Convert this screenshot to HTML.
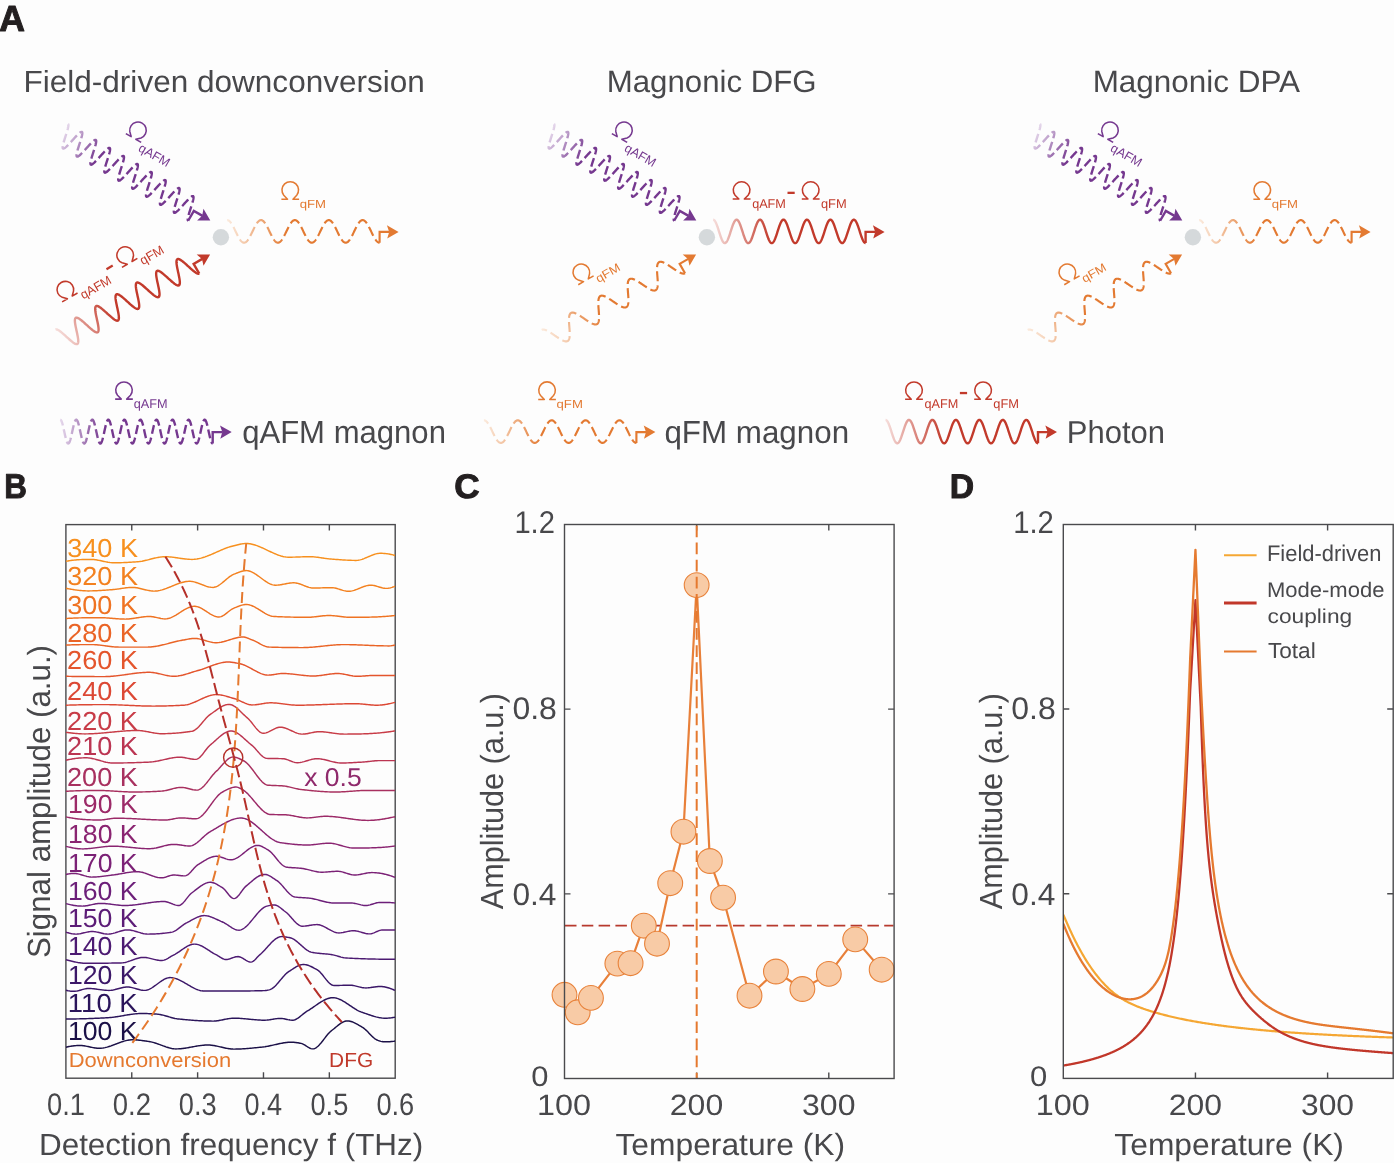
<!DOCTYPE html><html><head><meta charset="utf-8"><style>html,body{margin:0;padding:0;background:#fff;}svg{display:block;will-change:transform;}text{font-family:"Liberation Sans",sans-serif;text-rendering:geometricPrecision;}</style></head><body>
<svg width="1394" height="1163" viewBox="0 0 1394 1163">
<rect width="1394" height="1163" fill="#fdfdfd"/>
<text x="-0.77" y="31.30" font-size="36.34" font-weight="bold" fill="#231f20" textLength="25.70" lengthAdjust="spacingAndGlyphs" stroke="#231f20" stroke-width="1.0" stroke-linejoin="round" id="t1">A</text>
<text x="4.27" y="498.00" font-size="34.45" font-weight="bold" fill="#231f20" textLength="22.66" lengthAdjust="spacingAndGlyphs" stroke="#231f20" stroke-width="1.0" stroke-linejoin="round" id="t2">B</text>
<text x="454.17" y="497.90" font-size="34.16" font-weight="bold" fill="#231f20" textLength="25.43" lengthAdjust="spacingAndGlyphs" stroke="#231f20" stroke-width="1.0" stroke-linejoin="round" id="t3">C</text>
<text x="949.77" y="498.40" font-size="34.30" font-weight="bold" fill="#231f20" textLength="24.36" lengthAdjust="spacingAndGlyphs" stroke="#231f20" stroke-width="1.0" stroke-linejoin="round" id="t4">D</text>
<text x="23.49" y="92.10" font-size="30.52" font-weight="normal" fill="#48484b" textLength="401.37" lengthAdjust="spacingAndGlyphs" id="t5">Field-driven downconversion</text>
<text x="606.70" y="92.00" font-size="30.81" font-weight="normal" fill="#48484b" textLength="209.91" lengthAdjust="spacingAndGlyphs" id="t6">Magnonic DFG</text>
<text x="1092.67" y="92.00" font-size="30.81" font-weight="normal" fill="#48484b" textLength="207.44" lengthAdjust="spacingAndGlyphs" id="t7">Magnonic DPA</text>
<text x="242.14" y="443.20" font-size="32.12" font-weight="normal" fill="#48484b" textLength="203.80" lengthAdjust="spacingAndGlyphs" id="t8">qAFM magnon</text>
<text x="664.45" y="443.20" font-size="31.83" font-weight="normal" fill="#48484b" textLength="184.66" lengthAdjust="spacingAndGlyphs" id="t9">qFM magnon</text>
<text x="1066.78" y="443.00" font-size="31.69" font-weight="normal" fill="#48484b" textLength="98.18" lengthAdjust="spacingAndGlyphs" id="t10">Photon</text>
<defs>
<g id="gP">
<linearGradient id="gPg" gradientUnits="userSpaceOnUse" x1="58.2" y1="0" x2="102.2" y2="0"><stop offset="0" stop-color="#ebe0f0"/><stop offset="1" stop-color="#75388f"/></linearGradient>
<path d="M60.20,419.70 L60.45,419.76 L60.70,419.93 L60.95,420.21 L61.20,420.60 L61.45,421.10 L61.70,421.69 L61.95,422.38 L62.20,423.16 L62.45,424.02 L62.70,424.96 L62.95,425.95 L63.20,427.00 L63.45,428.10 L63.70,429.23 L63.95,430.38 L64.20,431.54 L64.45,432.70 L64.70,433.85 L64.95,434.98 L65.20,436.08 L65.45,437.14 L65.70,438.14 L65.95,439.08 L66.20,439.95 L66.45,440.74 L66.70,441.44 L66.95,442.05 L67.20,442.55 L67.45,442.95 L67.70,443.25 L67.95,443.43 L68.20,443.50 L68.45,443.45 L68.70,443.30 L68.95,443.03 L69.20,442.65 L69.45,442.16 L69.70,441.57 L69.95,440.89 L70.20,440.12 L70.45,439.27 L70.70,438.34 L70.95,437.35 L71.20,436.31 L71.45,435.22 L71.70,434.09 L71.95,432.95 L72.20,431.78 L72.45,430.62 L72.70,429.47 L72.95,428.33 L73.20,427.23 L73.45,426.17 L73.70,425.16 L73.95,424.21 L74.20,423.34 L74.45,422.54 L74.70,421.83 L74.95,421.21 L75.20,420.70 L75.45,420.28 L75.70,419.98 L75.95,419.78 L76.20,419.70 L76.45,419.74 L76.70,419.88 L76.95,420.14 L77.20,420.51 L77.45,420.98 L77.70,421.56 L77.95,422.23 L78.20,422.99 L78.45,423.84 L78.70,424.75 L78.95,425.74 L79.20,426.78 L79.45,427.86 L79.70,428.99 L79.95,430.13 L80.20,431.29 L80.45,432.46 L80.70,433.61 L80.95,434.75 L81.20,435.86 L81.45,436.92 L81.70,437.93 L81.95,438.89 L82.20,439.77 L82.45,440.58 L82.70,441.30 L82.95,441.93 L83.20,442.45 L83.45,442.88 L83.70,443.20 L83.95,443.40 L84.20,443.49 L84.45,443.47 L84.70,443.34 L84.95,443.09 L85.20,442.74 L85.45,442.27 L85.70,441.71 L85.95,441.04 L86.20,440.29 L86.45,439.46 L86.70,438.54 L86.95,437.57 L87.20,436.53 L87.45,435.45 L87.70,434.33 L87.95,433.19 L88.20,432.03 L88.45,430.87 L88.70,429.71 L88.95,428.57 L89.20,427.46 L89.45,426.39 L89.70,425.37 L89.95,424.41 L90.20,423.52 L90.45,422.70 L90.70,421.97 L90.95,421.34 L91.20,420.80 L91.45,420.36 L91.70,420.03 L91.95,419.81 L92.20,419.71 L92.45,419.72 L92.70,419.84 L92.95,420.08 L93.20,420.42 L93.45,420.87 L93.70,421.43 L93.95,422.08 L94.20,422.83 L94.45,423.65 L94.70,424.56 L94.95,425.53 L95.20,426.56 L95.45,427.63 L95.70,428.75 L95.95,429.89 L96.20,431.05 L96.45,432.21 L96.70,433.37 L96.95,434.51 L97.20,435.63 L97.45,436.70 L97.70,437.73 L97.95,438.69 L98.20,439.59 L98.45,440.42 L98.70,441.15 L98.95,441.80 L99.20,442.35 L99.45,442.80 L99.70,443.14 L99.95,443.37 L100.20,443.48 L100.45,443.49 L100.70,443.38 L100.95,443.15 L101.20,442.82 L101.45,442.38 L101.70,441.83 L101.95,441.19 L102.20,440.46 L102.45,439.64 L102.70,438.74 L102.95,437.78 L103.20,436.76 L103.45,435.68 L103.70,434.57 L103.95,433.43 L104.20,432.27 L104.45,431.11 L104.70,429.95 L104.95,428.81 L105.20,427.69 L105.45,426.61 L105.70,425.58 L105.95,424.61 L106.20,423.70 L106.45,422.87 L106.70,422.12 L106.95,421.46 L107.20,420.90 L107.45,420.44 L107.70,420.09 L107.95,419.85 L108.20,419.72 L108.45,419.71 L108.70,419.81 L108.95,420.02 L109.20,420.34 L109.45,420.77 L109.70,421.30 L109.95,421.94 L110.20,422.66 L110.45,423.47 L110.70,424.36 L110.95,425.32 L111.20,426.33 L111.45,427.40 L111.70,428.51 L111.95,429.65 L112.20,430.80 L112.45,431.97 L112.70,433.13 L112.95,434.27 L113.20,435.39 L113.45,436.48 L113.70,437.51 L113.95,438.50 L114.20,439.41 L114.45,440.25 L114.70,441.01 L114.95,441.67 L115.20,442.24 L115.45,442.71 L115.70,443.08 L115.95,443.33 L116.20,443.47 L116.45,443.50 L116.70,443.41 L116.95,443.21 L117.20,442.90 L117.45,442.48 L117.70,441.96 L117.95,441.33 L118.20,440.62 L118.45,439.82 L118.70,438.94 L118.95,437.99 L119.20,436.98 L119.45,435.91 L119.70,434.81 L119.95,433.67 L120.20,432.52 L120.45,431.35 L120.70,430.19 L120.95,429.05 L121.20,427.92 L121.45,426.83 L121.70,425.79 L121.95,424.81 L122.20,423.88 L122.45,423.04 L122.70,422.27 L122.95,421.59 L123.20,421.01 L123.45,420.53 L123.70,420.16 L123.95,419.89 L124.20,419.74 L124.45,419.70 L124.70,419.78 L124.95,419.96 L125.20,420.26 L125.45,420.67 L125.70,421.18 L125.95,421.80 L126.20,422.50 L126.45,423.29 L126.70,424.17 L126.95,425.11 L127.20,426.12 L127.45,427.17 L127.70,428.27 L127.95,429.41 L128.20,430.56 L128.45,431.72 L128.70,432.88 L128.95,434.03 L129.20,435.16 L129.45,436.25 L129.70,437.30 L129.95,438.29 L130.20,439.22 L130.45,440.08 L130.70,440.85 L130.95,441.54 L131.20,442.13 L131.45,442.62 L131.70,443.01 L131.95,443.28 L132.20,443.45 L132.45,443.50 L132.70,443.44 L132.95,443.26 L133.20,442.97 L133.45,442.58 L133.70,442.07 L133.95,441.47 L134.20,440.78 L134.45,439.99 L134.70,439.13 L134.95,438.19 L135.20,437.19 L135.45,436.14 L135.70,435.04 L135.95,433.91 L136.20,432.76 L136.45,431.60 L136.70,430.44 L136.95,429.29 L137.20,428.16 L137.45,427.06 L137.70,426.01 L137.95,425.01 L138.20,424.07 L138.45,423.21 L138.70,422.42 L138.95,421.73 L139.20,421.13 L139.45,420.62 L139.70,420.23 L139.95,419.94 L140.20,419.76 L140.45,419.70 L140.70,419.75 L140.95,419.92 L141.20,420.19 L141.45,420.58 L141.70,421.07 L141.95,421.66 L142.20,422.35 L142.45,423.12 L142.70,423.98 L142.95,424.91 L143.20,425.90 L143.45,426.95 L143.70,428.04 L143.95,429.17 L144.20,430.32 L144.45,431.48 L144.70,432.64 L144.95,433.79 L145.20,434.93 L145.45,436.03 L145.70,437.08 L145.95,438.09 L146.20,439.03 L146.45,439.91 L146.70,440.70 L146.95,441.40 L147.20,442.02 L147.45,442.53 L147.70,442.94 L147.95,443.24 L148.20,443.42 L148.45,443.50 L148.70,443.46 L148.95,443.31 L149.20,443.04 L149.45,442.67 L149.70,442.19 L149.95,441.61 L150.20,440.93 L150.45,440.16 L150.70,439.32 L150.95,438.39 L151.20,437.41 L151.45,436.37 L151.70,435.28 L151.95,434.15 L152.20,433.01 L152.45,431.85 L152.70,430.68 L152.95,429.53 L153.20,428.39 L153.45,427.29 L153.70,426.22 L153.95,425.21 L154.20,424.26 L154.45,423.38 L154.70,422.58 L154.95,421.87 L155.20,421.24 L155.45,420.72 L155.70,420.30 L155.95,419.99 L156.20,419.79 L156.45,419.70 L156.70,419.73 L156.95,419.87 L157.20,420.12 L157.45,420.49 L157.70,420.96 L157.95,421.53 L158.20,422.19 L158.45,422.95 L158.70,423.79 L158.95,424.70 L159.20,425.69 L159.45,426.72 L159.70,427.81 L159.95,428.93 L160.20,430.07 L160.45,431.23 L160.70,432.40 L160.95,433.55 L161.20,434.69 L161.45,435.80 L161.70,436.87 L161.95,437.88 L162.20,438.84 L162.45,439.73 L162.70,440.54 L162.95,441.26 L163.20,441.90 L163.45,442.43 L163.70,442.86 L163.95,443.18 L164.20,443.39 L164.45,443.49 L164.70,443.48 L164.95,443.35 L165.20,443.11 L165.45,442.76 L165.70,442.30 L165.95,441.74 L166.20,441.08 L166.45,440.33 L166.70,439.50 L166.95,438.59 L167.20,437.62 L167.45,436.59 L167.70,435.51 L167.95,434.39 L168.20,433.25 L168.45,432.09 L168.70,430.93 L168.95,429.77 L169.20,428.63 L169.45,427.52 L169.70,426.44 L169.95,425.42 L170.20,424.46 L170.45,423.56 L170.70,422.74 L170.95,422.01 L171.20,421.37 L171.45,420.82 L171.70,420.38 L171.95,420.05 L172.20,419.82 L172.45,419.71 L172.70,419.72 L172.95,419.83 L173.20,420.06 L173.45,420.40 L173.70,420.85 L173.95,421.40 L174.20,422.05 L174.45,422.78 L174.70,423.61 L174.95,424.51 L175.20,425.47 L175.45,426.50 L175.70,427.57 L175.95,428.69 L176.20,429.83 L176.45,430.99 L176.70,432.15 L176.95,433.31 L177.20,434.45 L177.45,435.57 L177.70,436.64 L177.95,437.67 L178.20,438.64 L178.45,439.55 L178.70,440.37 L178.95,441.12 L179.20,441.77 L179.45,442.33 L179.70,442.78 L179.95,443.12 L180.20,443.36 L180.45,443.48 L180.70,443.49 L180.95,443.39 L181.20,443.17 L181.45,442.84 L181.70,442.40 L181.95,441.86 L182.20,441.23 L182.45,440.50 L182.70,439.68 L182.95,438.79 L183.20,437.83 L183.45,436.81 L183.70,435.74 L183.95,434.63 L184.20,433.49 L184.45,432.33 L184.70,431.17 L184.95,430.01 L185.20,428.87 L185.45,427.75 L185.70,426.67 L185.95,425.63 L186.20,424.66 L186.45,423.74 L186.70,422.91 L186.95,422.16 L187.20,421.49 L187.45,420.93 L187.70,420.46 L187.95,420.11 L188.20,419.86 L188.45,419.73 L188.70,419.71 L188.95,419.80 L189.20,420.00 L189.45,420.32 L189.70,420.75 L189.95,421.27 L190.20,421.90 L190.45,422.62 L190.70,423.43 L190.95,424.31 L191.20,425.27 L191.45,426.28 L191.70,427.34 L191.95,428.45 L192.20,429.59 L192.45,430.74 L192.70,431.91 L192.95,433.07 L193.20,434.21 L193.45,435.34 L193.70,436.42 L193.95,437.46 L194.20,438.45 L194.45,439.36 L194.70,440.21 L194.95,440.97 L195.20,441.64 L195.45,442.22 L195.70,442.69 L195.95,443.06 L196.20,443.32 L196.45,443.46 L196.70,443.50 L196.95,443.42 L197.20,443.22 L197.45,442.92 L197.70,442.50 L197.95,441.99 L198.20,441.37 L198.45,440.66 L198.70,439.86 L198.95,438.99 L199.20,438.04 L199.45,437.03 L199.70,435.97 L199.95,434.87 L200.20,433.73 L200.45,432.58 L200.70,431.42 L200.95,430.25 L201.20,429.11 L201.45,427.98 L201.70,426.89 L201.95,425.85 L202.20,424.86 L202.45,423.93 L202.70,423.08 L202.95,422.31 L203.20,421.63 L203.45,421.04 L203.70,420.55 L203.95,420.17 L204.20,419.90 L204.45,419.75 L204.70,419.70 L204.95,419.77 L205.20,419.95 L205.45,420.25 L205.70,420.65 L205.95,421.15 L206.20,421.76 L206.45,422.46 L206.70,423.25 L206.95,424.12 L207.20,425.06 L207.45,426.06 L207.70,427.12 L207.95,428.22 L208.20,429.35 L208.45,430.50 L208.70,431.66 L208.95,432.82 L209.20,433.97 L209.45,435.10 L209.70,436.20 L209.95,437.25 L210.20,438.24 L210.45,439.18 L210.70,440.04 L210.95,440.82 L211.20,441.51 L211.45,442.10 L211.70,442.60 L211.95,442.99 L212.20,443.27 L212.45,443.44 L212.70,443.50" fill="none" stroke="url(#gPg)" stroke-width="2.4" stroke-dasharray="9 3.84" stroke-dashoffset="2.5"/>
<path d="M212.70,443.50 L212.70,432.10 L222.70,432.10" fill="none" stroke="#75388f" stroke-width="2.4" stroke-linejoin="miter"/>
<path d="M231.70,432.10 L220.00,425.50 L222.30,432.10 L220.30,438.70 Z" fill="#75388f"/>
<path d="M115.15,399.12 H121.28 L117.51,395.30 A8.26,8.23 0 1 1 130.47,395.30 L126.70,399.12 H132.83" fill="none" stroke="#75388f" stroke-width="1.55" stroke-linejoin="round"/>
<text x="133.72" y="407.90" font-size="12.65" font-weight="normal" fill="#75388f" textLength="33.85" lengthAdjust="spacingAndGlyphs" id="t11">qAFM</text>
</g>
<g id="gO">
<linearGradient id="gOg" gradientUnits="userSpaceOnUse" x1="481.9" y1="0" x2="541.9" y2="0"><stop offset="0" stop-color="#fcefe4"/><stop offset="1" stop-color="#e37a32"/></linearGradient>
<path d="M483.90,420.30 L484.15,420.31 L484.40,420.35 L484.65,420.41 L484.90,420.49 L485.15,420.60 L485.40,420.73 L485.65,420.89 L485.90,421.07 L486.15,421.27 L486.40,421.49 L486.65,421.74 L486.90,422.00 L487.15,422.29 L487.40,422.60 L487.65,422.92 L487.90,423.27 L488.15,423.63 L488.40,424.01 L488.65,424.41 L488.90,424.82 L489.15,425.24 L489.40,425.68 L489.65,426.14 L489.90,426.60 L490.15,427.07 L490.40,427.56 L490.65,428.05 L490.90,428.55 L491.15,429.06 L491.40,429.57 L491.65,430.09 L491.90,430.61 L492.15,431.13 L492.40,431.66 L492.65,432.18 L492.90,432.70 L493.15,433.22 L493.40,433.74 L493.65,434.25 L493.90,434.76 L494.15,435.26 L494.40,435.75 L494.65,436.23 L494.90,436.70 L495.15,437.17 L495.40,437.62 L495.65,438.05 L495.90,438.48 L496.15,438.88 L496.40,439.28 L496.65,439.65 L496.90,440.01 L497.15,440.35 L497.40,440.67 L497.65,440.98 L497.90,441.26 L498.15,441.52 L498.40,441.76 L498.65,441.98 L498.90,442.17 L499.15,442.35 L499.40,442.50 L499.65,442.62 L499.90,442.73 L500.15,442.81 L500.40,442.86 L500.65,442.89 L500.90,442.90 L501.15,442.88 L501.40,442.84 L501.65,442.77 L501.90,442.68 L502.15,442.57 L502.40,442.43 L502.65,442.27 L502.90,442.09 L503.15,441.88 L503.40,441.66 L503.65,441.41 L503.90,441.13 L504.15,440.84 L504.40,440.53 L504.65,440.20 L504.90,439.85 L505.15,439.49 L505.40,439.10 L505.65,438.70 L505.90,438.29 L506.15,437.86 L506.40,437.42 L506.65,436.96 L506.90,436.50 L507.15,436.02 L507.40,435.53 L507.65,435.04 L507.90,434.53 L508.15,434.03 L508.40,433.51 L508.65,432.99 L508.90,432.47 L509.15,431.95 L509.40,431.43 L509.65,430.90 L509.90,430.38 L510.15,429.86 L510.40,429.35 L510.65,428.83 L510.90,428.33 L511.15,427.83 L511.40,427.34 L511.65,426.86 L511.90,426.39 L512.15,425.93 L512.40,425.49 L512.65,425.05 L512.90,424.63 L513.15,424.23 L513.40,423.84 L513.65,423.47 L513.90,423.11 L514.15,422.78 L514.40,422.46 L514.65,422.16 L514.90,421.88 L515.15,421.63 L515.40,421.39 L515.65,421.18 L515.90,420.99 L516.15,420.82 L516.40,420.67 L516.65,420.55 L516.90,420.45 L517.15,420.38 L517.40,420.33 L517.65,420.30 L517.90,420.30 L518.15,420.33 L518.40,420.37 L518.65,420.44 L518.90,420.54 L519.15,420.66 L519.40,420.80 L519.65,420.97 L519.90,421.15 L520.15,421.37 L520.40,421.60 L520.65,421.85 L520.90,422.13 L521.15,422.42 L521.40,422.74 L521.65,423.07 L521.90,423.43 L522.15,423.80 L522.40,424.18 L522.65,424.59 L522.90,425.01 L523.15,425.44 L523.40,425.88 L523.65,426.34 L523.90,426.81 L524.15,427.29 L524.40,427.78 L524.65,428.27 L524.90,428.78 L525.15,429.29 L525.40,429.80 L525.65,430.32 L525.90,430.84 L526.15,431.37 L526.40,431.89 L526.65,432.41 L526.90,432.94 L527.15,433.45 L527.40,433.97 L527.65,434.48 L527.90,434.98 L528.15,435.48 L528.40,435.96 L528.65,436.44 L528.90,436.91 L529.15,437.37 L529.40,437.81 L529.65,438.24 L529.90,438.66 L530.15,439.06 L530.40,439.44 L530.65,439.81 L530.90,440.16 L531.15,440.50 L531.40,440.81 L531.65,441.10 L531.90,441.38 L532.15,441.63 L532.40,441.86 L532.65,442.07 L532.90,442.25 L533.15,442.42 L533.40,442.56 L533.65,442.67 L533.90,442.77 L534.15,442.83 L534.40,442.88 L534.65,442.90 L534.90,442.89 L535.15,442.87 L535.40,442.81 L535.65,442.74 L535.90,442.64 L536.15,442.51 L536.40,442.36 L536.65,442.19 L536.90,442.00 L537.15,441.78 L537.40,441.55 L537.65,441.29 L537.90,441.01 L538.15,440.71 L538.40,440.39 L538.65,440.05 L538.90,439.69 L539.15,439.32 L539.40,438.93 L539.65,438.52 L539.90,438.10 L540.15,437.66 L540.40,437.22 L540.65,436.76 L540.90,436.28 L541.15,435.80 L541.40,435.31 L541.65,434.81 L541.90,434.31 L542.15,433.80 L542.40,433.28 L542.65,432.76 L542.90,432.24 L543.15,431.72 L543.40,431.19 L543.65,430.67 L543.90,430.15 L544.15,429.63 L544.40,429.12 L544.65,428.61 L544.90,428.11 L545.15,427.61 L545.40,427.13 L545.65,426.65 L545.90,426.19 L546.15,425.73 L546.40,425.29 L546.65,424.86 L546.90,424.45 L547.15,424.05 L547.40,423.67 L547.65,423.31 L547.90,422.96 L548.15,422.63 L548.40,422.32 L548.65,422.03 L548.90,421.77 L549.15,421.52 L549.40,421.29 L549.65,421.09 L549.90,420.91 L550.15,420.75 L550.40,420.62 L550.65,420.50 L550.90,420.42 L551.15,420.35 L551.40,420.31 L551.65,420.30 L551.90,420.31 L552.15,420.34 L552.40,420.40 L552.65,420.48 L552.90,420.59 L553.15,420.72 L553.40,420.87 L553.65,421.05 L553.90,421.25 L554.15,421.47 L554.40,421.71 L554.65,421.97 L554.90,422.26 L555.15,422.56 L555.40,422.89 L555.65,423.23 L555.90,423.59 L556.15,423.97 L556.40,424.36 L556.65,424.77 L556.90,425.20 L557.15,425.63 L557.40,426.08 L557.65,426.55 L557.90,427.02 L558.15,427.51 L558.40,428.00 L558.65,428.50 L558.90,429.00 L559.15,429.52 L559.40,430.03 L559.65,430.55 L559.90,431.08 L560.15,431.60 L560.40,432.12 L560.65,432.65 L560.90,433.17 L561.15,433.68 L561.40,434.20 L561.65,434.70 L561.90,435.20 L562.15,435.69 L562.40,436.18 L562.65,436.65 L562.90,437.12 L563.15,437.57 L563.40,438.00 L563.65,438.43 L563.90,438.84 L564.15,439.23 L564.40,439.61 L564.65,439.97 L564.90,440.31 L565.15,440.64 L565.40,440.94 L565.65,441.23 L565.90,441.49 L566.15,441.73 L566.40,441.95 L566.65,442.15 L566.90,442.33 L567.15,442.48 L567.40,442.61 L567.65,442.72 L567.90,442.80 L568.15,442.86 L568.40,442.89 L568.65,442.90 L568.90,442.89 L569.15,442.85 L569.40,442.78 L569.65,442.70 L569.90,442.58 L570.15,442.45 L570.40,442.29 L570.65,442.11 L570.90,441.91 L571.15,441.68 L571.40,441.43 L571.65,441.17 L571.90,440.88 L572.15,440.57 L572.40,440.24 L572.65,439.89 L572.90,439.53 L573.15,439.15 L573.40,438.75 L573.65,438.34 L573.90,437.91 L574.15,437.47 L574.40,437.01 L574.65,436.55 L574.90,436.07 L575.15,435.59 L575.40,435.09 L575.65,434.59 L575.90,434.08 L576.15,433.57 L576.40,433.05 L576.65,432.53 L576.90,432.01 L577.15,431.48 L577.40,430.96 L577.65,430.44 L577.90,429.92 L578.15,429.40 L578.40,428.89 L578.65,428.39 L578.90,427.89 L579.15,427.40 L579.40,426.92 L579.65,426.44 L579.90,425.98 L580.15,425.54 L580.40,425.10 L580.65,424.68 L580.90,424.27 L581.15,423.88 L581.40,423.51 L581.65,423.15 L581.90,422.81 L582.15,422.49 L582.40,422.19 L582.65,421.91 L582.90,421.65 L583.15,421.42 L583.40,421.20 L583.65,421.01 L583.90,420.84 L584.15,420.69 L584.40,420.56 L584.65,420.46 L584.90,420.39 L585.15,420.33 L585.40,420.31 L585.65,420.30 L585.90,420.32 L586.15,420.37 L586.40,420.43 L586.65,420.53 L586.90,420.64 L587.15,420.78 L587.40,420.95 L587.65,421.13 L587.90,421.34 L588.15,421.57 L588.40,421.82 L588.65,422.10 L588.90,422.39 L589.15,422.70 L589.40,423.04 L589.65,423.39 L589.90,423.76 L590.15,424.14 L590.40,424.54 L590.65,424.96 L590.90,425.39 L591.15,425.83 L591.40,426.29 L591.65,426.76 L591.90,427.24 L592.15,427.72 L592.40,428.22 L592.65,428.72 L592.90,429.23 L593.15,429.75 L593.40,430.26 L593.65,430.79 L593.90,431.31 L594.15,431.83 L594.40,432.36 L594.65,432.88 L594.90,433.40 L595.15,433.91 L595.40,434.42 L595.65,434.93 L595.90,435.42 L596.15,435.91 L596.40,436.39 L596.65,436.86 L596.90,437.32 L597.15,437.76 L597.40,438.19 L597.65,438.61 L597.90,439.02 L598.15,439.40 L598.40,439.77 L598.65,440.13 L598.90,440.46 L599.15,440.78 L599.40,441.07 L599.65,441.35 L599.90,441.60 L600.15,441.83 L600.40,442.05 L600.65,442.23 L600.90,442.40 L601.15,442.54 L601.40,442.66 L601.65,442.76 L601.90,442.83 L602.15,442.87 L602.40,442.90 L602.65,442.90 L602.90,442.87 L603.15,442.82 L603.40,442.75 L603.65,442.65 L603.90,442.53 L604.15,442.38 L604.40,442.21 L604.65,442.02 L604.90,441.81 L605.15,441.57 L605.40,441.32 L605.65,441.04 L605.90,440.74 L606.15,440.42 L606.40,440.09 L606.65,439.73 L606.90,439.36 L607.15,438.97 L607.40,438.57 L607.65,438.15 L607.90,437.71 L608.15,437.27 L608.40,436.81 L608.65,436.34 L608.90,435.86 L609.15,435.37 L609.40,434.87 L609.65,434.37 L609.90,433.85 L610.15,433.34 L610.40,432.82 L610.65,432.30 L610.90,431.77 L611.15,431.25 L611.40,430.73 L611.65,430.21 L611.90,429.69 L612.15,429.17 L612.40,428.67 L612.65,428.16 L612.90,427.67 L613.15,427.18 L613.40,426.70 L613.65,426.24 L613.90,425.78 L614.15,425.34 L614.40,424.91 L614.65,424.50 L614.90,424.10 L615.15,423.71 L615.40,423.35 L615.65,423.00 L615.90,422.67 L616.15,422.36 L616.40,422.07 L616.65,421.79 L616.90,421.54 L617.15,421.32 L617.40,421.11 L617.65,420.93 L617.90,420.77 L618.15,420.63 L618.40,420.52 L618.65,420.43 L618.90,420.36 L619.15,420.32 L619.40,420.30 L619.65,420.31 L619.90,420.34 L620.15,420.39 L620.40,420.47 L620.65,420.58 L620.90,420.70 L621.15,420.85 L621.40,421.03 L621.65,421.22 L621.90,421.44 L622.15,421.68 L622.40,421.94 L622.65,422.22 L622.90,422.53 L623.15,422.85 L623.40,423.19 L623.65,423.55 L623.90,423.92 L624.15,424.32 L624.40,424.72 L624.65,425.15 L624.90,425.58 L625.15,426.03 L625.40,426.50 L625.65,426.97 L625.90,427.45 L626.15,427.94 L626.40,428.44 L626.65,428.95 L626.90,429.46 L627.15,429.98 L627.40,430.50 L627.65,431.02 L627.90,431.54 L628.15,432.07 L628.40,432.59 L628.65,433.11 L628.90,433.63 L629.15,434.14 L629.40,434.65 L629.65,435.15 L629.90,435.64 L630.15,436.13 L630.40,436.60 L630.65,437.06 L630.90,437.52 L631.15,437.96 L631.40,438.38 L631.65,438.79 L631.90,439.19 L632.15,439.57 L632.40,439.93 L632.65,440.28 L632.90,440.60 L633.15,440.91 L633.40,441.20 L633.65,441.46 L633.90,441.71 L634.15,441.93 L634.40,442.13 L634.65,442.31 L634.90,442.47 L635.15,442.60 L635.40,442.71 L635.65,442.79 L635.90,442.85 L636.15,442.89 L636.40,442.90" fill="none" stroke="url(#gOg)" stroke-width="2.15" stroke-dasharray="11 4.13 10 4.13" stroke-dashoffset="5.5"/>
<path d="M636.40,442.90 L636.40,432.10 L646.40,432.10" fill="none" stroke="#e37a32" stroke-width="2.15" stroke-linejoin="miter"/>
<path d="M655.40,432.10 L643.70,425.50 L646.00,432.10 L644.00,438.70 Z" fill="#e37a32"/>
<path d="M538.20,399.43 H544.34 L540.56,395.49 A8.28,8.40 0 1 1 553.54,395.49 L549.76,399.43 H555.90" fill="none" stroke="#e37a32" stroke-width="1.55" stroke-linejoin="round"/>
<text x="556.57" y="408.10" font-size="11.77" font-weight="normal" fill="#e37a32" textLength="26.31" lengthAdjust="spacingAndGlyphs" id="t12">qFM</text>
</g>
<g id="gR">
<linearGradient id="gRg" gradientUnits="userSpaceOnUse" x1="883.5" y1="0" x2="943.5" y2="0"><stop offset="0" stop-color="#f8e4e2"/><stop offset="1" stop-color="#c23a2b"/></linearGradient>
<path d="M885.50,419.90 L885.75,419.93 L886.00,420.00 L886.25,420.14 L886.50,420.32 L886.75,420.55 L887.00,420.83 L887.25,421.16 L887.50,421.54 L887.75,421.96 L888.00,422.43 L888.25,422.93 L888.50,423.48 L888.75,424.06 L889.00,424.67 L889.25,425.32 L889.50,426.00 L889.75,426.69 L890.00,427.42 L890.25,428.16 L890.50,428.91 L890.75,429.68 L891.00,430.46 L891.25,431.24 L891.50,432.02 L891.75,432.80 L892.00,433.58 L892.25,434.35 L892.50,435.10 L892.75,435.84 L893.00,436.56 L893.25,437.26 L893.50,437.93 L893.75,438.57 L894.00,439.19 L894.25,439.77 L894.50,440.31 L894.75,440.81 L895.00,441.27 L895.25,441.69 L895.50,442.07 L895.75,442.39 L896.00,442.67 L896.25,442.90 L896.50,443.08 L896.75,443.20 L897.00,443.28 L897.25,443.30 L897.50,443.27 L897.75,443.19 L898.00,443.05 L898.25,442.87 L898.50,442.63 L898.75,442.34 L899.00,442.01 L899.25,441.63 L899.50,441.21 L899.75,440.74 L900.00,440.23 L900.25,439.68 L900.50,439.09 L900.75,438.48 L901.00,437.83 L901.25,437.15 L901.50,436.45 L901.75,435.73 L902.00,434.99 L902.25,434.23 L902.50,433.46 L902.75,432.68 L903.00,431.90 L903.25,431.12 L903.50,430.34 L903.75,429.56 L904.00,428.80 L904.25,428.04 L904.50,427.30 L904.75,426.59 L905.00,425.89 L905.25,425.22 L905.50,424.58 L905.75,423.97 L906.00,423.39 L906.25,422.85 L906.50,422.35 L906.75,421.89 L907.00,421.48 L907.25,421.11 L907.50,420.78 L907.75,420.51 L908.00,420.29 L908.25,420.11 L908.50,419.99 L908.75,419.92 L909.00,419.90 L909.25,419.93 L909.50,420.02 L909.75,420.16 L910.00,420.35 L910.25,420.59 L910.50,420.88 L910.75,421.22 L911.00,421.60 L911.25,422.03 L911.50,422.50 L911.75,423.01 L912.00,423.56 L912.25,424.15 L912.50,424.77 L912.75,425.42 L913.00,426.10 L913.25,426.80 L913.50,427.53 L913.75,428.27 L914.00,429.03 L914.25,429.80 L914.50,430.58 L914.75,431.36 L915.00,432.14 L915.25,432.92 L915.50,433.70 L915.75,434.46 L916.00,435.22 L916.25,435.95 L916.50,436.67 L916.75,437.36 L917.00,438.03 L917.25,438.67 L917.50,439.28 L917.75,439.85 L918.00,440.39 L918.25,440.89 L918.50,441.34 L918.75,441.75 L919.00,442.12 L919.25,442.44 L919.50,442.71 L919.75,442.93 L920.00,443.10 L920.25,443.22 L920.50,443.28 L920.75,443.30 L921.00,443.26 L921.25,443.17 L921.50,443.03 L921.75,442.83 L922.00,442.59 L922.25,442.30 L922.50,441.96 L922.75,441.57 L923.00,441.14 L923.25,440.66 L923.50,440.15 L923.75,439.59 L924.00,439.00 L924.25,438.38 L924.50,437.73 L924.75,437.05 L925.00,436.34 L925.25,435.61 L925.50,434.87 L925.75,434.11 L926.00,433.34 L926.25,432.56 L926.50,431.78 L926.75,431.00 L927.00,430.22 L927.25,429.44 L927.50,428.68 L927.75,427.93 L928.00,427.19 L928.25,426.48 L928.50,425.78 L928.75,425.12 L929.00,424.48 L929.25,423.88 L929.50,423.31 L929.75,422.77 L930.00,422.28 L930.25,421.83 L930.50,421.42 L930.75,421.05 L931.00,420.74 L931.25,420.47 L931.50,420.26 L931.75,420.09 L932.00,419.98 L932.25,419.91 L932.50,419.90 L932.75,419.94 L933.00,420.04 L933.25,420.19 L933.50,420.38 L933.75,420.63 L934.00,420.93 L934.25,421.27 L934.50,421.66 L934.75,422.10 L935.00,422.58 L935.25,423.10 L935.50,423.65 L935.75,424.24 L936.00,424.87 L936.25,425.53 L936.50,426.21 L936.75,426.91 L937.00,427.64 L937.25,428.39 L937.50,429.15 L937.75,429.92 L938.00,430.70 L938.25,431.48 L938.50,432.26 L938.75,433.04 L939.00,433.82 L939.25,434.58 L939.50,435.33 L939.75,436.06 L940.00,436.78 L940.25,437.47 L940.50,438.13 L940.75,438.77 L941.00,439.37 L941.25,439.94 L941.50,440.47 L941.75,440.96 L942.00,441.41 L942.25,441.81 L942.50,442.17 L942.75,442.48 L943.00,442.75 L943.25,442.96 L943.50,443.12 L943.75,443.23 L944.00,443.29 L944.25,443.30 L944.50,443.25 L944.75,443.15 L945.00,443.00 L945.25,442.80 L945.50,442.55 L945.75,442.25 L946.00,441.90 L946.25,441.50 L946.50,441.07 L946.75,440.58 L947.00,440.06 L947.25,439.50 L947.50,438.91 L947.75,438.28 L948.00,437.62 L948.25,436.94 L948.50,436.23 L948.75,435.50 L949.00,434.75 L949.25,433.99 L949.50,433.22 L949.75,432.44 L950.00,431.66 L950.25,430.88 L950.50,430.10 L950.75,429.32 L951.00,428.56 L951.25,427.81 L951.50,427.08 L951.75,426.37 L952.00,425.68 L952.25,425.02 L952.50,424.39 L952.75,423.79 L953.00,423.22 L953.25,422.69 L953.50,422.21 L953.75,421.76 L954.00,421.36 L954.25,421.00 L954.50,420.70 L954.75,420.44 L955.00,420.23 L955.25,420.07 L955.50,419.96 L955.75,419.91 L956.00,419.91 L956.25,419.96 L956.50,420.06 L956.75,420.21 L957.00,420.42 L957.25,420.67 L957.50,420.98 L957.75,421.33 L958.00,421.73 L958.25,422.17 L958.50,422.65 L958.75,423.18 L959.00,423.74 L959.25,424.34 L959.50,424.97 L959.75,425.63 L960.00,426.32 L960.25,427.03 L960.50,427.76 L960.75,428.50 L961.00,429.27 L961.25,430.04 L961.50,430.82 L961.75,431.60 L962.00,432.38 L962.25,433.16 L962.50,433.93 L962.75,434.70 L963.00,435.44 L963.25,436.17 L963.50,436.88 L963.75,437.57 L964.00,438.23 L964.25,438.86 L964.50,439.46 L964.75,440.02 L965.00,440.55 L965.25,441.03 L965.50,441.47 L965.75,441.87 L966.00,442.22 L966.25,442.53 L966.50,442.78 L966.75,442.99 L967.00,443.14 L967.25,443.24 L967.50,443.29 L967.75,443.29 L968.00,443.24 L968.25,443.13 L968.50,442.97 L968.75,442.76 L969.00,442.50 L969.25,442.20 L969.50,441.84 L969.75,441.44 L970.00,440.99 L970.25,440.51 L970.50,439.98 L970.75,439.41 L971.00,438.81 L971.25,438.18 L971.50,437.52 L971.75,436.83 L972.00,436.12 L972.25,435.39 L972.50,434.64 L972.75,433.88 L973.00,433.10 L973.25,432.32 L973.50,431.54 L973.75,430.76 L974.00,429.98 L974.25,429.21 L974.50,428.45 L974.75,427.70 L975.00,426.97 L975.25,426.26 L975.50,425.58 L975.75,424.92 L976.00,424.29 L976.25,423.70 L976.50,423.14 L976.75,422.62 L977.00,422.13 L977.25,421.70 L977.50,421.30 L977.75,420.95 L978.00,420.65 L978.25,420.40 L978.50,420.20 L978.75,420.05 L979.00,419.95 L979.25,419.90 L979.50,419.91 L979.75,419.97 L980.00,420.08 L980.25,420.24 L980.50,420.45 L980.75,420.72 L981.00,421.03 L981.25,421.39 L981.50,421.79 L981.75,422.24 L982.00,422.73 L982.25,423.26 L982.50,423.83 L982.75,424.43 L983.00,425.07 L983.25,425.73 L983.50,426.42 L983.75,427.14 L984.00,427.87 L984.25,428.62 L984.50,429.38 L984.75,430.16 L985.00,430.94 L985.25,431.72 L985.50,432.50 L985.75,433.28 L986.00,434.05 L986.25,434.81 L986.50,435.56 L986.75,436.29 L987.00,436.99 L987.25,437.67 L987.50,438.33 L987.75,438.96 L988.00,439.55 L988.25,440.10 L988.50,440.62 L988.75,441.10 L989.00,441.54 L989.25,441.93 L989.50,442.27 L989.75,442.57 L990.00,442.82 L990.25,443.01 L990.50,443.16 L990.75,443.26 L991.00,443.30 L991.25,443.29 L991.50,443.22 L991.75,443.11 L992.00,442.94 L992.25,442.73 L992.50,442.46 L992.75,442.15 L993.00,441.78 L993.25,441.37 L993.50,440.92 L993.75,440.43 L994.00,439.89 L994.25,439.32 L994.50,438.72 L994.75,438.08 L995.00,437.42 L995.25,436.72 L995.50,436.01 L995.75,435.27 L996.00,434.52 L996.25,433.76 L996.50,432.98 L996.75,432.20 L997.00,431.42 L997.25,430.64 L997.50,429.86 L997.75,429.09 L998.00,428.33 L998.25,427.59 L998.50,426.86 L998.75,426.15 L999.00,425.47 L999.25,424.82 L999.50,424.20 L999.75,423.61 L1000.00,423.05 L1000.25,422.54 L1000.50,422.06 L1000.75,421.63 L1001.00,421.24 L1001.25,420.90 L1001.50,420.61 L1001.75,420.37 L1002.00,420.17 L1002.25,420.03 L1002.50,419.94 L1002.75,419.90 L1003.00,419.92 L1003.25,419.98 L1003.50,420.10 L1003.75,420.27 L1004.00,420.49 L1004.25,420.76 L1004.50,421.08 L1004.75,421.45 L1005.00,421.86 L1005.25,422.31 L1005.50,422.81 L1005.75,423.35 L1006.00,423.92 L1006.25,424.53 L1006.50,425.17 L1006.75,425.84 L1007.00,426.53 L1007.25,427.25 L1007.50,427.98 L1007.75,428.74 L1008.00,429.50 L1008.25,430.28 L1008.50,431.06 L1008.75,431.84 L1009.00,432.62 L1009.25,433.40 L1009.50,434.17 L1009.75,434.93 L1010.00,435.67 L1010.25,436.40 L1010.50,437.10 L1010.75,437.78 L1011.00,438.43 L1011.25,439.05 L1011.50,439.64 L1011.75,440.19 L1012.00,440.70 L1012.25,441.17 L1012.50,441.60 L1012.75,441.98 L1013.00,442.32 L1013.25,442.61 L1013.50,442.85 L1013.75,443.04 L1014.00,443.18 L1014.25,443.27 L1014.50,443.30 L1014.75,443.28 L1015.00,443.21 L1015.25,443.09 L1015.50,442.91 L1015.75,442.69 L1016.00,442.42 L1016.25,442.09 L1016.50,441.72 L1016.75,441.31 L1017.00,440.85 L1017.25,440.35 L1017.50,439.81 L1017.75,439.23 L1018.00,438.62 L1018.25,437.98 L1018.50,437.31 L1018.75,436.61 L1019.00,435.90 L1019.25,435.16 L1019.50,434.40 L1019.75,433.64 L1020.00,432.86 L1020.25,432.08 L1020.50,431.30 L1020.75,430.52 L1021.00,429.74 L1021.25,428.97 L1021.50,428.21 L1021.75,427.47 L1022.00,426.75 L1022.25,426.05 L1022.50,425.37 L1022.75,424.72 L1023.00,424.11 L1023.25,423.52 L1023.50,422.97 L1023.75,422.46 L1024.00,421.99 L1024.25,421.57 L1024.50,421.19 L1024.75,420.86 L1025.00,420.57 L1025.25,420.33 L1025.50,420.15 L1025.75,420.01 L1026.00,419.93 L1026.25,419.90 L1026.50,419.92 L1026.75,420.00 L1027.00,420.12 L1027.25,420.30 L1027.50,420.53 L1027.75,420.81 L1028.00,421.13 L1028.25,421.51 L1028.50,421.93 L1028.75,422.39 L1029.00,422.89 L1029.25,423.43 L1029.50,424.01 L1029.75,424.63 L1030.00,425.27 L1030.25,425.94 L1030.50,426.64 L1030.75,427.36 L1031.00,428.10 L1031.25,428.85 L1031.50,429.62 L1031.75,430.40 L1032.00,431.18 L1032.25,431.96 L1032.50,432.74 L1032.75,433.52 L1033.00,434.29 L1033.25,435.04 L1033.50,435.78 L1033.75,436.51 L1034.00,437.20 L1034.25,437.88 L1034.50,438.53 L1034.75,439.14 L1035.00,439.72 L1035.25,440.27 L1035.50,440.77 L1035.75,441.24 L1036.00,441.66 L1036.25,442.04 L1036.50,442.37 L1036.75,442.65 L1037.00,442.88 L1037.25,443.06 L1037.50,443.20 L1037.75,443.27 L1038.00,443.30" fill="none" stroke="url(#gRg)" stroke-width="2.4"/>
<path d="M1038.00,443.30 L1038.00,432.10 L1048.00,432.10" fill="none" stroke="#c23a2b" stroke-width="2.4" stroke-linejoin="miter"/>
<path d="M1057.00,432.10 L1045.30,425.50 L1047.60,432.10 L1045.60,438.70 Z" fill="#c23a2b"/>
<path d="M905.10,399.23 H911.27 L907.47,395.38 A8.33,8.27 0 1 1 920.53,395.38 L916.73,399.23 H922.90" fill="none" stroke="#c23a2b" stroke-width="1.55" stroke-linejoin="round"/>
<text x="924.54" y="407.80" font-size="12.65" font-weight="normal" fill="#c23a2b" textLength="33.77" lengthAdjust="spacingAndGlyphs" id="t13">qAFM</text>
<rect x="959.9" y="391.9" width="7.2" height="2.3" fill="#c23a2b"/>
<path d="M974.20,399.23 H980.37 L976.57,395.38 A8.33,8.27 0 1 1 989.63,395.38 L985.83,399.23 H992.00" fill="none" stroke="#c23a2b" stroke-width="1.55" stroke-linejoin="round"/>
<text x="993.36" y="407.80" font-size="12.65" font-weight="normal" fill="#c23a2b" textLength="25.72" lengthAdjust="spacingAndGlyphs" id="t14">qFM</text>
</g>
</defs>
<use href="#gP"/><use href="#gO"/><use href="#gR"/>
<circle cx="220.90" cy="237.2" r="8.2" fill="#d5d9db"/>
<use href="#gP" transform="translate(210.30,220.4) rotate(30) translate(-231.70,-432.10)"/>
<use href="#gR" transform="translate(210.10,254.4) rotate(-30) translate(-1057.00,-432.10)"/>
<use href="#gO" transform="translate(-256.80,-200.2)"/>
<circle cx="706.90" cy="237.2" r="8.2" fill="#d5d9db"/>
<use href="#gP" transform="translate(696.30,220.4) rotate(30) translate(-231.70,-432.10)"/>
<use href="#gO" transform="translate(696.10,254.4) rotate(-30) translate(-655.40,-432.10)"/>
<use href="#gR" transform="translate(-172.40,-200.2)"/>
<circle cx="1192.90" cy="237.2" r="8.2" fill="#d5d9db"/>
<use href="#gP" transform="translate(1182.30,220.4) rotate(30) translate(-231.70,-432.10)"/>
<use href="#gO" transform="translate(1182.10,254.4) rotate(-30) translate(-655.40,-432.10)"/>
<use href="#gO" transform="translate(715.20,-200.2)"/>
<rect x="65.9" y="524.6" width="329.30" height="553.60" fill="none" stroke="#4a4a4d" stroke-width="1.4"/>
<path d="M131.76,524.6 v6 M131.76,1078.2 v-6" stroke="#4a4a4d" stroke-width="1.4"/>
<path d="M197.62,524.6 v6 M197.62,1078.2 v-6" stroke="#4a4a4d" stroke-width="1.4"/>
<path d="M263.48,524.6 v6 M263.48,1078.2 v-6" stroke="#4a4a4d" stroke-width="1.4"/>
<path d="M329.34,524.6 v6 M329.34,1078.2 v-6" stroke="#4a4a4d" stroke-width="1.4"/>
<text x="47.01" y="1115.30" font-size="31.09" font-weight="normal" fill="#48484b" textLength="37.94" lengthAdjust="spacingAndGlyphs" id="t15">0.1</text>
<text x="112.76" y="1115.30" font-size="31.09" font-weight="normal" fill="#48484b" textLength="38.23" lengthAdjust="spacingAndGlyphs" id="t16">0.2</text>
<text x="178.77" y="1115.30" font-size="31.09" font-weight="normal" fill="#48484b" textLength="37.80" lengthAdjust="spacingAndGlyphs" id="t17">0.3</text>
<text x="244.52" y="1115.30" font-size="31.09" font-weight="normal" fill="#48484b" textLength="37.67" lengthAdjust="spacingAndGlyphs" id="t18">0.4</text>
<text x="310.49" y="1115.30" font-size="31.09" font-weight="normal" fill="#48484b" textLength="37.83" lengthAdjust="spacingAndGlyphs" id="t19">0.5</text>
<text x="376.39" y="1115.30" font-size="31.09" font-weight="normal" fill="#48484b" textLength="37.89" lengthAdjust="spacingAndGlyphs" id="t20">0.6</text>
<text x="38.98" y="1154.50" font-size="30.67" font-weight="normal" fill="#48484b" textLength="384.24" lengthAdjust="spacingAndGlyphs" id="t21">Detection frequency f (THz)</text>
<text id="t22" x="0" y="0" transform="translate(50.20,958.03) rotate(-90)" font-size="31.98" font-weight="normal" fill="#48484b" textLength="313.02" lengthAdjust="spacingAndGlyphs">Signal amplitude (a.u.)</text>
<path d="M66.0,561.28 L67.0,561.09 L68.0,560.92 L69.0,560.76 L70.0,560.61 L71.0,560.47 L72.0,560.34 L73.0,560.22 L74.0,560.11 L75.0,560.01 L76.0,559.92 L77.0,559.84 L78.0,559.77 L79.0,559.71 L80.0,559.65 L81.0,559.60 L82.0,559.55 L83.0,559.52 L84.0,559.49 L85.0,559.46 L86.0,559.44 L87.0,559.42 L88.0,559.41 L89.0,559.40 L90.0,559.40 L91.0,559.40 L92.0,559.43 L93.0,559.49 L94.0,559.58 L95.0,559.69 L96.0,559.84 L97.0,560.00 L98.0,560.18 L99.0,560.37 L100.0,560.58 L101.0,560.79 L102.0,561.01 L103.0,561.23 L104.0,561.45 L105.0,561.66 L106.0,561.87 L107.0,562.06 L108.0,562.24 L109.0,562.39 L110.0,562.53 L111.0,562.64 L112.0,562.73 L113.0,562.78 L114.0,562.80 L115.0,562.80 L116.0,562.79 L117.0,562.78 L118.0,562.76 L119.0,562.74 L120.0,562.71 L121.0,562.68 L122.0,562.65 L123.0,562.61 L124.0,562.57 L125.0,562.53 L126.0,562.48 L127.0,562.43 L128.0,562.38 L129.0,562.32 L130.0,562.26 L131.0,562.20 L132.0,562.14 L133.0,562.08 L134.0,562.01 L135.0,561.95 L136.0,561.88 L137.0,561.81 L138.0,561.74 L139.0,561.63 L140.0,561.50 L141.0,561.35 L142.0,561.18 L143.0,560.98 L144.0,560.78 L145.0,560.56 L146.0,560.32 L147.0,560.08 L148.0,559.83 L149.0,559.58 L150.0,559.32 L151.0,559.06 L152.0,558.81 L153.0,558.56 L154.0,558.31 L155.0,558.08 L156.0,557.85 L157.0,557.64 L158.0,557.44 L159.0,557.27 L160.0,557.11 L161.0,556.97 L162.0,556.86 L163.0,556.78 L164.0,556.72 L165.0,556.70 L166.0,556.71 L167.0,556.73 L168.0,556.78 L169.0,556.85 L170.0,556.93 L171.0,557.02 L172.0,557.13 L173.0,557.25 L174.0,557.38 L175.0,557.52 L176.0,557.66 L177.0,557.81 L178.0,557.96 L179.0,558.11 L180.0,558.26 L181.0,558.41 L182.0,558.55 L183.0,558.69 L184.0,558.82 L185.0,558.94 L186.0,559.05 L187.0,559.15 L188.0,559.24 L189.0,559.31 L190.0,559.36 L191.0,559.39 L192.0,559.40 L193.0,559.38 L194.0,559.33 L195.0,559.24 L196.0,559.13 L197.0,558.98 L198.0,558.80 L199.0,558.60 L200.0,558.37 L201.0,558.12 L202.0,557.84 L203.0,557.54 L204.0,557.22 L205.0,556.89 L206.0,556.53 L207.0,556.17 L208.0,555.78 L209.0,555.39 L210.0,554.98 L211.0,554.56 L212.0,554.14 L213.0,553.71 L214.0,553.27 L215.0,552.83 L216.0,552.39 L217.0,551.95 L218.0,551.50 L219.0,551.06 L220.0,550.62 L221.0,550.19 L222.0,549.77 L223.0,549.35 L224.0,548.94 L225.0,548.54 L226.0,548.16 L227.0,547.79 L228.0,547.43 L229.0,547.09 L230.0,546.77 L231.0,546.47 L232.0,546.19 L233.0,545.93 L234.0,545.70 L235.0,545.47 L236.0,545.23 L237.0,544.99 L238.0,544.75 L239.0,544.51 L240.0,544.29 L241.0,544.08 L242.0,543.89 L243.0,543.74 L244.0,543.62 L245.0,543.54 L246.0,543.50 L247.0,543.51 L248.0,543.57 L249.0,543.67 L250.0,543.81 L251.0,543.98 L252.0,544.19 L253.0,544.43 L254.0,544.70 L255.0,545.01 L256.0,545.33 L257.0,545.69 L258.0,546.06 L259.0,546.46 L260.0,546.87 L261.0,547.30 L262.0,547.74 L263.0,548.19 L264.0,548.66 L265.0,549.13 L266.0,549.61 L267.0,550.09 L268.0,550.57 L269.0,551.05 L270.0,551.52 L271.0,552.00 L272.0,552.46 L273.0,552.92 L274.0,553.36 L275.0,553.79 L276.0,554.20 L277.0,554.60 L278.0,554.98 L279.0,555.33 L280.0,555.66 L281.0,555.97 L282.0,556.24 L283.0,556.49 L284.0,556.70 L285.0,556.88 L286.0,557.02 L287.0,557.12 L288.0,557.18 L289.0,557.20 L290.0,557.20 L291.0,557.19 L292.0,557.17 L293.0,557.15 L294.0,557.12 L295.0,557.10 L296.0,557.06 L297.0,557.03 L298.0,557.00 L299.0,556.96 L300.0,556.92 L301.0,556.89 L302.0,556.85 L303.0,556.82 L304.0,556.79 L305.0,556.76 L306.0,556.74 L307.0,556.72 L308.0,556.71 L309.0,556.70 L310.0,556.70 L311.0,556.72 L312.0,556.76 L313.0,556.82 L314.0,556.90 L315.0,556.99 L316.0,557.10 L317.0,557.21 L318.0,557.34 L319.0,557.47 L320.0,557.62 L321.0,557.76 L322.0,557.91 L323.0,558.06 L324.0,558.20 L325.0,558.35 L326.0,558.49 L327.0,558.62 L328.0,558.75 L329.0,558.86 L330.0,558.96 L331.0,559.05 L332.0,559.13 L333.0,559.20 L334.0,559.28 L335.0,559.35 L336.0,559.42 L337.0,559.50 L338.0,559.57 L339.0,559.64 L340.0,559.72 L341.0,559.79 L342.0,559.85 L343.0,559.92 L344.0,559.98 L345.0,560.04 L346.0,560.10 L347.0,560.15 L348.0,560.20 L349.0,560.24 L350.0,560.28 L351.0,560.32 L352.0,560.35 L353.0,560.37 L354.0,560.39 L355.0,560.40 L356.0,560.40 L357.0,560.36 L358.0,560.26 L359.0,560.10 L360.0,559.89 L361.0,559.62 L362.0,559.32 L363.0,558.97 L364.0,558.60 L365.0,558.20 L366.0,557.78 L367.0,557.35 L368.0,556.92 L369.0,556.48 L370.0,556.05 L371.0,555.62 L372.0,555.22 L373.0,554.84 L374.0,554.48 L375.0,554.17 L376.0,553.89 L377.0,553.66 L378.0,553.48 L379.0,553.36 L380.0,553.30 L381.0,553.30 L382.0,553.33 L383.0,553.37 L384.0,553.43 L385.0,553.51 L386.0,553.61 L387.0,553.73 L388.0,553.87 L389.0,554.04 L390.0,554.22 L391.0,554.43 L392.0,554.66 L393.0,554.92 L394.0,555.20 L395.0,555.50" fill="none" stroke="#f7901e" stroke-width="1.45"/>
<path d="M66.0,588.32 L67.0,588.51 L68.0,588.70 L69.0,588.89 L70.0,589.06 L71.0,589.24 L72.0,589.40 L73.0,589.56 L74.0,589.72 L75.0,589.86 L76.0,590.00 L77.0,590.13 L78.0,590.25 L79.0,590.36 L80.0,590.47 L81.0,590.56 L82.0,590.64 L83.0,590.71 L84.0,590.78 L85.0,590.82 L86.0,590.86 L87.0,590.89 L88.0,590.90 L89.0,590.90 L90.0,590.89 L91.0,590.88 L92.0,590.86 L93.0,590.83 L94.0,590.80 L95.0,590.76 L96.0,590.72 L97.0,590.67 L98.0,590.62 L99.0,590.57 L100.0,590.51 L101.0,590.45 L102.0,590.38 L103.0,590.32 L104.0,590.25 L105.0,590.18 L106.0,590.11 L107.0,590.03 L108.0,589.96 L109.0,589.88 L110.0,589.81 L111.0,589.73 L112.0,589.66 L113.0,589.58 L114.0,589.50 L115.0,589.40 L116.0,589.28 L117.0,589.15 L118.0,589.01 L119.0,588.86 L120.0,588.71 L121.0,588.56 L122.0,588.40 L123.0,588.25 L124.0,588.11 L125.0,587.97 L126.0,587.84 L127.0,587.72 L128.0,587.62 L129.0,587.53 L130.0,587.47 L131.0,587.42 L132.0,587.40 L133.0,587.41 L134.0,587.46 L135.0,587.55 L136.0,587.68 L137.0,587.84 L138.0,588.02 L139.0,588.23 L140.0,588.45 L141.0,588.69 L142.0,588.93 L143.0,589.19 L144.0,589.44 L145.0,589.69 L146.0,589.93 L147.0,590.16 L148.0,590.38 L149.0,590.57 L150.0,590.74 L151.0,590.89 L152.0,591.00 L153.0,591.07 L154.0,591.10 L155.0,591.09 L156.0,591.03 L157.0,590.93 L158.0,590.79 L159.0,590.61 L160.0,590.40 L161.0,590.15 L162.0,589.88 L163.0,589.58 L164.0,589.26 L165.0,588.92 L166.0,588.56 L167.0,588.18 L168.0,587.79 L169.0,587.39 L170.0,586.99 L171.0,586.57 L172.0,586.16 L173.0,585.74 L174.0,585.33 L175.0,584.93 L176.0,584.53 L177.0,584.14 L178.0,583.77 L179.0,583.41 L180.0,583.07 L181.0,582.75 L182.0,582.46 L183.0,582.19 L184.0,581.96 L185.0,581.75 L186.0,581.58 L187.0,581.45 L188.0,581.36 L189.0,581.31 L190.0,581.31 L191.0,581.36 L192.0,581.48 L193.0,581.65 L194.0,581.88 L195.0,582.14 L196.0,582.44 L197.0,582.77 L198.0,583.12 L199.0,583.49 L200.0,583.88 L201.0,584.27 L202.0,584.67 L203.0,585.05 L204.0,585.43 L205.0,585.80 L206.0,586.14 L207.0,586.45 L208.0,586.72 L209.0,586.96 L210.0,587.15 L211.0,587.30 L212.0,587.38 L213.0,587.40 L214.0,587.30 L215.0,587.08 L216.0,586.75 L217.0,586.31 L218.0,585.78 L219.0,585.17 L220.0,584.49 L221.0,583.76 L222.0,582.98 L223.0,582.16 L224.0,581.32 L225.0,580.47 L226.0,579.62 L227.0,578.79 L228.0,577.97 L229.0,577.19 L230.0,576.45 L231.0,575.78 L232.0,575.17 L233.0,574.64 L234.0,574.20 L235.0,573.80 L236.0,573.40 L237.0,572.99 L238.0,572.59 L239.0,572.21 L240.0,571.84 L241.0,571.51 L242.0,571.22 L243.0,570.97 L244.0,570.78 L245.0,570.66 L246.0,570.60 L247.0,570.63 L248.0,570.76 L249.0,570.97 L250.0,571.27 L251.0,571.65 L252.0,572.09 L253.0,572.59 L254.0,573.15 L255.0,573.76 L256.0,574.41 L257.0,575.09 L258.0,575.80 L259.0,576.52 L260.0,577.27 L261.0,578.01 L262.0,578.76 L263.0,579.50 L264.0,580.22 L265.0,580.92 L266.0,581.59 L267.0,582.23 L268.0,582.82 L269.0,583.36 L270.0,583.85 L271.0,584.27 L272.0,584.62 L273.0,584.90 L274.0,585.09 L275.0,585.19 L276.0,585.19 L277.0,585.15 L278.0,585.08 L279.0,584.97 L280.0,584.84 L281.0,584.68 L282.0,584.51 L283.0,584.32 L284.0,584.13 L285.0,583.93 L286.0,583.74 L287.0,583.55 L288.0,583.37 L289.0,583.21 L290.0,583.07 L291.0,582.95 L292.0,582.87 L293.0,582.81 L294.0,582.80 L295.0,582.86 L296.0,582.98 L297.0,583.17 L298.0,583.42 L299.0,583.71 L300.0,584.04 L301.0,584.40 L302.0,584.79 L303.0,585.18 L304.0,585.58 L305.0,585.98 L306.0,586.36 L307.0,586.72 L308.0,587.06 L309.0,587.35 L310.0,587.60 L311.0,587.80 L312.0,587.93 L313.0,588.00 L314.0,588.00 L315.0,587.99 L316.0,587.98 L317.0,587.97 L318.0,587.95 L319.0,587.93 L320.0,587.91 L321.0,587.89 L322.0,587.86 L323.0,587.84 L324.0,587.81 L325.0,587.79 L326.0,587.77 L327.0,587.75 L328.0,587.73 L329.0,587.72 L330.0,587.71 L331.0,587.70 L332.0,587.71 L333.0,587.77 L334.0,587.89 L335.0,588.07 L336.0,588.30 L337.0,588.56 L338.0,588.85 L339.0,589.15 L340.0,589.47 L341.0,589.78 L342.0,590.09 L343.0,590.39 L344.0,590.65 L345.0,590.88 L346.0,591.07 L347.0,591.21 L348.0,591.29 L349.0,591.29 L350.0,591.23 L351.0,591.10 L352.0,590.91 L353.0,590.67 L354.0,590.38 L355.0,590.05 L356.0,589.69 L357.0,589.31 L358.0,588.91 L359.0,588.50 L360.0,588.08 L361.0,587.67 L362.0,587.27 L363.0,586.88 L364.0,586.52 L365.0,586.18 L366.0,585.89 L367.0,585.64 L368.0,585.44 L369.0,585.29 L370.0,585.21 L371.0,585.21 L372.0,585.27 L373.0,585.40 L374.0,585.58 L375.0,585.81 L376.0,586.07 L377.0,586.35 L378.0,586.65 L379.0,586.95 L380.0,587.25 L381.0,587.53 L382.0,587.79 L383.0,588.02 L384.0,588.20 L385.0,588.33 L386.0,588.39 L387.0,588.39 L388.0,588.30 L389.0,588.15 L390.0,587.93 L391.0,587.66 L392.0,587.35 L393.0,586.99 L394.0,586.61 L395.0,586.20" fill="none" stroke="#f3811f" stroke-width="1.45"/>
<path d="M66.0,618.53 L67.0,618.46 L68.0,618.39 L69.0,618.33 L70.0,618.27 L71.0,618.22 L72.0,618.17 L73.0,618.12 L74.0,618.08 L75.0,618.04 L76.0,618.00 L77.0,617.96 L78.0,617.93 L79.0,617.90 L80.0,617.87 L81.0,617.85 L82.0,617.83 L83.0,617.81 L84.0,617.79 L85.0,617.78 L86.0,617.76 L87.0,617.75 L88.0,617.74 L89.0,617.73 L90.0,617.72 L91.0,617.72 L92.0,617.71 L93.0,617.71 L94.0,617.71 L95.0,617.70 L96.0,617.70 L97.0,617.70 L98.0,617.70 L99.0,617.70 L100.0,617.70 L101.0,617.70 L102.0,617.71 L103.0,617.74 L104.0,617.77 L105.0,617.82 L106.0,617.88 L107.0,617.94 L108.0,618.01 L109.0,618.08 L110.0,618.16 L111.0,618.25 L112.0,618.33 L113.0,618.42 L114.0,618.50 L115.0,618.59 L116.0,618.67 L117.0,618.75 L118.0,618.82 L119.0,618.89 L120.0,618.95 L121.0,619.00 L122.0,619.04 L123.0,619.07 L124.0,619.09 L125.0,619.10 L126.0,619.09 L127.0,619.05 L128.0,618.99 L129.0,618.91 L130.0,618.82 L131.0,618.71 L132.0,618.58 L133.0,618.44 L134.0,618.30 L135.0,618.15 L136.0,617.99 L137.0,617.83 L138.0,617.67 L139.0,617.51 L140.0,617.36 L141.0,617.21 L142.0,617.07 L143.0,616.94 L144.0,616.83 L145.0,616.72 L146.0,616.64 L147.0,616.57 L148.0,616.52 L149.0,616.50 L150.0,616.51 L151.0,616.57 L152.0,616.67 L153.0,616.82 L154.0,616.99 L155.0,617.19 L156.0,617.41 L157.0,617.63 L158.0,617.86 L159.0,618.08 L160.0,618.29 L161.0,618.48 L162.0,618.64 L163.0,618.77 L164.0,618.86 L165.0,618.90 L166.0,618.87 L167.0,618.76 L168.0,618.58 L169.0,618.32 L170.0,618.00 L171.0,617.61 L172.0,617.18 L173.0,616.70 L174.0,616.17 L175.0,615.61 L176.0,615.03 L177.0,614.42 L178.0,613.79 L179.0,613.15 L180.0,612.50 L181.0,611.86 L182.0,611.22 L183.0,610.60 L184.0,609.99 L185.0,609.41 L186.0,608.87 L187.0,608.35 L188.0,607.89 L189.0,607.47 L190.0,607.10 L191.0,606.80 L192.0,606.56 L193.0,606.40 L194.0,606.31 L195.0,606.31 L196.0,606.42 L197.0,606.61 L198.0,606.90 L199.0,607.26 L200.0,607.69 L201.0,608.17 L202.0,608.71 L203.0,609.29 L204.0,609.90 L205.0,610.54 L206.0,611.19 L207.0,611.85 L208.0,612.50 L209.0,613.14 L210.0,613.77 L211.0,614.36 L212.0,614.92 L213.0,615.43 L214.0,615.88 L215.0,616.27 L216.0,616.58 L217.0,616.82 L218.0,616.96 L219.0,617.00 L220.0,616.89 L221.0,616.63 L222.0,616.23 L223.0,615.70 L224.0,615.08 L225.0,614.39 L226.0,613.63 L227.0,612.85 L228.0,612.05 L229.0,611.25 L230.0,610.48 L231.0,609.76 L232.0,609.11 L233.0,608.55 L234.0,608.10 L235.0,607.70 L236.0,607.30 L237.0,606.89 L238.0,606.49 L239.0,606.10 L240.0,605.74 L241.0,605.41 L242.0,605.12 L243.0,604.87 L244.0,604.68 L245.0,604.56 L246.0,604.50 L247.0,604.53 L248.0,604.64 L249.0,604.82 L250.0,605.08 L251.0,605.40 L252.0,605.79 L253.0,606.22 L254.0,606.70 L255.0,607.22 L256.0,607.78 L257.0,608.36 L258.0,608.96 L259.0,609.58 L260.0,610.21 L261.0,610.84 L262.0,611.47 L263.0,612.09 L264.0,612.69 L265.0,613.27 L266.0,613.82 L267.0,614.34 L268.0,614.82 L269.0,615.25 L270.0,615.63 L271.0,615.95 L272.0,616.20 L273.0,616.38 L274.0,616.49 L275.0,616.54 L276.0,616.58 L277.0,616.63 L278.0,616.67 L279.0,616.71 L280.0,616.75 L281.0,616.79 L282.0,616.83 L283.0,616.86 L284.0,616.90 L285.0,616.93 L286.0,616.96 L287.0,616.99 L288.0,617.02 L289.0,617.05 L290.0,617.08 L291.0,617.10 L292.0,617.12 L293.0,617.15 L294.0,617.17 L295.0,617.19 L296.0,617.20 L297.0,617.22 L298.0,617.24 L299.0,617.25 L300.0,617.26 L301.0,617.27 L302.0,617.28 L303.0,617.29 L304.0,617.29 L305.0,617.30 L306.0,617.30 L307.0,617.30 L308.0,617.29 L309.0,617.27 L310.0,617.22 L311.0,617.16 L312.0,617.08 L313.0,616.99 L314.0,616.89 L315.0,616.78 L316.0,616.66 L317.0,616.54 L318.0,616.42 L319.0,616.30 L320.0,616.17 L321.0,616.06 L322.0,615.94 L323.0,615.84 L324.0,615.75 L325.0,615.67 L326.0,615.60 L327.0,615.55 L328.0,615.51 L329.0,615.50 L330.0,615.51 L331.0,615.54 L332.0,615.60 L333.0,615.67 L334.0,615.75 L335.0,615.85 L336.0,615.96 L337.0,616.08 L338.0,616.21 L339.0,616.34 L340.0,616.46 L341.0,616.59 L342.0,616.72 L343.0,616.84 L344.0,616.95 L345.0,617.05 L346.0,617.13 L347.0,617.20 L348.0,617.26 L349.0,617.29 L350.0,617.30 L351.0,617.30 L352.0,617.30 L353.0,617.30 L354.0,617.30 L355.0,617.30 L356.0,617.30 L357.0,617.29 L358.0,617.29 L359.0,617.29 L360.0,617.28 L361.0,617.27 L362.0,617.27 L363.0,617.26 L364.0,617.24 L365.0,617.23 L366.0,617.22 L367.0,617.20 L368.0,617.18 L369.0,617.16 L370.0,617.14 L371.0,617.12 L372.0,617.09 L373.0,617.06 L374.0,617.03 L375.0,616.99 L376.0,616.95 L377.0,616.91 L378.0,616.86 L379.0,616.82 L380.0,616.76 L381.0,616.71 L382.0,616.65 L383.0,616.59 L384.0,616.52 L385.0,616.45 L386.0,616.38 L387.0,616.30 L388.0,616.21 L389.0,616.13 L390.0,616.03 L391.0,615.94 L392.0,615.84 L393.0,615.73 L394.0,615.62 L395.0,615.50" fill="none" stroke="#ef7322" stroke-width="1.45"/>
<path d="M66.0,645.12 L67.0,645.07 L68.0,645.01 L69.0,644.96 L70.0,644.92 L71.0,644.88 L72.0,644.84 L73.0,644.80 L74.0,644.77 L75.0,644.75 L76.0,644.72 L77.0,644.70 L78.0,644.68 L79.0,644.67 L80.0,644.65 L81.0,644.64 L82.0,644.63 L83.0,644.62 L84.0,644.62 L85.0,644.61 L86.0,644.61 L87.0,644.60 L88.0,644.60 L89.0,644.60 L90.0,644.60 L91.0,644.60 L92.0,644.60 L93.0,644.61 L94.0,644.64 L95.0,644.69 L96.0,644.75 L97.0,644.83 L98.0,644.92 L99.0,645.02 L100.0,645.13 L101.0,645.25 L102.0,645.38 L103.0,645.51 L104.0,645.65 L105.0,645.79 L106.0,645.93 L107.0,646.07 L108.0,646.20 L109.0,646.33 L110.0,646.46 L111.0,646.58 L112.0,646.69 L113.0,646.79 L114.0,646.88 L115.0,646.96 L116.0,647.02 L117.0,647.06 L118.0,647.09 L119.0,647.10 L120.0,647.10 L121.0,647.10 L122.0,647.10 L123.0,647.10 L124.0,647.10 L125.0,647.10 L126.0,647.10 L127.0,647.10 L128.0,647.10 L129.0,647.10 L130.0,647.10 L131.0,647.10 L132.0,647.10 L133.0,647.10 L134.0,647.10 L135.0,647.10 L136.0,647.10 L137.0,647.10 L138.0,647.10 L139.0,647.10 L140.0,647.10 L141.0,647.10 L142.0,647.10 L143.0,647.10 L144.0,647.10 L145.0,647.10 L146.0,647.10 L147.0,647.10 L148.0,647.09 L149.0,647.05 L150.0,646.99 L151.0,646.92 L152.0,646.82 L153.0,646.71 L154.0,646.58 L155.0,646.44 L156.0,646.28 L157.0,646.10 L158.0,645.92 L159.0,645.72 L160.0,645.51 L161.0,645.29 L162.0,645.06 L163.0,644.83 L164.0,644.59 L165.0,644.34 L166.0,644.09 L167.0,643.83 L168.0,643.58 L169.0,643.32 L170.0,643.06 L171.0,642.80 L172.0,642.54 L173.0,642.28 L174.0,642.03 L175.0,641.78 L176.0,641.54 L177.0,641.30 L178.0,641.08 L179.0,640.86 L180.0,640.65 L181.0,640.45 L182.0,640.26 L183.0,640.08 L184.0,639.92 L185.0,639.74 L186.0,639.55 L187.0,639.35 L188.0,639.16 L189.0,638.98 L190.0,638.81 L191.0,638.66 L192.0,638.54 L193.0,638.45 L194.0,638.41 L195.0,638.41 L196.0,638.46 L197.0,638.56 L198.0,638.70 L199.0,638.89 L200.0,639.10 L201.0,639.34 L202.0,639.60 L203.0,639.88 L204.0,640.18 L205.0,640.48 L206.0,640.77 L207.0,641.07 L208.0,641.36 L209.0,641.63 L210.0,641.88 L211.0,642.11 L212.0,642.31 L213.0,642.47 L214.0,642.60 L215.0,642.67 L216.0,642.70 L217.0,642.68 L218.0,642.61 L219.0,642.50 L220.0,642.36 L221.0,642.19 L222.0,641.98 L223.0,641.75 L224.0,641.50 L225.0,641.22 L226.0,640.93 L227.0,640.63 L228.0,640.32 L229.0,640.01 L230.0,639.69 L231.0,639.38 L232.0,639.07 L233.0,638.77 L234.0,638.48 L235.0,638.20 L236.0,637.95 L237.0,637.72 L238.0,637.51 L239.0,637.34 L240.0,637.20 L241.0,637.09 L242.0,637.02 L243.0,637.00 L244.0,637.06 L245.0,637.24 L246.0,637.50 L247.0,637.84 L248.0,638.22 L249.0,638.64 L250.0,639.07 L251.0,639.50 L252.0,639.89 L253.0,640.26 L254.0,640.69 L255.0,641.15 L256.0,641.65 L257.0,642.17 L258.0,642.71 L259.0,643.25 L260.0,643.79 L261.0,644.33 L262.0,644.84 L263.0,645.32 L264.0,645.76 L265.0,646.15 L266.0,646.49 L267.0,646.77 L268.0,646.96 L269.0,647.08 L270.0,647.12 L271.0,647.15 L272.0,647.18 L273.0,647.21 L274.0,647.24 L275.0,647.26 L276.0,647.29 L277.0,647.31 L278.0,647.34 L279.0,647.36 L280.0,647.38 L281.0,647.40 L282.0,647.42 L283.0,647.44 L284.0,647.45 L285.0,647.47 L286.0,647.49 L287.0,647.50 L288.0,647.51 L289.0,647.53 L290.0,647.54 L291.0,647.55 L292.0,647.56 L293.0,647.56 L294.0,647.57 L295.0,647.58 L296.0,647.58 L297.0,647.59 L298.0,647.59 L299.0,647.60 L300.0,647.60 L301.0,647.60 L302.0,647.60 L303.0,647.60 L304.0,647.59 L305.0,647.56 L306.0,647.53 L307.0,647.49 L308.0,647.45 L309.0,647.39 L310.0,647.33 L311.0,647.26 L312.0,647.18 L313.0,647.10 L314.0,647.02 L315.0,646.93 L316.0,646.84 L317.0,646.74 L318.0,646.64 L319.0,646.53 L320.0,646.43 L321.0,646.32 L322.0,646.21 L323.0,646.11 L324.0,646.00 L325.0,645.89 L326.0,645.78 L327.0,645.68 L328.0,645.57 L329.0,645.47 L330.0,645.37 L331.0,645.28 L332.0,645.19 L333.0,645.10 L334.0,645.02 L335.0,644.95 L336.0,644.88 L337.0,644.82 L338.0,644.76 L339.0,644.71 L340.0,644.67 L341.0,644.64 L342.0,644.62 L343.0,644.60 L344.0,644.60 L345.0,644.60 L346.0,644.61 L347.0,644.62 L348.0,644.63 L349.0,644.65 L350.0,644.67 L351.0,644.69 L352.0,644.71 L353.0,644.74 L354.0,644.77 L355.0,644.80 L356.0,644.83 L357.0,644.87 L358.0,644.91 L359.0,644.94 L360.0,644.98 L361.0,645.02 L362.0,645.06 L363.0,645.11 L364.0,645.15 L365.0,645.19 L366.0,645.23 L367.0,645.28 L368.0,645.32 L369.0,645.36 L370.0,645.41 L371.0,645.45 L372.0,645.49 L373.0,645.53 L374.0,645.57 L375.0,645.61 L376.0,645.64 L377.0,645.68 L378.0,645.71 L379.0,645.74 L380.0,645.77 L381.0,645.79 L382.0,645.82 L383.0,645.84 L384.0,645.86 L385.0,645.87 L386.0,645.88 L387.0,645.89 L388.0,645.90 L389.0,645.90 L390.0,645.86 L391.0,645.75 L392.0,645.61 L393.0,645.44 L394.0,645.26 L395.0,645.10" fill="none" stroke="#ea6426" stroke-width="1.45"/>
<path d="M66.0,676.29 L67.0,676.31 L68.0,676.34 L69.0,676.36 L70.0,676.38 L71.0,676.40 L72.0,676.41 L73.0,676.43 L74.0,676.45 L75.0,676.46 L76.0,676.48 L77.0,676.49 L78.0,676.50 L79.0,676.51 L80.0,676.52 L81.0,676.53 L82.0,676.54 L83.0,676.55 L84.0,676.55 L85.0,676.56 L86.0,676.57 L87.0,676.57 L88.0,676.58 L89.0,676.58 L90.0,676.58 L91.0,676.59 L92.0,676.59 L93.0,676.59 L94.0,676.59 L95.0,676.60 L96.0,676.60 L97.0,676.60 L98.0,676.60 L99.0,676.60 L100.0,676.60 L101.0,676.60 L102.0,676.60 L103.0,676.60 L104.0,676.60 L105.0,676.60 L106.0,676.58 L107.0,676.55 L108.0,676.51 L109.0,676.46 L110.0,676.41 L111.0,676.34 L112.0,676.26 L113.0,676.17 L114.0,676.08 L115.0,675.98 L116.0,675.87 L117.0,675.76 L118.0,675.64 L119.0,675.52 L120.0,675.39 L121.0,675.26 L122.0,675.12 L123.0,674.99 L124.0,674.85 L125.0,674.71 L126.0,674.56 L127.0,674.42 L128.0,674.28 L129.0,674.14 L130.0,674.00 L131.0,673.86 L132.0,673.72 L133.0,673.59 L134.0,673.46 L135.0,673.33 L136.0,673.21 L137.0,673.09 L138.0,672.98 L139.0,672.88 L140.0,672.78 L141.0,672.69 L142.0,672.61 L143.0,672.53 L144.0,672.47 L145.0,672.41 L146.0,672.37 L147.0,672.34 L148.0,672.31 L149.0,672.30 L150.0,672.31 L151.0,672.35 L152.0,672.43 L153.0,672.54 L154.0,672.67 L155.0,672.84 L156.0,673.02 L157.0,673.22 L158.0,673.44 L159.0,673.67 L160.0,673.91 L161.0,674.15 L162.0,674.40 L163.0,674.64 L164.0,674.88 L165.0,675.11 L166.0,675.34 L167.0,675.54 L168.0,675.73 L169.0,675.90 L170.0,676.04 L171.0,676.15 L172.0,676.24 L173.0,676.29 L174.0,676.30 L175.0,676.27 L176.0,676.21 L177.0,676.12 L178.0,676.00 L179.0,675.84 L180.0,675.66 L181.0,675.46 L182.0,675.24 L183.0,675.00 L184.0,674.73 L185.0,674.46 L186.0,674.17 L187.0,673.87 L188.0,673.57 L189.0,673.25 L190.0,672.94 L191.0,672.62 L192.0,672.30 L193.0,671.98 L194.0,671.67 L195.0,671.37 L196.0,671.08 L197.0,670.79 L198.0,670.53 L199.0,670.26 L200.0,669.97 L201.0,669.66 L202.0,669.34 L203.0,669.00 L204.0,668.65 L205.0,668.29 L206.0,667.93 L207.0,667.55 L208.0,667.18 L209.0,666.80 L210.0,666.42 L211.0,666.04 L212.0,665.67 L213.0,665.30 L214.0,664.94 L215.0,664.60 L216.0,664.26 L217.0,663.94 L218.0,663.64 L219.0,663.36 L220.0,663.09 L221.0,662.85 L222.0,662.64 L223.0,662.45 L224.0,662.30 L225.0,662.17 L226.0,662.08 L227.0,662.02 L228.0,662.00 L229.0,662.02 L230.0,662.07 L231.0,662.16 L232.0,662.28 L233.0,662.42 L234.0,662.58 L235.0,662.76 L236.0,662.95 L237.0,663.15 L238.0,663.36 L239.0,663.57 L240.0,663.78 L241.0,664.01 L242.0,664.29 L243.0,664.62 L244.0,664.99 L245.0,665.40 L246.0,665.85 L247.0,666.32 L248.0,666.83 L249.0,667.35 L250.0,667.89 L251.0,668.44 L252.0,668.99 L253.0,669.55 L254.0,670.11 L255.0,670.66 L256.0,671.20 L257.0,671.72 L258.0,672.23 L259.0,672.70 L260.0,673.15 L261.0,673.56 L262.0,673.94 L263.0,674.27 L264.0,674.55 L265.0,674.78 L266.0,674.95 L267.0,675.06 L268.0,675.10 L269.0,675.08 L270.0,675.03 L271.0,674.94 L272.0,674.82 L273.0,674.69 L274.0,674.53 L275.0,674.37 L276.0,674.21 L277.0,674.05 L278.0,673.90 L279.0,673.77 L280.0,673.65 L281.0,673.57 L282.0,673.51 L283.0,673.50 L284.0,673.51 L285.0,673.54 L286.0,673.58 L287.0,673.63 L288.0,673.69 L289.0,673.77 L290.0,673.85 L291.0,673.94 L292.0,674.05 L293.0,674.15 L294.0,674.26 L295.0,674.38 L296.0,674.50 L297.0,674.62 L298.0,674.74 L299.0,674.87 L300.0,674.99 L301.0,675.11 L302.0,675.22 L303.0,675.34 L304.0,675.44 L305.0,675.55 L306.0,675.64 L307.0,675.72 L308.0,675.80 L309.0,675.86 L310.0,675.92 L311.0,675.96 L312.0,675.99 L313.0,676.00 L314.0,675.99 L315.0,675.97 L316.0,675.91 L317.0,675.84 L318.0,675.76 L319.0,675.65 L320.0,675.54 L321.0,675.41 L322.0,675.27 L323.0,675.13 L324.0,674.98 L325.0,674.83 L326.0,674.67 L327.0,674.52 L328.0,674.37 L329.0,674.23 L330.0,674.09 L331.0,673.96 L332.0,673.85 L333.0,673.74 L334.0,673.66 L335.0,673.59 L336.0,673.53 L337.0,673.51 L338.0,673.50 L339.0,673.54 L340.0,673.61 L341.0,673.71 L342.0,673.85 L343.0,674.01 L344.0,674.19 L345.0,674.38 L346.0,674.59 L347.0,674.80 L348.0,675.02 L349.0,675.23 L350.0,675.44 L351.0,675.63 L352.0,675.81 L353.0,675.97 L354.0,676.10 L355.0,676.20 L356.0,676.27 L357.0,676.30 L358.0,676.29 L359.0,676.27 L360.0,676.23 L361.0,676.19 L362.0,676.13 L363.0,676.06 L364.0,675.98 L365.0,675.91 L366.0,675.83 L367.0,675.75 L368.0,675.67 L369.0,675.60 L370.0,675.54 L371.0,675.48 L372.0,675.44 L373.0,675.41 L374.0,675.40 L375.0,675.40 L376.0,675.40 L377.0,675.40 L378.0,675.40 L379.0,675.40 L380.0,675.40 L381.0,675.40 L382.0,675.40 L383.0,675.40 L384.0,675.40 L385.0,675.40 L386.0,675.40 L387.0,675.40 L388.0,675.40 L389.0,675.40 L390.0,675.40 L391.0,675.40 L392.0,675.40 L393.0,675.40 L394.0,675.40 L395.0,675.40" fill="none" stroke="#e4552c" stroke-width="1.45"/>
<path d="M66.0,705.21 L67.0,705.18 L68.0,705.14 L69.0,705.11 L70.0,705.08 L71.0,705.05 L72.0,705.02 L73.0,704.99 L74.0,704.96 L75.0,704.94 L76.0,704.91 L77.0,704.89 L78.0,704.86 L79.0,704.84 L80.0,704.82 L81.0,704.80 L82.0,704.78 L83.0,704.77 L84.0,704.75 L85.0,704.73 L86.0,704.72 L87.0,704.71 L88.0,704.69 L89.0,704.68 L90.0,704.67 L91.0,704.66 L92.0,704.65 L93.0,704.64 L94.0,704.63 L95.0,704.63 L96.0,704.62 L97.0,704.62 L98.0,704.61 L99.0,704.61 L100.0,704.61 L101.0,704.60 L102.0,704.60 L103.0,704.60 L104.0,704.60 L105.0,704.60 L106.0,704.61 L107.0,704.61 L108.0,704.63 L109.0,704.64 L110.0,704.66 L111.0,704.68 L112.0,704.70 L113.0,704.73 L114.0,704.76 L115.0,704.79 L116.0,704.82 L117.0,704.86 L118.0,704.89 L119.0,704.93 L120.0,704.97 L121.0,705.01 L122.0,705.05 L123.0,705.10 L124.0,705.14 L125.0,705.19 L126.0,705.23 L127.0,705.28 L128.0,705.32 L129.0,705.37 L130.0,705.41 L131.0,705.46 L132.0,705.51 L133.0,705.55 L134.0,705.59 L135.0,705.64 L136.0,705.68 L137.0,705.72 L138.0,705.76 L139.0,705.80 L140.0,705.84 L141.0,705.87 L142.0,705.91 L143.0,705.94 L144.0,705.97 L145.0,705.99 L146.0,706.02 L147.0,706.04 L148.0,706.06 L149.0,706.07 L150.0,706.08 L151.0,706.09 L152.0,706.10 L153.0,706.10 L154.0,706.10 L155.0,706.10 L156.0,706.09 L157.0,706.08 L158.0,706.07 L159.0,706.06 L160.0,706.05 L161.0,706.03 L162.0,706.01 L163.0,705.99 L164.0,705.97 L165.0,705.94 L166.0,705.92 L167.0,705.89 L168.0,705.86 L169.0,705.83 L170.0,705.80 L171.0,705.76 L172.0,705.73 L173.0,705.69 L174.0,705.65 L175.0,705.61 L176.0,705.56 L177.0,705.52 L178.0,705.47 L179.0,705.43 L180.0,705.38 L181.0,705.33 L182.0,705.28 L183.0,705.23 L184.0,705.17 L185.0,705.06 L186.0,704.91 L187.0,704.72 L188.0,704.48 L189.0,704.21 L190.0,703.90 L191.0,703.56 L192.0,703.19 L193.0,702.80 L194.0,702.39 L195.0,701.96 L196.0,701.52 L197.0,701.06 L198.0,700.60 L199.0,700.13 L200.0,699.66 L201.0,699.19 L202.0,698.72 L203.0,698.27 L204.0,697.83 L205.0,697.40 L206.0,696.99 L207.0,696.60 L208.0,696.23 L209.0,695.90 L210.0,695.59 L211.0,695.32 L212.0,695.09 L213.0,694.90 L214.0,694.75 L215.0,694.65 L216.0,694.60 L217.0,694.61 L218.0,694.66 L219.0,694.74 L220.0,694.86 L221.0,695.02 L222.0,695.20 L223.0,695.41 L224.0,695.65 L225.0,695.90 L226.0,696.17 L227.0,696.45 L228.0,696.74 L229.0,697.04 L230.0,697.34 L231.0,697.64 L232.0,697.93 L233.0,698.22 L234.0,698.50 L235.0,698.80 L236.0,699.14 L237.0,699.53 L238.0,699.95 L239.0,700.39 L240.0,700.85 L241.0,701.32 L242.0,701.79 L243.0,702.25 L244.0,702.70 L245.0,703.13 L246.0,703.53 L247.0,703.90 L248.0,704.22 L249.0,704.48 L250.0,704.69 L251.0,704.83 L252.0,704.90 L253.0,704.89 L254.0,704.85 L255.0,704.78 L256.0,704.68 L257.0,704.56 L258.0,704.42 L259.0,704.26 L260.0,704.10 L261.0,703.93 L262.0,703.76 L263.0,703.59 L264.0,703.42 L265.0,703.27 L266.0,703.13 L267.0,703.01 L268.0,702.92 L269.0,702.85 L270.0,702.81 L271.0,702.80 L272.0,702.82 L273.0,702.85 L274.0,702.91 L275.0,702.97 L276.0,703.05 L277.0,703.15 L278.0,703.25 L279.0,703.36 L280.0,703.48 L281.0,703.60 L282.0,703.73 L283.0,703.87 L284.0,704.00 L285.0,704.13 L286.0,704.27 L287.0,704.40 L288.0,704.52 L289.0,704.64 L290.0,704.75 L291.0,704.85 L292.0,704.95 L293.0,705.03 L294.0,705.09 L295.0,705.15 L296.0,705.18 L297.0,705.20 L298.0,705.20 L299.0,705.20 L300.0,705.19 L301.0,705.18 L302.0,705.17 L303.0,705.16 L304.0,705.15 L305.0,705.13 L306.0,705.11 L307.0,705.09 L308.0,705.07 L309.0,705.05 L310.0,705.02 L311.0,705.00 L312.0,704.97 L313.0,704.94 L314.0,704.91 L315.0,704.88 L316.0,704.84 L317.0,704.81 L318.0,704.77 L319.0,704.74 L320.0,704.70 L321.0,704.67 L322.0,704.63 L323.0,704.59 L324.0,704.55 L325.0,704.52 L326.0,704.48 L327.0,704.44 L328.0,704.40 L329.0,704.36 L330.0,704.32 L331.0,704.29 L332.0,704.25 L333.0,704.21 L334.0,704.18 L335.0,704.14 L336.0,704.10 L337.0,704.07 L338.0,704.04 L339.0,704.01 L340.0,703.97 L341.0,703.94 L342.0,703.92 L343.0,703.89 L344.0,703.86 L345.0,703.84 L346.0,703.82 L347.0,703.80 L348.0,703.78 L349.0,703.76 L350.0,703.74 L351.0,703.73 L352.0,703.72 L353.0,703.71 L354.0,703.71 L355.0,703.70 L356.0,703.70 L357.0,703.71 L358.0,703.74 L359.0,703.79 L360.0,703.85 L361.0,703.92 L362.0,704.01 L363.0,704.10 L364.0,704.20 L365.0,704.30 L366.0,704.41 L367.0,704.52 L368.0,704.63 L369.0,704.73 L370.0,704.83 L371.0,704.92 L372.0,705.00 L373.0,705.07 L374.0,705.13 L375.0,705.17 L376.0,705.19 L377.0,705.20 L378.0,705.18 L379.0,705.14 L380.0,705.09 L381.0,705.01 L382.0,704.91 L383.0,704.80 L384.0,704.67 L385.0,704.53 L386.0,704.37 L387.0,704.19 L388.0,704.01 L389.0,703.81 L390.0,703.60 L391.0,703.37 L392.0,703.14 L393.0,702.90 L394.0,702.66 L395.0,702.40" fill="none" stroke="#dc4834" stroke-width="1.45"/>
<path d="M66.0,732.35 L67.0,732.47 L68.0,732.59 L69.0,732.71 L70.0,732.83 L71.0,732.95 L72.0,733.06 L73.0,733.17 L74.0,733.27 L75.0,733.37 L76.0,733.47 L77.0,733.55 L78.0,733.63 L79.0,733.70 L80.0,733.76 L81.0,733.81 L82.0,733.85 L83.0,733.88 L84.0,733.90 L85.0,733.90 L86.0,733.89 L87.0,733.88 L88.0,733.86 L89.0,733.84 L90.0,733.80 L91.0,733.76 L92.0,733.72 L93.0,733.67 L94.0,733.62 L95.0,733.56 L96.0,733.50 L97.0,733.43 L98.0,733.36 L99.0,733.28 L100.0,733.20 L101.0,733.12 L102.0,733.04 L103.0,732.95 L104.0,732.86 L105.0,732.77 L106.0,732.68 L107.0,732.58 L108.0,732.49 L109.0,732.39 L110.0,732.29 L111.0,732.20 L112.0,732.10 L113.0,732.00 L114.0,731.91 L115.0,731.81 L116.0,731.72 L117.0,731.62 L118.0,731.53 L119.0,731.44 L120.0,731.36 L121.0,731.27 L122.0,731.19 L123.0,731.11 L124.0,731.04 L125.0,730.97 L126.0,730.90 L127.0,730.84 L128.0,730.78 L129.0,730.72 L130.0,730.67 L131.0,730.63 L132.0,730.59 L133.0,730.56 L134.0,730.54 L135.0,730.52 L136.0,730.51 L137.0,730.50 L138.0,730.51 L139.0,730.55 L140.0,730.62 L141.0,730.71 L142.0,730.82 L143.0,730.96 L144.0,731.11 L145.0,731.27 L146.0,731.45 L147.0,731.63 L148.0,731.83 L149.0,732.02 L150.0,732.22 L151.0,732.41 L152.0,732.60 L153.0,732.79 L154.0,732.96 L155.0,733.12 L156.0,733.27 L157.0,733.40 L158.0,733.51 L159.0,733.60 L160.0,733.66 L161.0,733.69 L162.0,733.70 L163.0,733.69 L164.0,733.68 L165.0,733.67 L166.0,733.65 L167.0,733.62 L168.0,733.59 L169.0,733.55 L170.0,733.51 L171.0,733.46 L172.0,733.40 L173.0,733.34 L174.0,733.28 L175.0,733.21 L176.0,733.13 L177.0,733.05 L178.0,732.96 L179.0,732.87 L180.0,732.77 L181.0,732.67 L182.0,732.56 L183.0,732.45 L184.0,732.33 L185.0,732.21 L186.0,732.08 L187.0,731.95 L188.0,731.81 L189.0,731.66 L190.0,731.51 L191.0,731.36 L192.0,731.20 L193.0,730.94 L194.0,730.52 L195.0,729.93 L196.0,729.21 L197.0,728.37 L198.0,727.42 L199.0,726.39 L200.0,725.30 L201.0,724.15 L202.0,722.98 L203.0,721.79 L204.0,720.60 L205.0,719.44 L206.0,718.32 L207.0,717.26 L208.0,716.28 L209.0,715.39 L210.0,714.61 L211.0,713.92 L212.0,713.22 L213.0,712.50 L214.0,711.77 L215.0,711.04 L216.0,710.32 L217.0,709.60 L218.0,708.91 L219.0,708.24 L220.0,707.60 L221.0,707.00 L222.0,706.45 L223.0,705.94 L224.0,705.50 L225.0,705.12 L226.0,704.82 L227.0,704.59 L228.0,704.45 L229.0,704.40 L230.0,704.47 L231.0,704.68 L232.0,705.02 L233.0,705.48 L234.0,706.04 L235.0,706.69 L236.0,707.42 L237.0,708.23 L238.0,709.09 L239.0,710.00 L240.0,710.95 L241.0,711.93 L242.0,712.91 L243.0,713.90 L244.0,714.88 L245.0,715.84 L246.0,716.77 L247.0,717.66 L248.0,718.53 L249.0,719.52 L250.0,720.62 L251.0,721.80 L252.0,723.05 L253.0,724.33 L254.0,725.61 L255.0,726.88 L256.0,728.11 L257.0,729.26 L258.0,730.32 L259.0,731.26 L260.0,732.05 L261.0,732.67 L262.0,733.09 L263.0,733.29 L264.0,733.27 L265.0,733.13 L266.0,732.89 L267.0,732.56 L268.0,732.16 L269.0,731.70 L270.0,731.20 L271.0,730.68 L272.0,730.14 L273.0,729.61 L274.0,729.09 L275.0,728.61 L276.0,728.17 L277.0,727.80 L278.0,727.50 L279.0,727.30 L280.0,727.21 L281.0,727.22 L282.0,727.32 L283.0,727.49 L284.0,727.72 L285.0,728.01 L286.0,728.35 L287.0,728.73 L288.0,729.14 L289.0,729.58 L290.0,730.04 L291.0,730.51 L292.0,730.98 L293.0,731.44 L294.0,731.89 L295.0,732.33 L296.0,732.73 L297.0,733.09 L298.0,733.41 L299.0,733.68 L300.0,733.89 L301.0,734.03 L302.0,734.10 L303.0,734.09 L304.0,734.03 L305.0,733.94 L306.0,733.81 L307.0,733.66 L308.0,733.48 L309.0,733.28 L310.0,733.08 L311.0,732.87 L312.0,732.66 L313.0,732.46 L314.0,732.27 L315.0,732.09 L316.0,731.95 L317.0,731.83 L318.0,731.75 L319.0,731.70 L320.0,731.70 L321.0,731.73 L322.0,731.78 L323.0,731.84 L324.0,731.92 L325.0,732.02 L326.0,732.13 L327.0,732.25 L328.0,732.38 L329.0,732.52 L330.0,732.67 L331.0,732.81 L332.0,732.96 L333.0,733.11 L334.0,733.25 L335.0,733.39 L336.0,733.52 L337.0,733.64 L338.0,733.76 L339.0,733.86 L340.0,733.94 L341.0,734.01 L342.0,734.06 L343.0,734.09 L344.0,734.10 L345.0,734.10 L346.0,734.10 L347.0,734.10 L348.0,734.09 L349.0,734.09 L350.0,734.08 L351.0,734.08 L352.0,734.07 L353.0,734.06 L354.0,734.05 L355.0,734.04 L356.0,734.02 L357.0,734.00 L358.0,733.99 L359.0,733.97 L360.0,733.94 L361.0,733.92 L362.0,733.89 L363.0,733.86 L364.0,733.83 L365.0,733.79 L366.0,733.75 L367.0,733.71 L368.0,733.67 L369.0,733.62 L370.0,733.57 L371.0,733.51 L372.0,733.45 L373.0,733.39 L374.0,733.33 L375.0,733.26 L376.0,733.18 L377.0,733.11 L378.0,733.02 L379.0,732.94 L380.0,732.85 L381.0,732.75 L382.0,732.65 L383.0,732.55 L384.0,732.44 L385.0,732.33 L386.0,732.21 L387.0,732.09 L388.0,731.96 L389.0,731.82 L390.0,731.68 L391.0,731.54 L392.0,731.39 L393.0,731.23 L394.0,731.07 L395.0,730.90" fill="none" stroke="#c83c47" stroke-width="1.45"/>
<path d="M66.0,760.30 L67.0,760.05 L68.0,759.81 L69.0,759.58 L70.0,759.37 L71.0,759.18 L72.0,758.99 L73.0,758.82 L74.0,758.67 L75.0,758.53 L76.0,758.40 L77.0,758.28 L78.0,758.18 L79.0,758.09 L80.0,758.01 L81.0,757.95 L82.0,757.89 L83.0,757.85 L84.0,757.82 L85.0,757.81 L86.0,757.80 L87.0,757.82 L88.0,757.88 L89.0,757.98 L90.0,758.11 L91.0,758.28 L92.0,758.47 L93.0,758.68 L94.0,758.91 L95.0,759.17 L96.0,759.43 L97.0,759.71 L98.0,759.99 L99.0,760.28 L100.0,760.57 L101.0,760.86 L102.0,761.15 L103.0,761.42 L104.0,761.69 L105.0,761.93 L106.0,762.17 L107.0,762.37 L108.0,762.56 L109.0,762.72 L110.0,762.84 L111.0,762.93 L112.0,762.99 L113.0,763.00 L114.0,763.00 L115.0,763.00 L116.0,762.99 L117.0,762.99 L118.0,762.98 L119.0,762.97 L120.0,762.96 L121.0,762.95 L122.0,762.93 L123.0,762.92 L124.0,762.90 L125.0,762.88 L126.0,762.87 L127.0,762.85 L128.0,762.82 L129.0,762.80 L130.0,762.78 L131.0,762.75 L132.0,762.73 L133.0,762.70 L134.0,762.67 L135.0,762.64 L136.0,762.61 L137.0,762.58 L138.0,762.54 L139.0,762.51 L140.0,762.47 L141.0,762.44 L142.0,762.40 L143.0,762.36 L144.0,762.32 L145.0,762.28 L146.0,762.24 L147.0,762.20 L148.0,762.16 L149.0,762.12 L150.0,762.07 L151.0,762.00 L152.0,761.90 L153.0,761.79 L154.0,761.65 L155.0,761.50 L156.0,761.33 L157.0,761.15 L158.0,760.96 L159.0,760.75 L160.0,760.54 L161.0,760.32 L162.0,760.09 L163.0,759.86 L164.0,759.63 L165.0,759.40 L166.0,759.18 L167.0,758.95 L168.0,758.73 L169.0,758.52 L170.0,758.32 L171.0,758.13 L172.0,757.95 L173.0,757.79 L174.0,757.64 L175.0,757.51 L176.0,757.40 L177.0,757.31 L178.0,757.25 L179.0,757.21 L180.0,757.20 L181.0,757.23 L182.0,757.31 L183.0,757.42 L184.0,757.57 L185.0,757.74 L186.0,757.93 L187.0,758.13 L188.0,758.34 L189.0,758.55 L190.0,758.75 L191.0,758.93 L192.0,759.09 L193.0,759.23 L194.0,759.33 L195.0,759.39 L196.0,759.39 L197.0,759.16 L198.0,758.69 L199.0,757.99 L200.0,757.11 L201.0,756.08 L202.0,754.92 L203.0,753.68 L204.0,752.38 L205.0,751.06 L206.0,749.75 L207.0,748.48 L208.0,747.28 L209.0,746.20 L210.0,745.25 L211.0,744.42 L212.0,743.57 L213.0,742.69 L214.0,741.79 L215.0,740.88 L216.0,739.97 L217.0,739.06 L218.0,738.17 L219.0,737.29 L220.0,736.44 L221.0,735.62 L222.0,734.84 L223.0,734.12 L224.0,733.45 L225.0,732.85 L226.0,732.31 L227.0,731.86 L228.0,731.50 L229.0,731.23 L230.0,731.06 L231.0,731.00 L232.0,731.06 L233.0,731.24 L234.0,731.52 L235.0,731.91 L236.0,732.38 L237.0,732.94 L238.0,733.57 L239.0,734.27 L240.0,735.02 L241.0,735.82 L242.0,736.66 L243.0,737.53 L244.0,738.43 L245.0,739.34 L246.0,740.25 L247.0,741.16 L248.0,742.06 L249.0,742.94 L250.0,743.79 L251.0,744.61 L252.0,745.40 L253.0,746.29 L254.0,747.28 L255.0,748.35 L256.0,749.46 L257.0,750.61 L258.0,751.76 L259.0,752.89 L260.0,753.98 L261.0,755.00 L262.0,755.93 L263.0,756.74 L264.0,757.42 L265.0,757.94 L266.0,758.28 L267.0,758.40 L268.0,758.44 L269.0,758.46 L270.0,758.49 L271.0,758.51 L272.0,758.52 L273.0,758.53 L274.0,758.54 L275.0,758.55 L276.0,758.56 L277.0,758.58 L278.0,758.59 L279.0,758.60 L280.0,758.62 L281.0,758.65 L282.0,758.67 L283.0,758.71 L284.0,758.81 L285.0,759.00 L286.0,759.26 L287.0,759.58 L288.0,759.94 L289.0,760.32 L290.0,760.73 L291.0,761.12 L292.0,761.51 L293.0,761.86 L294.0,762.17 L295.0,762.42 L296.0,762.60 L297.0,762.69 L298.0,762.69 L299.0,762.62 L300.0,762.51 L301.0,762.34 L302.0,762.14 L303.0,761.90 L304.0,761.64 L305.0,761.35 L306.0,761.05 L307.0,760.75 L308.0,760.44 L309.0,760.14 L310.0,759.85 L311.0,759.58 L312.0,759.33 L313.0,759.12 L314.0,758.94 L315.0,758.81 L316.0,758.72 L317.0,758.70 L318.0,758.73 L319.0,758.79 L320.0,758.89 L321.0,759.02 L322.0,759.19 L323.0,759.37 L324.0,759.58 L325.0,759.81 L326.0,760.05 L327.0,760.30 L328.0,760.56 L329.0,760.82 L330.0,761.09 L331.0,761.35 L332.0,761.60 L333.0,761.85 L334.0,762.08 L335.0,762.29 L336.0,762.48 L337.0,762.65 L338.0,762.79 L339.0,762.89 L340.0,762.96 L341.0,763.00 L342.0,763.00 L343.0,762.99 L344.0,762.98 L345.0,762.96 L346.0,762.93 L347.0,762.90 L348.0,762.86 L349.0,762.82 L350.0,762.78 L351.0,762.73 L352.0,762.68 L353.0,762.63 L354.0,762.57 L355.0,762.51 L356.0,762.46 L357.0,762.40 L358.0,762.34 L359.0,762.28 L360.0,762.22 L361.0,762.16 L362.0,762.10 L363.0,762.04 L364.0,761.96 L365.0,761.87 L366.0,761.78 L367.0,761.67 L368.0,761.57 L369.0,761.46 L370.0,761.35 L371.0,761.24 L372.0,761.13 L373.0,761.03 L374.0,760.93 L375.0,760.84 L376.0,760.77 L377.0,760.70 L378.0,760.65 L379.0,760.62 L380.0,760.60 L381.0,760.60 L382.0,760.60 L383.0,760.60 L384.0,760.60 L385.0,760.60 L386.0,760.60 L387.0,760.60 L388.0,760.60 L389.0,760.60 L390.0,760.60 L391.0,760.60 L392.0,760.60 L393.0,760.60 L394.0,760.60 L395.0,760.60" fill="none" stroke="#bb3552" stroke-width="1.45"/>
<path d="M66.0,791.32 L67.0,791.26 L68.0,791.20 L69.0,791.15 L70.0,791.09 L71.0,791.04 L72.0,790.99 L73.0,790.94 L74.0,790.89 L75.0,790.85 L76.0,790.81 L77.0,790.77 L78.0,790.73 L79.0,790.69 L80.0,790.66 L81.0,790.63 L82.0,790.60 L83.0,790.57 L84.0,790.54 L85.0,790.52 L86.0,790.50 L87.0,790.48 L88.0,790.46 L89.0,790.45 L90.0,790.43 L91.0,790.42 L92.0,790.41 L93.0,790.41 L94.0,790.40 L95.0,790.40 L96.0,790.40 L97.0,790.41 L98.0,790.42 L99.0,790.43 L100.0,790.45 L101.0,790.48 L102.0,790.51 L103.0,790.55 L104.0,790.59 L105.0,790.63 L106.0,790.68 L107.0,790.73 L108.0,790.78 L109.0,790.83 L110.0,790.89 L111.0,790.95 L112.0,791.00 L113.0,791.07 L114.0,791.13 L115.0,791.19 L116.0,791.25 L117.0,791.31 L118.0,791.37 L119.0,791.43 L120.0,791.49 L121.0,791.55 L122.0,791.60 L123.0,791.65 L124.0,791.70 L125.0,791.75 L126.0,791.80 L127.0,791.84 L128.0,791.87 L129.0,791.91 L130.0,791.94 L131.0,791.96 L132.0,791.98 L133.0,791.99 L134.0,792.00 L135.0,792.00 L136.0,792.00 L137.0,791.99 L138.0,791.98 L139.0,791.97 L140.0,791.96 L141.0,791.94 L142.0,791.92 L143.0,791.90 L144.0,791.88 L145.0,791.85 L146.0,791.82 L147.0,791.79 L148.0,791.75 L149.0,791.72 L150.0,791.68 L151.0,791.64 L152.0,791.60 L153.0,791.55 L154.0,791.51 L155.0,791.46 L156.0,791.41 L157.0,791.36 L158.0,791.30 L159.0,791.25 L160.0,791.19 L161.0,791.14 L162.0,791.07 L163.0,790.97 L164.0,790.84 L165.0,790.66 L166.0,790.46 L167.0,790.24 L168.0,790.00 L169.0,789.74 L170.0,789.47 L171.0,789.20 L172.0,788.93 L173.0,788.67 L174.0,788.42 L175.0,788.18 L176.0,787.97 L177.0,787.78 L178.0,787.63 L179.0,787.51 L180.0,787.43 L181.0,787.40 L182.0,787.43 L183.0,787.51 L184.0,787.64 L185.0,787.81 L186.0,788.02 L187.0,788.25 L188.0,788.50 L189.0,788.75 L190.0,789.00 L191.0,789.25 L192.0,789.48 L193.0,789.69 L194.0,789.86 L195.0,789.99 L196.0,790.07 L197.0,790.10 L198.0,789.98 L199.0,789.67 L200.0,789.19 L201.0,788.56 L202.0,787.79 L203.0,786.90 L204.0,785.90 L205.0,784.81 L206.0,783.65 L207.0,782.43 L208.0,781.17 L209.0,779.88 L210.0,778.59 L211.0,777.31 L212.0,776.05 L213.0,774.83 L214.0,773.66 L215.0,772.57 L216.0,771.57 L217.0,770.64 L218.0,769.64 L219.0,768.59 L220.0,767.48 L221.0,766.35 L222.0,765.21 L223.0,764.08 L224.0,762.97 L225.0,761.90 L226.0,760.90 L227.0,759.97 L228.0,759.13 L229.0,758.41 L230.0,757.82 L231.0,757.38 L232.0,757.10 L233.0,757.00 L234.0,757.05 L235.0,757.20 L236.0,757.43 L237.0,757.74 L238.0,758.11 L239.0,758.53 L240.0,758.99 L241.0,759.48 L242.0,759.99 L243.0,760.50 L244.0,761.00 L245.0,761.61 L246.0,762.36 L247.0,763.23 L248.0,764.21 L249.0,765.30 L250.0,766.46 L251.0,767.69 L252.0,768.98 L253.0,770.31 L254.0,771.66 L255.0,773.02 L256.0,774.38 L257.0,775.72 L258.0,777.03 L259.0,778.29 L260.0,779.50 L261.0,780.62 L262.0,781.66 L263.0,782.59 L264.0,783.41 L265.0,784.09 L266.0,784.62 L267.0,784.99 L268.0,785.19 L269.0,785.27 L270.0,785.34 L271.0,785.39 L272.0,785.44 L273.0,785.48 L274.0,785.52 L275.0,785.55 L276.0,785.58 L277.0,785.62 L278.0,785.65 L279.0,785.69 L280.0,785.73 L281.0,785.78 L282.0,785.84 L283.0,785.92 L284.0,786.01 L285.0,786.15 L286.0,786.30 L287.0,786.49 L288.0,786.69 L289.0,786.91 L290.0,787.14 L291.0,787.38 L292.0,787.63 L293.0,787.88 L294.0,788.12 L295.0,788.36 L296.0,788.60 L297.0,788.82 L298.0,789.02 L299.0,789.20 L300.0,789.36 L301.0,789.49 L302.0,789.60 L303.0,789.71 L304.0,789.82 L305.0,789.93 L306.0,790.04 L307.0,790.15 L308.0,790.26 L309.0,790.36 L310.0,790.47 L311.0,790.57 L312.0,790.67 L313.0,790.77 L314.0,790.86 L315.0,790.95 L316.0,791.04 L317.0,791.13 L318.0,791.21 L319.0,791.30 L320.0,791.37 L321.0,791.45 L322.0,791.52 L323.0,791.58 L324.0,791.64 L325.0,791.70 L326.0,791.76 L327.0,791.80 L328.0,791.85 L329.0,791.89 L330.0,791.92 L331.0,791.95 L332.0,791.97 L333.0,791.98 L334.0,792.00 L335.0,792.00 L336.0,792.00 L337.0,791.99 L338.0,791.97 L339.0,791.94 L340.0,791.91 L341.0,791.87 L342.0,791.82 L343.0,791.77 L344.0,791.72 L345.0,791.66 L346.0,791.60 L347.0,791.53 L348.0,791.46 L349.0,791.39 L350.0,791.32 L351.0,791.25 L352.0,791.17 L353.0,791.10 L354.0,791.03 L355.0,790.96 L356.0,790.89 L357.0,790.82 L358.0,790.76 L359.0,790.70 L360.0,790.64 L361.0,790.59 L362.0,790.54 L363.0,790.50 L364.0,790.47 L365.0,790.44 L366.0,790.42 L367.0,790.41 L368.0,790.40 L369.0,790.40 L370.0,790.40 L371.0,790.40 L372.0,790.40 L373.0,790.40 L374.0,790.40 L375.0,790.40 L376.0,790.40 L377.0,790.40 L378.0,790.40 L379.0,790.40 L380.0,790.40 L381.0,790.40 L382.0,790.40 L383.0,790.40 L384.0,790.40 L385.0,790.40 L386.0,790.40 L387.0,790.40 L388.0,790.40 L389.0,790.40 L390.0,790.40 L391.0,790.40 L392.0,790.40 L393.0,790.40 L394.0,790.40 L395.0,790.40" fill="none" stroke="#a8305f" stroke-width="1.45"/>
<path d="M66.0,816.91 L67.0,817.13 L68.0,817.34 L69.0,817.54 L70.0,817.73 L71.0,817.91 L72.0,818.08 L73.0,818.24 L74.0,818.40 L75.0,818.54 L76.0,818.68 L77.0,818.81 L78.0,818.93 L79.0,819.04 L80.0,819.15 L81.0,819.24 L82.0,819.33 L83.0,819.42 L84.0,819.50 L85.0,819.57 L86.0,819.63 L87.0,819.69 L88.0,819.74 L89.0,819.79 L90.0,819.83 L91.0,819.87 L92.0,819.90 L93.0,819.93 L94.0,819.95 L95.0,819.97 L96.0,819.98 L97.0,819.99 L98.0,820.00 L99.0,820.00 L100.0,819.99 L101.0,819.96 L102.0,819.89 L103.0,819.79 L104.0,819.68 L105.0,819.54 L106.0,819.40 L107.0,819.24 L108.0,819.08 L109.0,818.93 L110.0,818.77 L111.0,818.63 L112.0,818.50 L113.0,818.39 L114.0,818.30 L115.0,818.23 L116.0,818.20 L117.0,818.20 L118.0,818.21 L119.0,818.21 L120.0,818.23 L121.0,818.24 L122.0,818.27 L123.0,818.29 L124.0,818.32 L125.0,818.35 L126.0,818.38 L127.0,818.42 L128.0,818.46 L129.0,818.50 L130.0,818.54 L131.0,818.59 L132.0,818.63 L133.0,818.68 L134.0,818.73 L135.0,818.79 L136.0,818.84 L137.0,818.89 L138.0,818.95 L139.0,819.00 L140.0,819.06 L141.0,819.11 L142.0,819.17 L143.0,819.22 L144.0,819.28 L145.0,819.33 L146.0,819.38 L147.0,819.44 L148.0,819.49 L149.0,819.54 L150.0,819.58 L151.0,819.63 L152.0,819.68 L153.0,819.72 L154.0,819.76 L155.0,819.80 L156.0,819.83 L157.0,819.86 L158.0,819.89 L159.0,819.92 L160.0,819.94 L161.0,819.96 L162.0,819.98 L163.0,819.99 L164.0,820.00 L165.0,820.00 L166.0,819.98 L167.0,819.93 L168.0,819.83 L169.0,819.70 L170.0,819.54 L171.0,819.37 L172.0,819.18 L173.0,818.98 L174.0,818.78 L175.0,818.59 L176.0,818.41 L177.0,818.25 L178.0,818.11 L179.0,818.00 L180.0,817.93 L181.0,817.90 L182.0,817.91 L183.0,817.94 L184.0,817.99 L185.0,818.06 L186.0,818.14 L187.0,818.22 L188.0,818.31 L189.0,818.41 L190.0,818.50 L191.0,818.58 L192.0,818.66 L193.0,818.72 L194.0,818.77 L195.0,818.79 L196.0,818.79 L197.0,818.65 L198.0,818.33 L199.0,817.86 L200.0,817.25 L201.0,816.50 L202.0,815.64 L203.0,814.66 L204.0,813.59 L205.0,812.44 L206.0,811.22 L207.0,809.94 L208.0,808.62 L209.0,807.26 L210.0,805.88 L211.0,804.50 L212.0,803.12 L213.0,801.75 L214.0,800.42 L215.0,799.12 L216.0,797.88 L217.0,796.71 L218.0,795.62 L219.0,794.61 L220.0,793.71 L221.0,792.93 L222.0,792.28 L223.0,791.74 L224.0,791.22 L225.0,790.70 L226.0,790.18 L227.0,789.67 L228.0,789.19 L229.0,788.74 L230.0,788.32 L231.0,787.95 L232.0,787.63 L233.0,787.36 L234.0,787.17 L235.0,787.04 L236.0,787.00 L237.0,787.11 L238.0,787.39 L239.0,787.80 L240.0,788.27 L241.0,788.76 L242.0,789.25 L243.0,789.84 L244.0,790.54 L245.0,791.32 L246.0,792.18 L247.0,793.11 L248.0,794.11 L249.0,795.16 L250.0,796.26 L251.0,797.39 L252.0,798.56 L253.0,799.74 L254.0,800.94 L255.0,802.13 L256.0,803.32 L257.0,804.50 L258.0,805.65 L259.0,806.77 L260.0,807.85 L261.0,808.88 L262.0,809.85 L263.0,810.75 L264.0,811.58 L265.0,812.32 L266.0,812.97 L267.0,813.51 L268.0,813.95 L269.0,814.27 L270.0,814.45 L271.0,814.51 L272.0,814.55 L273.0,814.57 L274.0,814.59 L275.0,814.61 L276.0,814.63 L277.0,814.64 L278.0,814.66 L279.0,814.67 L280.0,814.68 L281.0,814.70 L282.0,814.72 L283.0,814.74 L284.0,814.76 L285.0,814.79 L286.0,814.84 L287.0,814.91 L288.0,815.01 L289.0,815.13 L290.0,815.28 L291.0,815.44 L292.0,815.62 L293.0,815.80 L294.0,816.00 L295.0,816.20 L296.0,816.40 L297.0,816.61 L298.0,816.80 L299.0,816.99 L300.0,817.18 L301.0,817.34 L302.0,817.49 L303.0,817.63 L304.0,817.74 L305.0,817.82 L306.0,817.88 L307.0,817.90 L308.0,817.89 L309.0,817.86 L310.0,817.80 L311.0,817.72 L312.0,817.63 L313.0,817.52 L314.0,817.40 L315.0,817.28 L316.0,817.15 L317.0,817.01 L318.0,816.89 L319.0,816.76 L320.0,816.65 L321.0,816.54 L322.0,816.45 L323.0,816.38 L324.0,816.33 L325.0,816.30 L326.0,816.30 L327.0,816.31 L328.0,816.34 L329.0,816.38 L330.0,816.43 L331.0,816.49 L332.0,816.56 L333.0,816.64 L334.0,816.72 L335.0,816.82 L336.0,816.92 L337.0,817.04 L338.0,817.15 L339.0,817.27 L340.0,817.40 L341.0,817.53 L342.0,817.67 L343.0,817.81 L344.0,817.95 L345.0,818.09 L346.0,818.23 L347.0,818.38 L348.0,818.52 L349.0,818.67 L350.0,818.81 L351.0,818.95 L352.0,819.09 L353.0,819.22 L354.0,819.35 L355.0,819.48 L356.0,819.60 L357.0,819.71 L358.0,819.82 L359.0,819.92 L360.0,820.01 L361.0,820.10 L362.0,820.17 L363.0,820.24 L364.0,820.29 L365.0,820.34 L366.0,820.37 L367.0,820.39 L368.0,820.40 L369.0,820.39 L370.0,820.38 L371.0,820.34 L372.0,820.30 L373.0,820.24 L374.0,820.17 L375.0,820.09 L376.0,820.00 L377.0,819.90 L378.0,819.79 L379.0,819.67 L380.0,819.54 L381.0,819.40 L382.0,819.25 L383.0,819.09 L384.0,818.93 L385.0,818.75 L386.0,818.57 L387.0,818.39 L388.0,818.19 L389.0,818.00 L390.0,817.79 L391.0,817.58 L392.0,817.37 L393.0,817.15 L394.0,816.93 L395.0,816.70" fill="none" stroke="#9c2a68" stroke-width="1.45"/>
<path d="M66.0,846.41 L67.0,846.64 L68.0,846.87 L69.0,847.10 L70.0,847.32 L71.0,847.53 L72.0,847.73 L73.0,847.92 L74.0,848.10 L75.0,848.27 L76.0,848.42 L77.0,848.55 L78.0,848.67 L79.0,848.76 L80.0,848.83 L81.0,848.88 L82.0,848.90 L83.0,848.90 L84.0,848.88 L85.0,848.84 L86.0,848.79 L87.0,848.73 L88.0,848.65 L89.0,848.57 L90.0,848.47 L91.0,848.37 L92.0,848.25 L93.0,848.14 L94.0,848.01 L95.0,847.89 L96.0,847.76 L97.0,847.62 L98.0,847.49 L99.0,847.36 L100.0,847.23 L101.0,847.10 L102.0,846.98 L103.0,846.86 L104.0,846.74 L105.0,846.64 L106.0,846.54 L107.0,846.46 L108.0,846.38 L109.0,846.32 L110.0,846.26 L111.0,846.23 L112.0,846.21 L113.0,846.20 L114.0,846.21 L115.0,846.23 L116.0,846.25 L117.0,846.29 L118.0,846.34 L119.0,846.39 L120.0,846.45 L121.0,846.52 L122.0,846.59 L123.0,846.67 L124.0,846.76 L125.0,846.85 L126.0,846.94 L127.0,847.04 L128.0,847.14 L129.0,847.24 L130.0,847.34 L131.0,847.44 L132.0,847.54 L133.0,847.64 L134.0,847.74 L135.0,847.84 L136.0,847.94 L137.0,848.03 L138.0,848.12 L139.0,848.21 L140.0,848.29 L141.0,848.37 L142.0,848.43 L143.0,848.50 L144.0,848.55 L145.0,848.60 L146.0,848.64 L147.0,848.67 L148.0,848.69 L149.0,848.70 L150.0,848.69 L151.0,848.65 L152.0,848.56 L153.0,848.45 L154.0,848.30 L155.0,848.12 L156.0,847.93 L157.0,847.71 L158.0,847.47 L159.0,847.23 L160.0,846.97 L161.0,846.71 L162.0,846.44 L163.0,846.18 L164.0,845.92 L165.0,845.67 L166.0,845.44 L167.0,845.22 L168.0,845.01 L169.0,844.83 L170.0,844.68 L171.0,844.56 L172.0,844.47 L173.0,844.41 L174.0,844.40 L175.0,844.43 L176.0,844.48 L177.0,844.57 L178.0,844.68 L179.0,844.81 L180.0,844.95 L181.0,845.09 L182.0,845.25 L183.0,845.40 L184.0,845.54 L185.0,845.67 L186.0,845.79 L187.0,845.88 L188.0,845.95 L189.0,845.99 L190.0,845.99 L191.0,845.86 L192.0,845.60 L193.0,845.22 L194.0,844.73 L195.0,844.14 L196.0,843.47 L197.0,842.73 L198.0,841.92 L199.0,841.07 L200.0,840.18 L201.0,839.26 L202.0,838.32 L203.0,837.39 L204.0,836.46 L205.0,835.56 L206.0,834.69 L207.0,833.86 L208.0,833.09 L209.0,832.39 L210.0,831.77 L211.0,831.21 L212.0,830.65 L213.0,830.07 L214.0,829.48 L215.0,828.89 L216.0,828.29 L217.0,827.69 L218.0,827.09 L219.0,826.49 L220.0,825.89 L221.0,825.30 L222.0,824.72 L223.0,824.15 L224.0,823.59 L225.0,823.04 L226.0,822.51 L227.0,822.00 L228.0,821.51 L229.0,821.04 L230.0,820.60 L231.0,820.18 L232.0,819.80 L233.0,819.44 L234.0,819.12 L235.0,818.84 L236.0,818.59 L237.0,818.38 L238.0,818.22 L239.0,818.10 L240.0,818.03 L241.0,818.00 L242.0,818.04 L243.0,818.17 L244.0,818.38 L245.0,818.66 L246.0,819.01 L247.0,819.43 L248.0,819.91 L249.0,820.45 L250.0,821.04 L251.0,821.68 L252.0,822.37 L253.0,823.10 L254.0,823.87 L255.0,824.66 L256.0,825.49 L257.0,826.34 L258.0,827.20 L259.0,828.09 L260.0,828.98 L261.0,829.88 L262.0,830.79 L263.0,831.69 L264.0,832.58 L265.0,833.47 L266.0,834.34 L267.0,835.19 L268.0,836.01 L269.0,836.81 L270.0,837.58 L271.0,838.31 L272.0,839.00 L273.0,839.65 L274.0,840.24 L275.0,840.79 L276.0,841.27 L277.0,841.70 L278.0,842.05 L279.0,842.34 L280.0,842.55 L281.0,842.70 L282.0,842.85 L283.0,842.99 L284.0,843.13 L285.0,843.27 L286.0,843.41 L287.0,843.54 L288.0,843.66 L289.0,843.78 L290.0,843.90 L291.0,844.02 L292.0,844.12 L293.0,844.23 L294.0,844.33 L295.0,844.42 L296.0,844.50 L297.0,844.58 L298.0,844.66 L299.0,844.73 L300.0,844.79 L301.0,844.84 L302.0,844.89 L303.0,844.93 L304.0,844.96 L305.0,844.98 L306.0,844.99 L307.0,845.00 L308.0,844.99 L309.0,844.97 L310.0,844.92 L311.0,844.86 L312.0,844.78 L313.0,844.69 L314.0,844.59 L315.0,844.48 L316.0,844.36 L317.0,844.24 L318.0,844.12 L319.0,844.00 L320.0,843.87 L321.0,843.76 L322.0,843.64 L323.0,843.54 L324.0,843.45 L325.0,843.37 L326.0,843.30 L327.0,843.25 L328.0,843.21 L329.0,843.20 L330.0,843.22 L331.0,843.28 L332.0,843.39 L333.0,843.53 L334.0,843.70 L335.0,843.91 L336.0,844.13 L337.0,844.38 L338.0,844.65 L339.0,844.93 L340.0,845.22 L341.0,845.51 L342.0,845.81 L343.0,846.10 L344.0,846.38 L345.0,846.66 L346.0,846.92 L347.0,847.16 L348.0,847.38 L349.0,847.57 L350.0,847.73 L351.0,847.86 L352.0,847.95 L353.0,847.99 L354.0,848.00 L355.0,848.00 L356.0,848.00 L357.0,848.00 L358.0,848.00 L359.0,848.00 L360.0,847.99 L361.0,847.99 L362.0,847.98 L363.0,847.98 L364.0,847.97 L365.0,847.96 L366.0,847.95 L367.0,847.93 L368.0,847.91 L369.0,847.90 L370.0,847.87 L371.0,847.85 L372.0,847.82 L373.0,847.79 L374.0,847.76 L375.0,847.72 L376.0,847.68 L377.0,847.64 L378.0,847.59 L379.0,847.54 L380.0,847.48 L381.0,847.42 L382.0,847.35 L383.0,847.28 L384.0,847.21 L385.0,847.13 L386.0,847.04 L387.0,846.95 L388.0,846.85 L389.0,846.75 L390.0,846.64 L391.0,846.52 L392.0,846.40 L393.0,846.28 L394.0,846.14 L395.0,846.00" fill="none" stroke="#8a2471" stroke-width="1.45"/>
<path d="M66.0,874.49 L67.0,874.26 L68.0,874.05 L69.0,873.86 L70.0,873.70 L71.0,873.57 L72.0,873.47 L73.0,873.41 L74.0,873.40 L75.0,873.45 L76.0,873.55 L77.0,873.70 L78.0,873.90 L79.0,874.13 L80.0,874.40 L81.0,874.68 L82.0,874.98 L83.0,875.28 L84.0,875.58 L85.0,875.88 L86.0,876.16 L87.0,876.42 L88.0,876.64 L89.0,876.83 L90.0,876.98 L91.0,877.07 L92.0,877.10 L93.0,877.09 L94.0,877.07 L95.0,877.02 L96.0,876.97 L97.0,876.90 L98.0,876.82 L99.0,876.73 L100.0,876.63 L101.0,876.52 L102.0,876.40 L103.0,876.27 L104.0,876.15 L105.0,876.02 L106.0,875.88 L107.0,875.75 L108.0,875.61 L109.0,875.48 L110.0,875.35 L111.0,875.22 L112.0,875.09 L113.0,874.98 L114.0,874.85 L115.0,874.71 L116.0,874.57 L117.0,874.41 L118.0,874.24 L119.0,874.07 L120.0,873.90 L121.0,873.72 L122.0,873.54 L123.0,873.35 L124.0,873.17 L125.0,873.00 L126.0,872.83 L127.0,872.66 L128.0,872.50 L129.0,872.36 L130.0,872.22 L131.0,872.10 L132.0,871.99 L133.0,871.89 L134.0,871.81 L135.0,871.75 L136.0,871.72 L137.0,871.70 L138.0,871.72 L139.0,871.79 L140.0,871.92 L141.0,872.10 L142.0,872.32 L143.0,872.57 L144.0,872.86 L145.0,873.17 L146.0,873.51 L147.0,873.86 L148.0,874.23 L149.0,874.60 L150.0,874.97 L151.0,875.35 L152.0,875.71 L153.0,876.06 L154.0,876.39 L155.0,876.70 L156.0,876.98 L157.0,877.23 L158.0,877.44 L159.0,877.61 L160.0,877.72 L161.0,877.79 L162.0,877.79 L163.0,877.70 L164.0,877.52 L165.0,877.27 L166.0,876.97 L167.0,876.64 L168.0,876.30 L169.0,875.96 L170.0,875.65 L171.0,875.37 L172.0,875.16 L173.0,875.03 L174.0,875.00 L175.0,875.03 L176.0,875.10 L177.0,875.19 L178.0,875.30 L179.0,875.42 L180.0,875.54 L181.0,875.66 L182.0,875.76 L183.0,875.84 L184.0,875.89 L185.0,875.89 L186.0,875.67 L187.0,875.21 L188.0,874.55 L189.0,873.72 L190.0,872.75 L191.0,871.70 L192.0,870.58 L193.0,869.44 L194.0,868.31 L195.0,867.23 L196.0,866.24 L197.0,865.37 L198.0,864.66 L199.0,864.05 L200.0,863.44 L201.0,862.81 L202.0,862.18 L203.0,861.56 L204.0,860.95 L205.0,860.35 L206.0,859.77 L207.0,859.21 L208.0,858.69 L209.0,858.21 L210.0,857.76 L211.0,857.37 L212.0,857.03 L213.0,856.74 L214.0,856.53 L215.0,856.38 L216.0,856.31 L217.0,856.32 L218.0,856.42 L219.0,856.59 L220.0,856.83 L221.0,857.12 L222.0,857.45 L223.0,857.80 L224.0,858.16 L225.0,858.51 L226.0,858.85 L227.0,859.16 L228.0,859.42 L229.0,859.62 L230.0,859.75 L231.0,859.80 L232.0,859.74 L233.0,859.57 L234.0,859.29 L235.0,858.92 L236.0,858.46 L237.0,857.93 L238.0,857.33 L239.0,856.68 L240.0,855.97 L241.0,855.22 L242.0,854.45 L243.0,853.65 L244.0,852.84 L245.0,852.03 L246.0,851.23 L247.0,850.44 L248.0,849.67 L249.0,848.94 L250.0,848.25 L251.0,847.62 L252.0,847.05 L253.0,846.54 L254.0,846.12 L255.0,845.79 L256.0,845.55 L257.0,845.42 L258.0,845.41 L259.0,845.53 L260.0,845.77 L261.0,846.10 L262.0,846.53 L263.0,847.02 L264.0,847.56 L265.0,848.14 L266.0,848.75 L267.0,849.35 L268.0,849.94 L269.0,850.58 L270.0,851.37 L271.0,852.28 L272.0,853.30 L273.0,854.40 L274.0,855.56 L275.0,856.77 L276.0,858.00 L277.0,859.23 L278.0,860.45 L279.0,861.62 L280.0,862.73 L281.0,863.77 L282.0,864.70 L283.0,865.52 L284.0,866.19 L285.0,866.70 L286.0,867.03 L287.0,867.18 L288.0,867.31 L289.0,867.41 L290.0,867.51 L291.0,867.59 L292.0,867.66 L293.0,867.72 L294.0,867.78 L295.0,867.83 L296.0,867.89 L297.0,867.95 L298.0,868.02 L299.0,868.10 L300.0,868.19 L301.0,868.29 L302.0,868.41 L303.0,868.57 L304.0,868.75 L305.0,868.95 L306.0,869.17 L307.0,869.41 L308.0,869.65 L309.0,869.91 L310.0,870.17 L311.0,870.42 L312.0,870.68 L313.0,870.92 L314.0,871.16 L315.0,871.38 L316.0,871.58 L317.0,871.76 L318.0,871.92 L319.0,872.04 L320.0,872.13 L321.0,872.19 L322.0,872.20 L323.0,872.19 L324.0,872.15 L325.0,872.11 L326.0,872.04 L327.0,871.97 L328.0,871.90 L329.0,871.81 L330.0,871.73 L331.0,871.64 L332.0,871.56 L333.0,871.49 L334.0,871.42 L335.0,871.37 L336.0,871.33 L337.0,871.31 L338.0,871.30 L339.0,871.36 L340.0,871.48 L341.0,871.66 L342.0,871.89 L343.0,872.15 L344.0,872.45 L345.0,872.76 L346.0,873.08 L347.0,873.41 L348.0,873.73 L349.0,874.03 L350.0,874.31 L351.0,874.55 L352.0,874.75 L353.0,874.90 L354.0,874.98 L355.0,875.00 L356.0,874.96 L357.0,874.88 L358.0,874.77 L359.0,874.62 L360.0,874.45 L361.0,874.26 L362.0,874.06 L363.0,873.85 L364.0,873.64 L365.0,873.44 L366.0,873.24 L367.0,873.06 L368.0,872.90 L369.0,872.77 L370.0,872.67 L371.0,872.62 L372.0,872.60 L373.0,872.61 L374.0,872.64 L375.0,872.69 L376.0,872.76 L377.0,872.85 L378.0,872.95 L379.0,873.07 L380.0,873.21 L381.0,873.37 L382.0,873.55 L383.0,873.74 L384.0,873.95 L385.0,874.18 L386.0,874.42 L387.0,874.68 L388.0,874.96 L389.0,875.26 L390.0,875.58 L391.0,875.91 L392.0,876.25 L393.0,876.62 L394.0,877.00 L395.0,877.40" fill="none" stroke="#7b2176" stroke-width="1.45"/>
<path d="M66.0,903.58 L67.0,903.87 L68.0,904.14 L69.0,904.40 L70.0,904.64 L71.0,904.86 L72.0,905.06 L73.0,905.25 L74.0,905.42 L75.0,905.57 L76.0,905.70 L77.0,905.82 L78.0,905.91 L79.0,905.99 L80.0,906.05 L81.0,906.08 L82.0,906.10 L83.0,906.09 L84.0,906.03 L85.0,905.94 L86.0,905.81 L87.0,905.66 L88.0,905.48 L89.0,905.28 L90.0,905.07 L91.0,904.85 L92.0,904.63 L93.0,904.41 L94.0,904.20 L95.0,904.00 L96.0,903.83 L97.0,903.67 L98.0,903.55 L99.0,903.46 L100.0,903.41 L101.0,903.40 L102.0,903.42 L103.0,903.46 L104.0,903.51 L105.0,903.58 L106.0,903.66 L107.0,903.76 L108.0,903.86 L109.0,903.98 L110.0,904.09 L111.0,904.22 L112.0,904.35 L113.0,904.48 L114.0,904.60 L115.0,904.73 L116.0,904.85 L117.0,904.97 L118.0,905.08 L119.0,905.18 L120.0,905.27 L121.0,905.35 L122.0,905.41 L123.0,905.46 L124.0,905.49 L125.0,905.50 L126.0,905.49 L127.0,905.47 L128.0,905.43 L129.0,905.38 L130.0,905.32 L131.0,905.25 L132.0,905.16 L133.0,905.06 L134.0,904.96 L135.0,904.85 L136.0,904.72 L137.0,904.60 L138.0,904.46 L139.0,904.32 L140.0,904.18 L141.0,904.03 L142.0,903.88 L143.0,903.73 L144.0,903.58 L145.0,903.42 L146.0,903.27 L147.0,903.12 L148.0,902.97 L149.0,902.82 L150.0,902.68 L151.0,902.54 L152.0,902.40 L153.0,902.28 L154.0,902.15 L155.0,902.04 L156.0,901.94 L157.0,901.84 L158.0,901.75 L159.0,901.68 L160.0,901.62 L161.0,901.57 L162.0,901.53 L163.0,901.51 L164.0,901.50 L165.0,901.55 L166.0,901.70 L167.0,901.94 L168.0,902.24 L169.0,902.59 L170.0,902.97 L171.0,903.38 L172.0,903.79 L173.0,904.19 L174.0,904.56 L175.0,904.89 L176.0,905.16 L177.0,905.37 L178.0,905.48 L179.0,905.47 L180.0,905.20 L181.0,904.67 L182.0,903.91 L183.0,902.97 L184.0,901.88 L185.0,900.68 L186.0,899.42 L187.0,898.14 L188.0,896.86 L189.0,895.64 L190.0,894.52 L191.0,893.52 L192.0,892.70 L193.0,891.96 L194.0,891.21 L195.0,890.44 L196.0,889.66 L197.0,888.89 L198.0,888.12 L199.0,887.37 L200.0,886.65 L201.0,885.95 L202.0,885.29 L203.0,884.68 L204.0,884.12 L205.0,883.62 L206.0,883.19 L207.0,882.84 L208.0,882.57 L209.0,882.39 L210.0,882.30 L211.0,882.33 L212.0,882.47 L213.0,882.70 L214.0,883.03 L215.0,883.44 L216.0,883.91 L217.0,884.44 L218.0,885.01 L219.0,885.61 L220.0,886.24 L221.0,886.87 L222.0,887.49 L223.0,888.14 L224.0,889.00 L225.0,890.05 L226.0,891.23 L227.0,892.49 L228.0,893.76 L229.0,895.00 L230.0,896.14 L231.0,897.13 L232.0,897.91 L233.0,898.42 L234.0,898.60 L235.0,898.42 L236.0,897.91 L237.0,897.13 L238.0,896.13 L239.0,894.95 L240.0,893.65 L241.0,892.28 L242.0,890.89 L243.0,889.54 L244.0,888.26 L245.0,887.12 L246.0,886.16 L247.0,885.35 L248.0,884.52 L249.0,883.66 L250.0,882.80 L251.0,881.94 L252.0,881.08 L253.0,880.24 L254.0,879.42 L255.0,878.64 L256.0,877.90 L257.0,877.20 L258.0,876.56 L259.0,875.99 L260.0,875.49 L261.0,875.08 L262.0,874.75 L263.0,874.53 L264.0,874.41 L265.0,874.42 L266.0,874.55 L267.0,874.81 L268.0,875.17 L269.0,875.62 L270.0,876.14 L271.0,876.73 L272.0,877.36 L273.0,878.02 L274.0,878.70 L275.0,879.38 L276.0,880.05 L277.0,880.70 L278.0,881.43 L279.0,882.29 L280.0,883.24 L281.0,884.28 L282.0,885.38 L283.0,886.52 L284.0,887.69 L285.0,888.87 L286.0,890.03 L287.0,891.17 L288.0,892.26 L289.0,893.28 L290.0,894.22 L291.0,895.05 L292.0,895.77 L293.0,896.34 L294.0,896.76 L295.0,897.00 L296.0,897.14 L297.0,897.25 L298.0,897.35 L299.0,897.44 L300.0,897.52 L301.0,897.58 L302.0,897.64 L303.0,897.70 L304.0,897.76 L305.0,897.82 L306.0,897.89 L307.0,897.96 L308.0,898.04 L309.0,898.14 L310.0,898.25 L311.0,898.39 L312.0,898.55 L313.0,898.74 L314.0,898.94 L315.0,899.17 L316.0,899.41 L317.0,899.66 L318.0,899.92 L319.0,900.19 L320.0,900.46 L321.0,900.73 L322.0,901.00 L323.0,901.26 L324.0,901.51 L325.0,901.76 L326.0,901.99 L327.0,902.20 L328.0,902.40 L329.0,902.57 L330.0,902.72 L331.0,902.84 L332.0,902.93 L333.0,902.98 L334.0,903.00 L335.0,903.00 L336.0,903.00 L337.0,903.00 L338.0,903.00 L339.0,903.00 L340.0,903.00 L341.0,903.00 L342.0,903.00 L343.0,903.00 L344.0,903.00 L345.0,903.00 L346.0,903.00 L347.0,903.00 L348.0,903.00 L349.0,903.00 L350.0,903.00 L351.0,903.00 L352.0,903.03 L353.0,903.12 L354.0,903.26 L355.0,903.44 L356.0,903.66 L357.0,903.89 L358.0,904.15 L359.0,904.40 L360.0,904.65 L361.0,904.89 L362.0,905.10 L363.0,905.28 L364.0,905.41 L365.0,905.48 L366.0,905.50 L367.0,905.43 L368.0,905.29 L369.0,905.10 L370.0,904.85 L371.0,904.57 L372.0,904.27 L373.0,903.95 L374.0,903.63 L375.0,903.33 L376.0,903.05 L377.0,902.80 L378.0,902.61 L379.0,902.47 L380.0,902.40 L381.0,902.40 L382.0,902.40 L383.0,902.40 L384.0,902.41 L385.0,902.42 L386.0,902.43 L387.0,902.46 L388.0,902.49 L389.0,902.52 L390.0,902.57 L391.0,902.63 L392.0,902.70 L393.0,902.79 L394.0,902.89 L395.0,903.00" fill="none" stroke="#6c1f79" stroke-width="1.45"/>
<path d="M66.0,932.17 L67.0,932.49 L68.0,932.78 L69.0,933.06 L70.0,933.31 L71.0,933.53 L72.0,933.72 L73.0,933.87 L74.0,933.99 L75.0,934.07 L76.0,934.10 L77.0,934.08 L78.0,934.01 L79.0,933.88 L80.0,933.72 L81.0,933.53 L82.0,933.31 L83.0,933.07 L84.0,932.82 L85.0,932.58 L86.0,932.34 L87.0,932.12 L88.0,931.92 L89.0,931.75 L90.0,931.61 L91.0,931.53 L92.0,931.50 L93.0,931.53 L94.0,931.61 L95.0,931.74 L96.0,931.91 L97.0,932.11 L98.0,932.33 L99.0,932.57 L100.0,932.81 L101.0,933.06 L102.0,933.29 L103.0,933.51 L104.0,933.71 L105.0,933.87 L106.0,934.00 L107.0,934.08 L108.0,934.10 L109.0,934.06 L110.0,933.96 L111.0,933.82 L112.0,933.62 L113.0,933.39 L114.0,933.12 L115.0,932.84 L116.0,932.53 L117.0,932.21 L118.0,931.89 L119.0,931.57 L120.0,931.26 L121.0,930.96 L122.0,930.69 L123.0,930.45 L124.0,930.24 L125.0,930.08 L126.0,929.96 L127.0,929.91 L128.0,929.91 L129.0,929.97 L130.0,930.08 L131.0,930.24 L132.0,930.43 L133.0,930.66 L134.0,930.91 L135.0,931.18 L136.0,931.47 L137.0,931.77 L138.0,932.08 L139.0,932.38 L140.0,932.67 L141.0,932.96 L142.0,933.22 L143.0,933.46 L144.0,933.67 L145.0,933.85 L146.0,933.98 L147.0,934.07 L148.0,934.10 L149.0,934.10 L150.0,934.09 L151.0,934.07 L152.0,934.04 L153.0,934.01 L154.0,933.97 L155.0,933.93 L156.0,933.88 L157.0,933.82 L158.0,933.75 L159.0,933.68 L160.0,933.60 L161.0,933.52 L162.0,933.42 L163.0,933.33 L164.0,933.22 L165.0,933.12 L166.0,933.00 L167.0,932.88 L168.0,932.75 L169.0,932.62 L170.0,932.49 L171.0,932.34 L172.0,932.16 L173.0,931.86 L174.0,931.43 L175.0,930.91 L176.0,930.30 L177.0,929.62 L178.0,928.90 L179.0,928.13 L180.0,927.35 L181.0,926.57 L182.0,925.80 L183.0,925.07 L184.0,924.37 L185.0,923.75 L186.0,923.20 L187.0,922.69 L188.0,922.15 L189.0,921.60 L190.0,921.04 L191.0,920.47 L192.0,919.91 L193.0,919.36 L194.0,918.82 L195.0,918.31 L196.0,917.82 L197.0,917.36 L198.0,916.95 L199.0,916.57 L200.0,916.25 L201.0,915.99 L202.0,915.79 L203.0,915.66 L204.0,915.60 L205.0,915.62 L206.0,915.71 L207.0,915.85 L208.0,916.06 L209.0,916.31 L210.0,916.60 L211.0,916.94 L212.0,917.31 L213.0,917.71 L214.0,918.13 L215.0,918.58 L216.0,919.04 L217.0,919.50 L218.0,919.97 L219.0,920.44 L220.0,920.90 L221.0,921.36 L222.0,921.79 L223.0,922.22 L224.0,922.70 L225.0,923.26 L226.0,923.86 L227.0,924.49 L228.0,925.15 L229.0,925.82 L230.0,926.49 L231.0,927.14 L232.0,927.76 L233.0,928.34 L234.0,928.87 L235.0,929.32 L236.0,929.70 L237.0,929.98 L238.0,930.15 L239.0,930.20 L240.0,930.10 L241.0,929.85 L242.0,929.45 L243.0,928.93 L244.0,928.28 L245.0,927.52 L246.0,926.66 L247.0,925.72 L248.0,924.70 L249.0,923.62 L250.0,922.49 L251.0,921.31 L252.0,920.11 L253.0,918.88 L254.0,917.65 L255.0,916.42 L256.0,915.20 L257.0,914.02 L258.0,912.87 L259.0,911.76 L260.0,910.72 L261.0,909.75 L262.0,908.87 L263.0,908.08 L264.0,907.39 L265.0,906.82 L266.0,906.38 L267.0,906.08 L268.0,905.83 L269.0,905.60 L270.0,905.38 L271.0,905.20 L272.0,905.05 L273.0,904.95 L274.0,904.90 L275.0,904.96 L276.0,905.21 L277.0,905.61 L278.0,906.14 L279.0,906.78 L280.0,907.51 L281.0,908.29 L282.0,909.10 L283.0,909.91 L284.0,910.71 L285.0,911.46 L286.0,912.20 L287.0,913.06 L288.0,914.02 L289.0,915.06 L290.0,916.15 L291.0,917.28 L292.0,918.42 L293.0,919.56 L294.0,920.68 L295.0,921.74 L296.0,922.74 L297.0,923.66 L298.0,924.46 L299.0,925.14 L300.0,925.67 L301.0,926.02 L302.0,926.19 L303.0,926.19 L304.0,926.14 L305.0,926.06 L306.0,925.94 L307.0,925.81 L308.0,925.66 L309.0,925.50 L310.0,925.33 L311.0,925.17 L312.0,925.02 L313.0,924.88 L314.0,924.76 L315.0,924.67 L316.0,924.62 L317.0,924.60 L318.0,924.66 L319.0,924.81 L320.0,925.05 L321.0,925.36 L322.0,925.73 L323.0,926.16 L324.0,926.64 L325.0,927.15 L326.0,927.69 L327.0,928.24 L328.0,928.81 L329.0,929.37 L330.0,929.92 L331.0,930.46 L332.0,930.96 L333.0,931.43 L334.0,931.85 L335.0,932.21 L336.0,932.51 L337.0,932.72 L338.0,932.86 L339.0,932.90 L340.0,932.86 L341.0,932.78 L342.0,932.64 L343.0,932.48 L344.0,932.28 L345.0,932.07 L346.0,931.85 L347.0,931.62 L348.0,931.40 L349.0,931.20 L350.0,931.02 L351.0,930.87 L352.0,930.76 L353.0,930.71 L354.0,930.71 L355.0,930.78 L356.0,930.91 L357.0,931.10 L358.0,931.32 L359.0,931.58 L360.0,931.87 L361.0,932.16 L362.0,932.47 L363.0,932.76 L364.0,933.04 L365.0,933.30 L366.0,933.52 L367.0,933.70 L368.0,933.83 L369.0,933.89 L370.0,933.88 L371.0,933.74 L372.0,933.51 L373.0,933.19 L374.0,932.81 L375.0,932.39 L376.0,931.94 L377.0,931.50 L378.0,931.07 L379.0,930.68 L380.0,930.35 L381.0,930.10 L382.0,929.94 L383.0,929.90 L384.0,929.90 L385.0,929.90 L386.0,929.90 L387.0,929.90 L388.0,929.90 L389.0,929.90 L390.0,929.90 L391.0,929.90 L392.0,929.90 L393.0,929.90 L394.0,929.90 L395.0,929.90" fill="none" stroke="#5c1c77" stroke-width="1.45"/>
<path d="M66.0,959.80 L67.0,960.04 L68.0,960.29 L69.0,960.53 L70.0,960.78 L71.0,961.02 L72.0,961.26 L73.0,961.49 L74.0,961.72 L75.0,961.94 L76.0,962.15 L77.0,962.34 L78.0,962.53 L79.0,962.69 L80.0,962.84 L81.0,962.98 L82.0,963.09 L83.0,963.18 L84.0,963.24 L85.0,963.29 L86.0,963.30 L87.0,963.30 L88.0,963.30 L89.0,963.30 L90.0,963.30 L91.0,963.29 L92.0,963.29 L93.0,963.29 L94.0,963.28 L95.0,963.28 L96.0,963.27 L97.0,963.26 L98.0,963.26 L99.0,963.25 L100.0,963.24 L101.0,963.23 L102.0,963.22 L103.0,963.21 L104.0,963.20 L105.0,963.19 L106.0,963.17 L107.0,963.16 L108.0,963.15 L109.0,963.13 L110.0,963.12 L111.0,963.10 L112.0,963.09 L113.0,963.07 L114.0,963.05 L115.0,963.03 L116.0,963.01 L117.0,962.99 L118.0,962.97 L119.0,962.95 L120.0,962.93 L121.0,962.91 L122.0,962.87 L123.0,962.77 L124.0,962.62 L125.0,962.43 L126.0,962.19 L127.0,961.91 L128.0,961.60 L129.0,961.27 L130.0,960.93 L131.0,960.56 L132.0,960.20 L133.0,959.83 L134.0,959.46 L135.0,959.11 L136.0,958.78 L137.0,958.46 L138.0,958.18 L139.0,957.93 L140.0,957.72 L141.0,957.56 L142.0,957.45 L143.0,957.40 L144.0,957.41 L145.0,957.48 L146.0,957.58 L147.0,957.73 L148.0,957.91 L149.0,958.11 L150.0,958.34 L151.0,958.58 L152.0,958.84 L153.0,959.09 L154.0,959.34 L155.0,959.58 L156.0,959.81 L157.0,960.01 L158.0,960.19 L159.0,960.33 L160.0,960.43 L161.0,960.49 L162.0,960.49 L163.0,960.36 L164.0,960.12 L165.0,959.77 L166.0,959.33 L167.0,958.83 L168.0,958.27 L169.0,957.68 L170.0,957.07 L171.0,956.46 L172.0,955.87 L173.0,955.31 L174.0,954.80 L175.0,954.28 L176.0,953.71 L177.0,953.09 L178.0,952.45 L179.0,951.78 L180.0,951.10 L181.0,950.40 L182.0,949.71 L183.0,949.02 L184.0,948.34 L185.0,947.69 L186.0,947.07 L187.0,946.48 L188.0,945.95 L189.0,945.46 L190.0,945.04 L191.0,944.68 L192.0,944.41 L193.0,944.21 L194.0,944.11 L195.0,944.11 L196.0,944.20 L197.0,944.37 L198.0,944.61 L199.0,944.92 L200.0,945.30 L201.0,945.73 L202.0,946.21 L203.0,946.74 L204.0,947.30 L205.0,947.90 L206.0,948.52 L207.0,949.15 L208.0,949.80 L209.0,950.46 L210.0,951.12 L211.0,951.77 L212.0,952.40 L213.0,953.02 L214.0,953.62 L215.0,954.18 L216.0,954.70 L217.0,955.21 L218.0,955.78 L219.0,956.40 L220.0,957.04 L221.0,957.66 L222.0,958.24 L223.0,958.75 L224.0,959.14 L225.0,959.41 L226.0,959.50 L227.0,959.44 L228.0,959.29 L229.0,959.05 L230.0,958.75 L231.0,958.41 L232.0,958.05 L233.0,957.69 L234.0,957.35 L235.0,957.05 L236.0,956.81 L237.0,956.66 L238.0,956.60 L239.0,956.69 L240.0,956.95 L241.0,957.34 L242.0,957.84 L243.0,958.41 L244.0,959.03 L245.0,959.67 L246.0,960.29 L247.0,960.86 L248.0,961.36 L249.0,961.75 L250.0,962.01 L251.0,962.10 L252.0,961.92 L253.0,961.42 L254.0,960.68 L255.0,959.75 L256.0,958.70 L257.0,957.61 L258.0,956.53 L259.0,955.53 L260.0,954.66 L261.0,953.77 L262.0,952.81 L263.0,951.80 L264.0,950.75 L265.0,949.67 L266.0,948.56 L267.0,947.45 L268.0,946.34 L269.0,945.23 L270.0,944.15 L271.0,943.10 L272.0,942.09 L273.0,941.14 L274.0,940.24 L275.0,939.42 L276.0,938.69 L277.0,938.05 L278.0,937.51 L279.0,937.09 L280.0,936.79 L281.0,936.63 L282.0,936.60 L283.0,936.65 L284.0,936.73 L285.0,936.85 L286.0,937.00 L287.0,937.17 L288.0,937.36 L289.0,937.57 L290.0,937.78 L291.0,938.04 L292.0,938.42 L293.0,938.90 L294.0,939.48 L295.0,940.13 L296.0,940.86 L297.0,941.64 L298.0,942.47 L299.0,943.33 L300.0,944.22 L301.0,945.12 L302.0,946.02 L303.0,946.90 L304.0,947.76 L305.0,948.59 L306.0,949.37 L307.0,950.09 L308.0,950.74 L309.0,951.30 L310.0,951.78 L311.0,952.15 L312.0,952.40 L313.0,952.58 L314.0,952.74 L315.0,952.89 L316.0,953.02 L317.0,953.14 L318.0,953.24 L319.0,953.34 L320.0,953.43 L321.0,953.52 L322.0,953.60 L323.0,953.69 L324.0,953.77 L325.0,953.85 L326.0,953.94 L327.0,954.03 L328.0,954.14 L329.0,954.25 L330.0,954.37 L331.0,954.51 L332.0,954.67 L333.0,954.86 L334.0,955.09 L335.0,955.34 L336.0,955.62 L337.0,955.91 L338.0,956.21 L339.0,956.51 L340.0,956.80 L341.0,957.08 L342.0,957.33 L343.0,957.56 L344.0,957.75 L345.0,957.89 L346.0,957.99 L347.0,958.04 L348.0,958.10 L349.0,958.15 L350.0,958.20 L351.0,958.25 L352.0,958.30 L353.0,958.35 L354.0,958.40 L355.0,958.44 L356.0,958.49 L357.0,958.53 L358.0,958.57 L359.0,958.61 L360.0,958.65 L361.0,958.69 L362.0,958.72 L363.0,958.76 L364.0,958.79 L365.0,958.83 L366.0,958.86 L367.0,958.89 L368.0,958.92 L369.0,958.95 L370.0,958.97 L371.0,959.00 L372.0,959.03 L373.0,959.05 L374.0,959.07 L375.0,959.09 L376.0,959.11 L377.0,959.13 L378.0,959.15 L379.0,959.17 L380.0,959.19 L381.0,959.20 L382.0,959.21 L383.0,959.23 L384.0,959.24 L385.0,959.25 L386.0,959.26 L387.0,959.27 L388.0,959.28 L389.0,959.28 L390.0,959.29 L391.0,959.29 L392.0,959.30 L393.0,959.30 L394.0,959.30 L395.0,959.30" fill="none" stroke="#4c1a72" stroke-width="1.45"/>
<path d="M66.0,990.31 L67.0,990.53 L68.0,990.73 L69.0,990.90 L70.0,991.05 L71.0,991.16 L72.0,991.24 L73.0,991.29 L74.0,991.30 L75.0,991.25 L76.0,991.13 L77.0,990.96 L78.0,990.74 L79.0,990.49 L80.0,990.21 L81.0,989.93 L82.0,989.64 L83.0,989.37 L84.0,989.11 L85.0,988.88 L86.0,988.70 L87.0,988.57 L88.0,988.51 L89.0,988.50 L90.0,988.53 L91.0,988.58 L92.0,988.65 L93.0,988.74 L94.0,988.84 L95.0,988.96 L96.0,989.08 L97.0,989.21 L98.0,989.35 L99.0,989.48 L100.0,989.62 L101.0,989.75 L102.0,989.88 L103.0,990.00 L104.0,990.11 L105.0,990.21 L106.0,990.28 L107.0,990.35 L108.0,990.38 L109.0,990.40 L110.0,990.38 L111.0,990.30 L112.0,990.17 L113.0,990.00 L114.0,989.80 L115.0,989.57 L116.0,989.31 L117.0,989.05 L118.0,988.77 L119.0,988.49 L120.0,988.22 L121.0,987.96 L122.0,987.71 L123.0,987.50 L124.0,987.31 L125.0,987.16 L126.0,987.06 L127.0,987.00 L128.0,987.01 L129.0,987.08 L130.0,987.21 L131.0,987.39 L132.0,987.61 L133.0,987.86 L134.0,988.13 L135.0,988.42 L136.0,988.71 L137.0,989.01 L138.0,989.30 L139.0,989.57 L140.0,989.82 L141.0,990.03 L142.0,990.20 L143.0,990.33 L144.0,990.39 L145.0,990.39 L146.0,990.27 L147.0,990.06 L148.0,989.75 L149.0,989.35 L150.0,988.88 L151.0,988.34 L152.0,987.75 L153.0,987.10 L154.0,986.42 L155.0,985.71 L156.0,984.97 L157.0,984.22 L158.0,983.48 L159.0,982.73 L160.0,982.01 L161.0,981.30 L162.0,980.63 L163.0,980.01 L164.0,979.43 L165.0,978.92 L166.0,978.48 L167.0,978.12 L168.0,977.84 L169.0,977.67 L170.0,977.60 L171.0,977.63 L172.0,977.72 L173.0,977.87 L174.0,978.09 L175.0,978.35 L176.0,978.66 L177.0,979.02 L178.0,979.42 L179.0,979.86 L180.0,980.33 L181.0,980.83 L182.0,981.36 L183.0,981.90 L184.0,982.46 L185.0,983.04 L186.0,983.62 L187.0,984.21 L188.0,984.80 L189.0,985.39 L190.0,985.96 L191.0,986.53 L192.0,987.08 L193.0,987.61 L194.0,988.12 L195.0,988.60 L196.0,989.05 L197.0,989.46 L198.0,989.83 L199.0,990.16 L200.0,990.44 L201.0,990.67 L202.0,990.84 L203.0,990.95 L204.0,991.00 L205.0,991.00 L206.0,991.00 L207.0,991.00 L208.0,991.00 L209.0,991.00 L210.0,991.00 L211.0,991.00 L212.0,991.00 L213.0,991.00 L214.0,991.00 L215.0,991.00 L216.0,991.00 L217.0,991.00 L218.0,991.00 L219.0,991.00 L220.0,991.00 L221.0,991.00 L222.0,991.00 L223.0,991.00 L224.0,991.00 L225.0,991.00 L226.0,991.00 L227.0,991.00 L228.0,991.00 L229.0,991.00 L230.0,991.00 L231.0,991.00 L232.0,991.00 L233.0,991.00 L234.0,991.00 L235.0,991.00 L236.0,991.00 L237.0,991.00 L238.0,991.00 L239.0,990.99 L240.0,990.99 L241.0,990.98 L242.0,990.98 L243.0,990.97 L244.0,990.97 L245.0,990.96 L246.0,990.95 L247.0,990.94 L248.0,990.93 L249.0,990.92 L250.0,990.91 L251.0,990.89 L252.0,990.88 L253.0,990.86 L254.0,990.85 L255.0,990.83 L256.0,990.81 L257.0,990.79 L258.0,990.77 L259.0,990.75 L260.0,990.72 L261.0,990.70 L262.0,990.67 L263.0,990.64 L264.0,990.62 L265.0,990.58 L266.0,990.48 L267.0,990.32 L268.0,990.12 L269.0,989.90 L270.0,989.62 L271.0,989.20 L272.0,988.62 L273.0,987.91 L274.0,987.09 L275.0,986.16 L276.0,985.15 L277.0,984.07 L278.0,982.93 L279.0,981.76 L280.0,980.56 L281.0,979.36 L282.0,978.17 L283.0,977.00 L284.0,975.88 L285.0,974.81 L286.0,973.82 L287.0,972.91 L288.0,972.12 L289.0,971.44 L290.0,970.80 L291.0,970.15 L292.0,969.49 L293.0,968.83 L294.0,968.18 L295.0,967.56 L296.0,966.97 L297.0,966.42 L298.0,965.92 L299.0,965.49 L300.0,965.12 L301.0,964.82 L302.0,964.62 L303.0,964.51 L304.0,964.51 L305.0,964.60 L306.0,964.76 L307.0,965.00 L308.0,965.31 L309.0,965.67 L310.0,966.07 L311.0,966.52 L312.0,967.01 L313.0,967.51 L314.0,968.04 L315.0,968.58 L316.0,969.12 L317.0,969.65 L318.0,970.30 L319.0,971.12 L320.0,972.08 L321.0,973.16 L322.0,974.33 L323.0,975.57 L324.0,976.84 L325.0,978.11 L326.0,979.37 L327.0,980.59 L328.0,981.73 L329.0,982.77 L330.0,983.68 L331.0,984.43 L332.0,985.01 L333.0,985.37 L334.0,985.50 L335.0,985.50 L336.0,985.49 L337.0,985.47 L338.0,985.45 L339.0,985.43 L340.0,985.40 L341.0,985.38 L342.0,985.35 L343.0,985.32 L344.0,985.29 L345.0,985.27 L346.0,985.25 L347.0,985.23 L348.0,985.21 L349.0,985.20 L350.0,985.20 L351.0,985.24 L352.0,985.33 L353.0,985.47 L354.0,985.65 L355.0,985.86 L356.0,986.10 L357.0,986.35 L358.0,986.60 L359.0,986.86 L360.0,987.10 L361.0,987.33 L362.0,987.53 L363.0,987.69 L364.0,987.81 L365.0,987.88 L366.0,987.90 L367.0,987.87 L368.0,987.81 L369.0,987.72 L370.0,987.61 L371.0,987.48 L372.0,987.34 L373.0,987.20 L374.0,987.06 L375.0,986.92 L376.0,986.79 L377.0,986.68 L378.0,986.59 L379.0,986.53 L380.0,986.50 L381.0,986.51 L382.0,986.57 L383.0,986.67 L384.0,986.81 L385.0,986.98 L386.0,987.20 L387.0,987.45 L388.0,987.73 L389.0,988.04 L390.0,988.38 L391.0,988.74 L392.0,989.13 L393.0,989.54 L394.0,989.96 L395.0,990.40" fill="none" stroke="#3b1768" stroke-width="1.45"/>
<path d="M66.0,1019.00 L67.0,1019.00 L68.0,1019.00 L69.0,1018.99 L70.0,1018.99 L71.0,1018.98 L72.0,1018.97 L73.0,1018.96 L74.0,1018.94 L75.0,1018.93 L76.0,1018.91 L77.0,1018.89 L78.0,1018.87 L79.0,1018.85 L80.0,1018.83 L81.0,1018.81 L82.0,1018.78 L83.0,1018.75 L84.0,1018.72 L85.0,1018.69 L86.0,1018.66 L87.0,1018.63 L88.0,1018.60 L89.0,1018.56 L90.0,1018.53 L91.0,1018.49 L92.0,1018.45 L93.0,1018.41 L94.0,1018.37 L95.0,1018.33 L96.0,1018.29 L97.0,1018.25 L98.0,1018.20 L99.0,1018.16 L100.0,1018.11 L101.0,1018.07 L102.0,1018.02 L103.0,1017.98 L104.0,1017.93 L105.0,1017.88 L106.0,1017.83 L107.0,1017.78 L108.0,1017.72 L109.0,1017.65 L110.0,1017.56 L111.0,1017.46 L112.0,1017.35 L113.0,1017.23 L114.0,1017.10 L115.0,1016.96 L116.0,1016.82 L117.0,1016.66 L118.0,1016.51 L119.0,1016.34 L120.0,1016.18 L121.0,1016.01 L122.0,1015.84 L123.0,1015.67 L124.0,1015.50 L125.0,1015.33 L126.0,1015.16 L127.0,1014.99 L128.0,1014.83 L129.0,1014.67 L130.0,1014.52 L131.0,1014.38 L132.0,1014.24 L133.0,1014.11 L134.0,1013.99 L135.0,1013.89 L136.0,1013.79 L137.0,1013.70 L138.0,1013.63 L139.0,1013.58 L140.0,1013.53 L141.0,1013.51 L142.0,1013.50 L143.0,1013.50 L144.0,1013.51 L145.0,1013.53 L146.0,1013.56 L147.0,1013.59 L148.0,1013.62 L149.0,1013.66 L150.0,1013.71 L151.0,1013.76 L152.0,1013.81 L153.0,1013.87 L154.0,1013.93 L155.0,1013.99 L156.0,1014.05 L157.0,1014.12 L158.0,1014.22 L159.0,1014.35 L160.0,1014.51 L161.0,1014.71 L162.0,1014.93 L163.0,1015.16 L164.0,1015.42 L165.0,1015.69 L166.0,1015.98 L167.0,1016.26 L168.0,1016.56 L169.0,1016.85 L170.0,1017.14 L171.0,1017.43 L172.0,1017.70 L173.0,1017.96 L174.0,1018.20 L175.0,1018.43 L176.0,1018.62 L177.0,1018.79 L178.0,1018.93 L179.0,1019.04 L180.0,1019.14 L181.0,1019.24 L182.0,1019.34 L183.0,1019.43 L184.0,1019.53 L185.0,1019.62 L186.0,1019.71 L187.0,1019.80 L188.0,1019.89 L189.0,1019.97 L190.0,1020.05 L191.0,1020.13 L192.0,1020.21 L193.0,1020.29 L194.0,1020.36 L195.0,1020.43 L196.0,1020.50 L197.0,1020.56 L198.0,1020.63 L199.0,1020.68 L200.0,1020.74 L201.0,1020.79 L202.0,1020.84 L203.0,1020.88 L204.0,1020.92 L205.0,1020.96 L206.0,1020.99 L207.0,1021.02 L208.0,1021.05 L209.0,1021.07 L210.0,1021.08 L211.0,1021.09 L212.0,1021.10 L213.0,1021.10 L214.0,1021.07 L215.0,1021.01 L216.0,1020.92 L217.0,1020.80 L218.0,1020.66 L219.0,1020.50 L220.0,1020.32 L221.0,1020.13 L222.0,1019.94 L223.0,1019.73 L224.0,1019.53 L225.0,1019.32 L226.0,1019.13 L227.0,1018.94 L228.0,1018.77 L229.0,1018.61 L230.0,1018.47 L231.0,1018.36 L232.0,1018.27 L233.0,1018.22 L234.0,1018.20 L235.0,1018.21 L236.0,1018.22 L237.0,1018.25 L238.0,1018.29 L239.0,1018.34 L240.0,1018.40 L241.0,1018.47 L242.0,1018.54 L243.0,1018.62 L244.0,1018.70 L245.0,1018.79 L246.0,1018.89 L247.0,1018.98 L248.0,1019.08 L249.0,1019.18 L250.0,1019.27 L251.0,1019.37 L252.0,1019.47 L253.0,1019.56 L254.0,1019.65 L255.0,1019.74 L256.0,1019.82 L257.0,1019.90 L258.0,1019.97 L259.0,1020.03 L260.0,1020.08 L261.0,1020.13 L262.0,1020.16 L263.0,1020.19 L264.0,1020.20 L265.0,1020.19 L266.0,1020.15 L267.0,1020.08 L268.0,1019.97 L269.0,1019.85 L270.0,1019.70 L271.0,1019.54 L272.0,1019.37 L273.0,1019.20 L274.0,1019.03 L275.0,1018.87 L276.0,1018.73 L277.0,1018.60 L278.0,1018.50 L279.0,1018.43 L280.0,1018.40 L281.0,1018.42 L282.0,1018.50 L283.0,1018.63 L284.0,1018.80 L285.0,1019.00 L286.0,1019.21 L287.0,1019.43 L288.0,1019.65 L289.0,1019.84 L290.0,1020.00 L291.0,1020.13 L292.0,1020.19 L293.0,1020.18 L294.0,1020.01 L295.0,1019.70 L296.0,1019.26 L297.0,1018.71 L298.0,1018.07 L299.0,1017.35 L300.0,1016.58 L301.0,1015.78 L302.0,1014.95 L303.0,1014.13 L304.0,1013.33 L305.0,1012.56 L306.0,1011.85 L307.0,1011.22 L308.0,1010.63 L309.0,1010.02 L310.0,1009.38 L311.0,1008.73 L312.0,1008.05 L313.0,1007.37 L314.0,1006.67 L315.0,1005.97 L316.0,1005.27 L317.0,1004.58 L318.0,1003.89 L319.0,1003.22 L320.0,1002.57 L321.0,1001.94 L322.0,1001.34 L323.0,1000.76 L324.0,1000.23 L325.0,999.73 L326.0,999.28 L327.0,998.87 L328.0,998.52 L329.0,998.22 L330.0,997.99 L331.0,997.82 L332.0,997.72 L333.0,997.70 L334.0,997.76 L335.0,997.89 L336.0,998.08 L337.0,998.35 L338.0,998.67 L339.0,999.05 L340.0,999.48 L341.0,999.96 L342.0,1000.47 L343.0,1001.03 L344.0,1001.61 L345.0,1002.23 L346.0,1002.86 L347.0,1003.52 L348.0,1004.19 L349.0,1004.86 L350.0,1005.54 L351.0,1006.22 L352.0,1006.90 L353.0,1007.56 L354.0,1008.21 L355.0,1008.84 L356.0,1009.44 L357.0,1010.02 L358.0,1010.56 L359.0,1011.07 L360.0,1011.53 L361.0,1011.94 L362.0,1012.30 L363.0,1012.64 L364.0,1012.98 L365.0,1013.33 L366.0,1013.68 L367.0,1014.03 L368.0,1014.38 L369.0,1014.72 L370.0,1015.06 L371.0,1015.40 L372.0,1015.72 L373.0,1016.03 L374.0,1016.33 L375.0,1016.62 L376.0,1016.89 L377.0,1017.13 L378.0,1017.36 L379.0,1017.57 L380.0,1017.74 L381.0,1017.90 L382.0,1018.02 L383.0,1018.11 L384.0,1018.17 L385.0,1018.20 L386.0,1018.19 L387.0,1018.17 L388.0,1018.12 L389.0,1018.05 L390.0,1017.96 L391.0,1017.86 L392.0,1017.72 L393.0,1017.57 L394.0,1017.40 L395.0,1017.20" fill="none" stroke="#2a145a" stroke-width="1.45"/>
<path d="M66.0,1047.19 L67.0,1046.97 L68.0,1046.76 L69.0,1046.56 L70.0,1046.38 L71.0,1046.22 L72.0,1046.07 L73.0,1045.94 L74.0,1045.82 L75.0,1045.72 L76.0,1045.64 L77.0,1045.58 L78.0,1045.53 L79.0,1045.51 L80.0,1045.50 L81.0,1045.53 L82.0,1045.59 L83.0,1045.69 L84.0,1045.82 L85.0,1045.97 L86.0,1046.15 L87.0,1046.34 L88.0,1046.55 L89.0,1046.76 L90.0,1046.98 L91.0,1047.19 L92.0,1047.40 L93.0,1047.59 L94.0,1047.77 L95.0,1047.94 L96.0,1048.07 L97.0,1048.18 L98.0,1048.26 L99.0,1048.30 L100.0,1048.29 L101.0,1048.24 L102.0,1048.15 L103.0,1048.02 L104.0,1047.85 L105.0,1047.65 L106.0,1047.41 L107.0,1047.15 L108.0,1046.86 L109.0,1046.55 L110.0,1046.22 L111.0,1045.88 L112.0,1045.51 L113.0,1045.14 L114.0,1044.76 L115.0,1044.38 L116.0,1043.99 L117.0,1043.61 L118.0,1043.22 L119.0,1042.84 L120.0,1042.48 L121.0,1042.12 L122.0,1041.78 L123.0,1041.45 L124.0,1041.15 L125.0,1040.87 L126.0,1040.62 L127.0,1040.39 L128.0,1040.20 L129.0,1040.04 L130.0,1039.92 L131.0,1039.84 L132.0,1039.80 L133.0,1039.80 L134.0,1039.83 L135.0,1039.87 L136.0,1039.92 L137.0,1040.00 L138.0,1040.08 L139.0,1040.18 L140.0,1040.29 L141.0,1040.40 L142.0,1040.53 L143.0,1040.66 L144.0,1040.80 L145.0,1040.95 L146.0,1041.09 L147.0,1041.24 L148.0,1041.39 L149.0,1041.54 L150.0,1041.70 L151.0,1041.88 L152.0,1042.10 L153.0,1042.36 L154.0,1042.64 L155.0,1042.94 L156.0,1043.26 L157.0,1043.60 L158.0,1043.96 L159.0,1044.32 L160.0,1044.69 L161.0,1045.07 L162.0,1045.44 L163.0,1045.82 L164.0,1046.18 L165.0,1046.54 L166.0,1046.89 L167.0,1047.21 L168.0,1047.52 L169.0,1047.81 L170.0,1048.07 L171.0,1048.30 L172.0,1048.50 L173.0,1048.66 L174.0,1048.78 L175.0,1048.86 L176.0,1048.90 L177.0,1048.89 L178.0,1048.86 L179.0,1048.81 L180.0,1048.75 L181.0,1048.66 L182.0,1048.56 L183.0,1048.44 L184.0,1048.31 L185.0,1048.17 L186.0,1048.01 L187.0,1047.85 L188.0,1047.68 L189.0,1047.51 L190.0,1047.33 L191.0,1047.14 L192.0,1046.96 L193.0,1046.77 L194.0,1046.59 L195.0,1046.41 L196.0,1046.24 L197.0,1046.07 L198.0,1045.90 L199.0,1045.75 L200.0,1045.61 L201.0,1045.47 L202.0,1045.36 L203.0,1045.25 L204.0,1045.16 L205.0,1045.09 L206.0,1045.04 L207.0,1045.01 L208.0,1045.00 L209.0,1045.02 L210.0,1045.08 L211.0,1045.16 L212.0,1045.27 L213.0,1045.41 L214.0,1045.57 L215.0,1045.75 L216.0,1045.94 L217.0,1046.15 L218.0,1046.37 L219.0,1046.59 L220.0,1046.83 L221.0,1047.06 L222.0,1047.30 L223.0,1047.53 L224.0,1047.76 L225.0,1047.97 L226.0,1048.18 L227.0,1048.37 L228.0,1048.55 L229.0,1048.71 L230.0,1048.84 L231.0,1048.95 L232.0,1049.03 L233.0,1049.08 L234.0,1049.10 L235.0,1049.10 L236.0,1049.08 L237.0,1049.06 L238.0,1049.04 L239.0,1049.00 L240.0,1048.96 L241.0,1048.92 L242.0,1048.87 L243.0,1048.81 L244.0,1048.75 L245.0,1048.68 L246.0,1048.61 L247.0,1048.53 L248.0,1048.45 L249.0,1048.37 L250.0,1048.28 L251.0,1048.19 L252.0,1048.10 L253.0,1048.00 L254.0,1047.90 L255.0,1047.81 L256.0,1047.71 L257.0,1047.61 L258.0,1047.50 L259.0,1047.40 L260.0,1047.30 L261.0,1047.20 L262.0,1047.10 L263.0,1046.99 L264.0,1046.86 L265.0,1046.72 L266.0,1046.55 L267.0,1046.38 L268.0,1046.19 L269.0,1045.99 L270.0,1045.78 L271.0,1045.57 L272.0,1045.34 L273.0,1045.12 L274.0,1044.89 L275.0,1044.66 L276.0,1044.43 L277.0,1044.21 L278.0,1043.98 L279.0,1043.77 L280.0,1043.56 L281.0,1043.36 L282.0,1043.17 L283.0,1042.99 L284.0,1042.82 L285.0,1042.68 L286.0,1042.54 L287.0,1042.43 L288.0,1042.34 L289.0,1042.27 L290.0,1042.22 L291.0,1042.20 L292.0,1042.21 L293.0,1042.25 L294.0,1042.32 L295.0,1042.42 L296.0,1042.54 L297.0,1042.68 L298.0,1042.84 L299.0,1043.01 L300.0,1043.19 L301.0,1043.38 L302.0,1043.64 L303.0,1044.05 L304.0,1044.57 L305.0,1045.18 L306.0,1045.83 L307.0,1046.49 L308.0,1047.14 L309.0,1047.73 L310.0,1048.24 L311.0,1048.62 L312.0,1048.85 L313.0,1048.89 L314.0,1048.71 L315.0,1048.34 L316.0,1047.78 L317.0,1047.05 L318.0,1046.19 L319.0,1045.20 L320.0,1044.11 L321.0,1042.94 L322.0,1041.70 L323.0,1040.43 L324.0,1039.13 L325.0,1037.82 L326.0,1036.54 L327.0,1035.29 L328.0,1034.10 L329.0,1032.99 L330.0,1031.97 L331.0,1031.07 L332.0,1030.30 L333.0,1029.52 L334.0,1028.71 L335.0,1027.88 L336.0,1027.05 L337.0,1026.23 L338.0,1025.42 L339.0,1024.65 L340.0,1023.91 L341.0,1023.23 L342.0,1022.62 L343.0,1022.08 L344.0,1021.63 L345.0,1021.27 L346.0,1021.03 L347.0,1020.91 L348.0,1020.92 L349.0,1021.02 L350.0,1021.20 L351.0,1021.46 L352.0,1021.78 L353.0,1022.17 L354.0,1022.60 L355.0,1023.08 L356.0,1023.60 L357.0,1024.14 L358.0,1024.70 L359.0,1025.28 L360.0,1025.86 L361.0,1026.44 L362.0,1027.00 L363.0,1027.62 L364.0,1028.36 L365.0,1029.20 L366.0,1030.11 L367.0,1031.09 L368.0,1032.11 L369.0,1033.15 L370.0,1034.20 L371.0,1035.23 L372.0,1036.22 L373.0,1037.17 L374.0,1038.04 L375.0,1038.82 L376.0,1039.49 L377.0,1040.04 L378.0,1040.43 L379.0,1040.77 L380.0,1041.08 L381.0,1041.37 L382.0,1041.59 L383.0,1041.75 L384.0,1041.80 L385.0,1041.80 L386.0,1041.80 L387.0,1041.78 L388.0,1041.76 L389.0,1041.72 L390.0,1041.67 L391.0,1041.59 L392.0,1041.49 L393.0,1041.36 L394.0,1041.20 L395.0,1041.00" fill="none" stroke="#1b1047" stroke-width="1.45"/>
<text x="67.23" y="556.70" font-size="26.07" font-weight="normal" fill="#f7901e" textLength="70.75" lengthAdjust="spacingAndGlyphs" id="t23">340 K</text>
<text x="67.22" y="584.50" font-size="26.07" font-weight="normal" fill="#f3811f" textLength="70.75" lengthAdjust="spacingAndGlyphs" id="t24">320 K</text>
<text x="67.22" y="613.60" font-size="26.07" font-weight="normal" fill="#ef7322" textLength="70.72" lengthAdjust="spacingAndGlyphs" id="t25">300 K</text>
<text x="67.15" y="641.80" font-size="26.07" font-weight="normal" fill="#ea6426" textLength="70.78" lengthAdjust="spacingAndGlyphs" id="t26">280 K</text>
<text x="67.14" y="669.40" font-size="26.07" font-weight="normal" fill="#e4552c" textLength="70.81" lengthAdjust="spacingAndGlyphs" id="t27">260 K</text>
<text x="67.13" y="699.70" font-size="26.07" font-weight="normal" fill="#dc4834" textLength="70.80" lengthAdjust="spacingAndGlyphs" id="t28">240 K</text>
<text x="67.10" y="729.60" font-size="26.07" font-weight="normal" fill="#c83c47" textLength="70.80" lengthAdjust="spacingAndGlyphs" id="t29">220 K</text>
<text x="67.08" y="755.40" font-size="26.07" font-weight="normal" fill="#bb3552" textLength="70.80" lengthAdjust="spacingAndGlyphs" id="t30">210 K</text>
<text x="67.06" y="785.80" font-size="26.07" font-weight="normal" fill="#a8305f" textLength="70.79" lengthAdjust="spacingAndGlyphs" id="t31">200 K</text>
<text x="68.04" y="812.70" font-size="26.07" font-weight="normal" fill="#9c2a68" textLength="69.63" lengthAdjust="spacingAndGlyphs" id="t32">190 K</text>
<text x="68.02" y="842.60" font-size="26.07" font-weight="normal" fill="#8a2471" textLength="69.63" lengthAdjust="spacingAndGlyphs" id="t33">180 K</text>
<text x="68.00" y="872.00" font-size="26.07" font-weight="normal" fill="#7b2176" textLength="69.64" lengthAdjust="spacingAndGlyphs" id="t34">170 K</text>
<text x="67.98" y="900.30" font-size="26.07" font-weight="normal" fill="#6c1f79" textLength="69.64" lengthAdjust="spacingAndGlyphs" id="t35">160 K</text>
<text x="67.98" y="927.00" font-size="26.07" font-weight="normal" fill="#5c1c77" textLength="69.64" lengthAdjust="spacingAndGlyphs" id="t36">150 K</text>
<text x="67.97" y="954.60" font-size="26.07" font-weight="normal" fill="#4c1a72" textLength="69.64" lengthAdjust="spacingAndGlyphs" id="t37">140 K</text>
<text x="67.96" y="983.50" font-size="26.07" font-weight="normal" fill="#3b1768" textLength="69.66" lengthAdjust="spacingAndGlyphs" id="t38">120 K</text>
<text x="67.86" y="1011.90" font-size="26.07" font-weight="normal" fill="#2a145a" textLength="69.77" lengthAdjust="spacingAndGlyphs" id="t39">110 K</text>
<text x="67.97" y="1039.60" font-size="26.07" font-weight="normal" fill="#1b1047" textLength="69.66" lengthAdjust="spacingAndGlyphs" id="t40">100 K</text>
<path d="M132.38,1042.80 L134.27,1040.29 L136.13,1037.78 L137.97,1035.27 L139.79,1032.76 L141.59,1030.25 L143.36,1027.75 L145.11,1025.24 L146.84,1022.73 L148.54,1020.22 L150.23,1017.71 L151.89,1015.20 L153.53,1012.69 L155.14,1010.18 L156.74,1007.67 L158.31,1005.16 L159.87,1002.66 L161.40,1000.15 L162.91,997.64 L164.40,995.13 L165.87,992.62 L167.32,990.11 L168.75,987.60 L170.16,985.09 L171.55,982.58 L172.91,980.07 L174.26,977.56 L175.59,975.06 L176.90,972.55 L178.19,970.04 L179.47,967.53 L180.72,965.02 L181.95,962.51 L183.17,960.00 L184.37,957.49 L185.54,954.98 L186.70,952.47 L187.85,949.97 L188.97,947.46 L190.08,944.95 L191.17,942.44 L192.24,939.93 L193.30,937.42 L194.33,934.91 L195.35,932.40 L196.36,929.89 L197.34,927.38 L198.32,924.87 L199.27,922.37 L200.21,919.86 L201.13,917.35 L202.04,914.84 L202.93,912.33 L203.80,909.82 L204.66,907.31 L205.51,904.80 L206.34,902.29 L207.15,899.78 L207.95,897.28 L208.74,894.77 L209.51,892.26 L210.26,889.75 L211.01,887.24 L211.74,884.73 L212.45,882.22 L213.15,879.71 L213.84,877.20 L214.51,874.69 L215.17,872.18 L215.82,869.68 L216.45,867.17 L217.08,864.66 L217.68,862.15 L218.28,859.64 L218.87,857.13 L219.44,854.62 L220.00,852.11 L220.55,849.60 L221.08,847.09 L221.61,844.59 L222.12,842.08 L222.62,839.57 L223.12,837.06 L223.60,834.55 L224.07,832.04 L224.52,829.53 L224.97,827.02 L225.41,824.51 L225.84,822.00 L226.26,819.49 L226.67,816.99 L227.06,814.48 L227.45,811.97 L227.83,809.46 L228.20,806.95 L228.56,804.44 L228.92,801.93 L229.26,799.42 L229.60,796.91 L229.92,794.40 L230.24,791.90 L230.55,789.39 L230.85,786.88 L231.15,784.37 L231.43,781.86 L231.71,779.35 L231.98,776.84 L232.25,774.33 L232.51,771.82 L232.76,769.31 L233.00,766.81 L233.24,764.30 L233.47,761.79 L233.69,759.28 L233.91,756.77 L234.12,754.26 L234.33,751.75 L234.53,749.24 L234.72,746.73 L234.91,744.22 L235.10,741.71 L235.27,739.21 L235.45,736.70 L235.62,734.19 L235.78,731.68 L235.94,729.17 L236.10,726.66 L236.25,724.15 L236.40,721.64 L236.54,719.13 L236.68,716.62 L236.82,714.12 L236.95,711.61 L237.08,709.10 L237.21,706.59 L237.34,704.08 L237.46,701.57 L237.58,699.06 L237.69,696.55 L237.81,694.04 L237.92,691.53 L238.03,689.02 L238.14,686.52 L238.24,684.01 L238.35,681.50 L238.45,678.99 L238.55,676.48 L238.66,673.97 L238.76,671.46 L238.85,668.95 L238.95,666.44 L239.05,663.93 L239.15,661.43 L239.25,658.92 L239.35,656.41 L239.44,653.90 L239.54,651.39 L239.64,648.88 L239.74,646.37 L239.84,643.86 L239.94,641.35 L240.04,638.84 L240.15,636.33 L240.25,633.83 L240.36,631.32 L240.47,628.81 L240.58,626.30 L240.69,623.79 L240.80,621.28 L240.92,618.77 L241.04,616.26 L241.16,613.75 L241.28,611.24 L241.41,608.74 L241.54,606.23 L241.68,603.72 L241.81,601.21 L241.95,598.70 L242.10,596.19 L242.25,593.68 L242.40,591.17 L242.55,588.66 L242.71,586.15 L242.88,583.64 L243.05,581.14 L243.22,578.63 L243.40,576.12 L243.59,573.61 L243.78,571.10 L243.97,568.59 L244.17,566.08 L244.38,563.57 L244.59,561.06 L244.81,558.55 L245.03,556.05 L245.26,553.54 L245.50,551.03 L245.74,548.52 L245.99,546.01 L246.25,543.50" fill="none" stroke="#e5792f" stroke-width="2" stroke-dasharray="11 5.5"/>
<path d="M165.37,556.70 L166.87,559.04 L168.33,561.38 L169.77,563.72 L171.17,566.05 L172.53,568.39 L173.87,570.73 L175.18,573.07 L176.46,575.41 L177.71,577.75 L178.93,580.09 L180.12,582.43 L181.28,584.76 L182.42,587.10 L183.54,589.44 L184.62,591.78 L185.69,594.12 L186.73,596.46 L187.74,598.80 L188.73,601.14 L189.70,603.47 L190.65,605.81 L191.58,608.15 L192.49,610.49 L193.38,612.83 L194.25,615.17 L195.10,617.51 L195.93,619.84 L196.75,622.18 L197.55,624.52 L198.34,626.86 L199.11,629.20 L199.86,631.54 L200.60,633.88 L201.33,636.22 L202.05,638.55 L202.75,640.89 L203.44,643.23 L204.12,645.57 L204.79,647.91 L205.46,650.25 L206.11,652.59 L206.75,654.93 L207.39,657.26 L208.02,659.60 L208.65,661.94 L209.27,664.28 L209.88,666.62 L210.49,668.96 L211.09,671.30 L211.70,673.63 L212.30,675.97 L212.90,678.31 L213.49,680.65 L214.09,682.99 L214.69,685.33 L215.28,687.67 L215.88,690.01 L216.48,692.34 L217.09,694.68 L217.69,697.02 L218.30,699.36 L218.92,701.70 L219.54,704.04 L220.16,706.38 L220.78,708.72 L221.41,711.05 L222.04,713.39 L222.68,715.73 L223.31,718.07 L223.95,720.41 L224.59,722.75 L225.23,725.09 L225.87,727.42 L226.51,729.76 L227.15,732.10 L227.80,734.44 L228.44,736.78 L229.08,739.12 L229.72,741.46 L230.36,743.80 L231.00,746.13 L231.63,748.47 L232.27,750.81 L232.90,753.15 L233.53,755.49 L234.15,757.83 L234.77,760.17 L235.39,762.51 L236.01,764.84 L236.62,767.18 L237.23,769.52 L237.83,771.86 L238.42,774.20 L239.02,776.54 L239.60,778.88 L240.18,781.21 L240.75,783.55 L241.32,785.89 L241.88,788.23 L242.44,790.57 L242.99,792.91 L243.53,795.25 L244.07,797.59 L244.60,799.92 L245.13,802.26 L245.66,804.60 L246.18,806.94 L246.70,809.28 L247.22,811.62 L247.74,813.96 L248.26,816.29 L248.77,818.63 L249.29,820.97 L249.80,823.31 L250.32,825.65 L250.84,827.99 L251.35,830.33 L251.87,832.67 L252.40,835.00 L252.92,837.34 L253.45,839.68 L253.98,842.02 L254.52,844.36 L255.06,846.70 L255.61,849.04 L256.16,851.38 L256.72,853.71 L257.28,856.05 L257.86,858.39 L258.44,860.73 L259.02,863.07 L259.62,865.41 L260.22,867.75 L260.83,870.08 L261.46,872.42 L262.09,874.76 L262.73,877.10 L263.39,879.44 L264.05,881.78 L264.73,884.12 L265.42,886.46 L266.12,888.79 L266.84,891.13 L267.57,893.47 L268.31,895.81 L269.07,898.15 L269.84,900.49 L270.63,902.83 L271.43,905.17 L272.25,907.50 L273.09,909.84 L273.95,912.18 L274.82,914.52 L275.71,916.86 L276.62,919.20 L277.55,921.54 L278.49,923.87 L279.46,926.21 L280.45,928.55 L281.46,930.89 L282.49,933.23 L283.54,935.57 L284.62,937.91 L285.71,940.25 L286.83,942.58 L287.98,944.92 L289.15,947.26 L290.34,949.60 L291.56,951.94 L292.80,954.28 L294.07,956.62 L295.36,958.96 L296.68,961.29 L298.03,963.63 L299.41,965.97 L300.81,968.31 L302.24,970.65 L303.71,972.99 L305.20,975.33 L306.72,977.66 L308.27,980.00 L309.85,982.34 L311.47,984.68 L313.11,987.02 L314.79,989.36 L316.50,991.70 L318.24,994.04 L320.02,996.37 L321.83,998.71 L323.67,1001.05 L325.55,1003.39 L327.47,1005.73 L329.42,1008.07 L331.40,1010.41 L333.43,1012.75 L335.49,1015.08 L337.59,1017.42 L339.72,1019.76 L341.90,1022.10" fill="none" stroke="#b5302a" stroke-width="2" stroke-dasharray="12.5 4.5"/>
<circle cx="233.2" cy="757.6" r="9.6" fill="none" stroke="#b5302a" stroke-width="1.4"/>
<text x="304.19" y="786.20" font-size="25.79" font-weight="normal" fill="#8f2a6c" textLength="57.54" lengthAdjust="spacingAndGlyphs" id="t41">x 0.5</text>
<text x="68.73" y="1066.60" font-size="20.49" font-weight="normal" fill="#e5792f" textLength="162.44" lengthAdjust="spacingAndGlyphs" id="t42">Downconversion</text>
<text x="329.14" y="1066.60" font-size="20.49" font-weight="normal" fill="#c0392b" textLength="44.00" lengthAdjust="spacingAndGlyphs" id="t43">DFG</text>
<path d="M696.65,524.5 v6 M696.65,1078.5 v-6" stroke="#4a4a4d" stroke-width="1.4"/>
<path d="M828.80,524.5 v6 M828.80,1078.5 v-6" stroke="#4a4a4d" stroke-width="1.4"/>
<path d="M564.5,893.83 h6 M894.1,893.83 h-6" stroke="#4a4a4d" stroke-width="1.4"/>
<path d="M564.5,709.16 h6 M894.1,709.16 h-6" stroke="#4a4a4d" stroke-width="1.4"/>
<text x="514.39" y="532.80" font-size="31.38" font-weight="normal" fill="#48484b" textLength="40.52" lengthAdjust="spacingAndGlyphs" id="t44">1.2</text>
<text x="512.45" y="719.00" font-size="31.09" font-weight="normal" fill="#48484b" textLength="44.48" lengthAdjust="spacingAndGlyphs" id="t45">0.8</text>
<text x="512.45" y="905.40" font-size="31.09" font-weight="normal" fill="#48484b" textLength="44.05" lengthAdjust="spacingAndGlyphs" id="t46">0.4</text>
<text x="531.17" y="1085.70" font-size="28.37" font-weight="normal" fill="#48484b" textLength="17.20" lengthAdjust="spacingAndGlyphs" id="t47">0</text>
<text x="537.04" y="1114.70" font-size="29.37" font-weight="normal" fill="#48484b" textLength="53.99" lengthAdjust="spacingAndGlyphs" id="t48">100</text>
<text x="669.87" y="1114.70" font-size="29.37" font-weight="normal" fill="#48484b" textLength="53.30" lengthAdjust="spacingAndGlyphs" id="t49">200</text>
<text x="802.10" y="1114.70" font-size="29.37" font-weight="normal" fill="#48484b" textLength="53.34" lengthAdjust="spacingAndGlyphs" id="t50">300</text>
<text x="615.44" y="1154.50" font-size="30.67" font-weight="normal" fill="#48484b" textLength="229.57" lengthAdjust="spacingAndGlyphs" id="t51">Temperature (K)</text>
<text id="t52" x="0" y="0" transform="translate(502.80,909.17) rotate(-90)" font-size="31.98" font-weight="normal" fill="#48484b" textLength="216.14" lengthAdjust="spacingAndGlyphs">Amplitude (a.u.)</text>
<path d="M565,925.6 H893.5" stroke="#b73a2e" stroke-width="1.8" stroke-dasharray="11.5 5.3"/>
<path d="M564.50,994.80 L577.72,1012.30 L590.93,997.90 L617.36,963.60 L630.58,963.20 L643.79,925.70 L657.00,943.70 L670.22,883.20 L683.43,831.70 L696.65,585.10 L709.87,861.00 L723.08,897.70 L749.51,995.70 L775.94,971.50 L802.37,989.00 L828.80,973.90 L855.23,939.40 L881.66,969.70" fill="none" stroke="#e8803a" stroke-width="2.2" stroke-linejoin="round"/>
<circle cx="564.50" cy="994.80" r="12.4" fill="#f8cba6" stroke="#e8823a" stroke-width="1.1"/>
<circle cx="577.72" cy="1012.30" r="12.4" fill="#f8cba6" stroke="#e8823a" stroke-width="1.1"/>
<circle cx="590.93" cy="997.90" r="12.4" fill="#f8cba6" stroke="#e8823a" stroke-width="1.1"/>
<circle cx="617.36" cy="963.60" r="12.4" fill="#f8cba6" stroke="#e8823a" stroke-width="1.1"/>
<circle cx="630.58" cy="963.20" r="12.4" fill="#f8cba6" stroke="#e8823a" stroke-width="1.1"/>
<circle cx="643.79" cy="925.70" r="12.4" fill="#f8cba6" stroke="#e8823a" stroke-width="1.1"/>
<circle cx="657.00" cy="943.70" r="12.4" fill="#f8cba6" stroke="#e8823a" stroke-width="1.1"/>
<circle cx="670.22" cy="883.20" r="12.4" fill="#f8cba6" stroke="#e8823a" stroke-width="1.1"/>
<circle cx="683.43" cy="831.70" r="12.4" fill="#f8cba6" stroke="#e8823a" stroke-width="1.1"/>
<circle cx="696.65" cy="585.10" r="12.4" fill="#f8cba6" stroke="#e8823a" stroke-width="1.1"/>
<circle cx="709.87" cy="861.00" r="12.4" fill="#f8cba6" stroke="#e8823a" stroke-width="1.1"/>
<circle cx="723.08" cy="897.70" r="12.4" fill="#f8cba6" stroke="#e8823a" stroke-width="1.1"/>
<circle cx="749.51" cy="995.70" r="12.4" fill="#f8cba6" stroke="#e8823a" stroke-width="1.1"/>
<circle cx="775.94" cy="971.50" r="12.4" fill="#f8cba6" stroke="#e8823a" stroke-width="1.1"/>
<circle cx="802.37" cy="989.00" r="12.4" fill="#f8cba6" stroke="#e8823a" stroke-width="1.1"/>
<circle cx="828.80" cy="973.90" r="12.4" fill="#f8cba6" stroke="#e8823a" stroke-width="1.1"/>
<circle cx="855.23" cy="939.40" r="12.4" fill="#f8cba6" stroke="#e8823a" stroke-width="1.1"/>
<circle cx="881.66" cy="969.70" r="12.4" fill="#f8cba6" stroke="#e8823a" stroke-width="1.1"/>
<path d="M696.7,525.5 V1078" stroke="#e5792f" stroke-width="2" stroke-dasharray="11.7 5.4" stroke-dashoffset="0"/>
<rect x="564.5" y="524.5" width="329.60" height="554.00" fill="none" stroke="#4a4a4d" stroke-width="1.4"/>
<path d="M1195.45,524.5 v6 M1195.45,1078.4 v-6" stroke="#4a4a4d" stroke-width="1.4"/>
<path d="M1327.60,524.5 v6 M1327.60,1078.4 v-6" stroke="#4a4a4d" stroke-width="1.4"/>
<path d="M1063.3,893.73 h6 M1393.2,893.73 h-6" stroke="#4a4a4d" stroke-width="1.4"/>
<path d="M1063.3,709.06 h6 M1393.2,709.06 h-6" stroke="#4a4a4d" stroke-width="1.4"/>
<text x="1013.18" y="532.80" font-size="31.38" font-weight="normal" fill="#48484b" textLength="40.65" lengthAdjust="spacingAndGlyphs" id="t53">1.2</text>
<text x="1011.28" y="719.00" font-size="31.09" font-weight="normal" fill="#48484b" textLength="44.48" lengthAdjust="spacingAndGlyphs" id="t54">0.8</text>
<text x="1011.28" y="905.40" font-size="31.09" font-weight="normal" fill="#48484b" textLength="44.03" lengthAdjust="spacingAndGlyphs" id="t55">0.4</text>
<text x="1029.97" y="1085.70" font-size="28.37" font-weight="normal" fill="#48484b" textLength="17.24" lengthAdjust="spacingAndGlyphs" id="t56">0</text>
<text x="1035.85" y="1114.70" font-size="29.37" font-weight="normal" fill="#48484b" textLength="54.01" lengthAdjust="spacingAndGlyphs" id="t57">100</text>
<text x="1168.79" y="1114.70" font-size="29.37" font-weight="normal" fill="#48484b" textLength="53.16" lengthAdjust="spacingAndGlyphs" id="t58">200</text>
<text x="1301.02" y="1114.70" font-size="29.37" font-weight="normal" fill="#48484b" textLength="53.05" lengthAdjust="spacingAndGlyphs" id="t59">300</text>
<text x="1114.35" y="1154.50" font-size="30.67" font-weight="normal" fill="#48484b" textLength="229.57" lengthAdjust="spacingAndGlyphs" id="t60">Temperature (K)</text>
<text id="t61" x="0" y="0" transform="translate(1001.60,909.17) rotate(-90)" font-size="31.98" font-weight="normal" fill="#48484b" textLength="216.14" lengthAdjust="spacingAndGlyphs">Amplitude (a.u.)</text>
<clipPath id="clipD"><rect x="1063.3" y="524.5" width="330" height="554"/></clipPath>
<g clip-path="url(#clipD)">
<path d="M1063.30,914.60 L1064.40,917.19 L1065.51,919.77 L1066.61,922.30 L1067.72,924.81 L1068.82,927.27 L1069.93,929.70 L1071.03,932.08 L1072.14,934.43 L1073.24,936.72 L1074.35,938.98 L1075.45,941.19 L1076.56,943.35 L1077.66,945.47 L1078.77,947.54 L1079.87,949.57 L1080.98,951.55 L1082.08,953.49 L1083.19,955.39 L1084.29,957.24 L1085.40,959.05 L1086.50,960.82 L1087.61,962.55 L1088.71,964.24 L1089.82,965.89 L1090.92,967.50 L1092.03,969.07 L1093.13,970.61 L1094.24,972.11 L1095.34,973.57 L1096.45,975.00 L1097.55,976.40 L1098.66,977.76 L1099.76,979.08 L1100.87,980.37 L1101.97,981.63 L1103.08,982.85 L1104.18,984.03 L1105.29,985.19 L1106.39,986.30 L1107.50,987.39 L1108.60,988.44 L1109.71,989.46 L1110.81,990.45 L1111.92,991.41 L1113.02,992.33 L1114.13,993.23 L1115.23,994.10 L1116.34,994.93 L1117.44,995.74 L1118.55,996.53 L1119.65,997.28 L1120.76,998.01 L1121.86,998.71 L1122.97,999.39 L1124.07,1000.04 L1125.18,1000.67 L1126.28,1001.28 L1127.39,1001.87 L1128.49,1002.44 L1129.60,1002.99 L1130.70,1003.53 L1131.81,1004.05 L1132.91,1004.55 L1134.02,1005.04 L1135.12,1005.52 L1136.23,1005.98 L1137.33,1006.43 L1138.44,1006.87 L1139.54,1007.30 L1140.65,1007.72 L1141.75,1008.13 L1142.86,1008.53 L1143.96,1008.92 L1145.07,1009.30 L1146.17,1009.67 L1147.27,1010.04 L1148.38,1010.40 L1149.48,1010.75 L1150.59,1011.10 L1151.69,1011.43 L1152.80,1011.77 L1153.90,1012.10 L1155.01,1012.42 L1156.11,1012.74 L1157.22,1013.05 L1158.32,1013.36 L1159.43,1013.67 L1160.53,1013.97 L1161.64,1014.27 L1162.74,1014.56 L1163.85,1014.84 L1164.95,1015.13 L1166.06,1015.41 L1167.16,1015.68 L1168.27,1015.96 L1169.37,1016.22 L1170.48,1016.49 L1171.58,1016.75 L1172.69,1017.00 L1173.79,1017.26 L1174.90,1017.51 L1176.00,1017.76 L1177.11,1018.00 L1178.21,1018.24 L1179.32,1018.48 L1180.42,1018.71 L1181.53,1018.94 L1182.63,1019.17 L1183.74,1019.39 L1184.84,1019.62 L1185.95,1019.84 L1187.05,1020.05 L1188.16,1020.27 L1189.26,1020.48 L1190.37,1020.68 L1191.47,1020.89 L1192.58,1021.09 L1193.68,1021.29 L1194.79,1021.49 L1195.89,1021.69 L1197.00,1021.88 L1198.10,1022.07 L1199.21,1022.26 L1200.31,1022.45 L1201.42,1022.63 L1202.52,1022.81 L1203.63,1022.99 L1204.73,1023.17 L1205.84,1023.35 L1206.94,1023.52 L1208.05,1023.69 L1209.15,1023.86 L1210.26,1024.03 L1211.36,1024.19 L1212.47,1024.36 L1213.57,1024.52 L1214.68,1024.68 L1215.78,1024.84 L1216.89,1025.00 L1217.99,1025.15 L1219.10,1025.30 L1220.20,1025.45 L1221.31,1025.60 L1222.41,1025.75 L1223.52,1025.90 L1224.62,1026.04 L1225.73,1026.19 L1226.83,1026.33 L1227.94,1026.47 L1229.04,1026.61 L1230.14,1026.74 L1231.25,1026.88 L1232.35,1027.01 L1233.46,1027.15 L1234.56,1027.28 L1235.67,1027.41 L1236.77,1027.54 L1237.88,1027.66 L1238.98,1027.79 L1240.09,1027.91 L1241.19,1028.04 L1242.30,1028.16 L1243.40,1028.28 L1244.51,1028.40 L1245.61,1028.52 L1246.72,1028.63 L1247.82,1028.75 L1248.93,1028.86 L1250.03,1028.98 L1251.14,1029.09 L1252.24,1029.20 L1253.35,1029.31 L1254.45,1029.42 L1255.56,1029.53 L1256.66,1029.64 L1257.77,1029.74 L1258.87,1029.85 L1259.98,1029.95 L1261.08,1030.05 L1262.19,1030.15 L1263.29,1030.26 L1264.40,1030.36 L1265.50,1030.45 L1266.61,1030.55 L1267.71,1030.65 L1268.82,1030.75 L1269.92,1030.84 L1271.03,1030.93 L1272.13,1031.03 L1273.24,1031.12 L1274.34,1031.21 L1275.45,1031.30 L1276.55,1031.39 L1277.66,1031.48 L1278.76,1031.57 L1279.87,1031.66 L1280.97,1031.74 L1282.08,1031.83 L1283.18,1031.91 L1284.29,1032.00 L1285.39,1032.08 L1286.50,1032.16 L1287.60,1032.24 L1288.71,1032.33 L1289.81,1032.41 L1290.92,1032.49 L1292.02,1032.56 L1293.13,1032.64 L1294.23,1032.72 L1295.34,1032.80 L1296.44,1032.87 L1297.55,1032.95 L1298.65,1033.02 L1299.76,1033.10 L1300.86,1033.17 L1301.97,1033.24 L1303.07,1033.31 L1304.18,1033.39 L1305.28,1033.46 L1306.39,1033.53 L1307.49,1033.60 L1308.60,1033.67 L1309.70,1033.73 L1310.81,1033.80 L1311.91,1033.87 L1313.01,1033.93 L1314.12,1034.00 L1315.22,1034.07 L1316.33,1034.13 L1317.43,1034.19 L1318.54,1034.26 L1319.64,1034.32 L1320.75,1034.38 L1321.85,1034.45 L1322.96,1034.51 L1324.06,1034.57 L1325.17,1034.63 L1326.27,1034.69 L1327.38,1034.75 L1328.48,1034.81 L1329.59,1034.87 L1330.69,1034.92 L1331.80,1034.98 L1332.90,1035.04 L1334.01,1035.09 L1335.11,1035.15 L1336.22,1035.20 L1337.32,1035.26 L1338.43,1035.31 L1339.53,1035.37 L1340.64,1035.42 L1341.74,1035.47 L1342.85,1035.53 L1343.95,1035.58 L1345.06,1035.63 L1346.16,1035.68 L1347.27,1035.73 L1348.37,1035.78 L1349.48,1035.83 L1350.58,1035.88 L1351.69,1035.93 L1352.79,1035.98 L1353.90,1036.03 L1355.00,1036.08 L1356.11,1036.13 L1357.21,1036.17 L1358.32,1036.22 L1359.42,1036.27 L1360.53,1036.31 L1361.63,1036.36 L1362.74,1036.40 L1363.84,1036.45 L1364.95,1036.49 L1366.05,1036.54 L1367.16,1036.58 L1368.26,1036.62 L1369.37,1036.67 L1370.47,1036.71 L1371.58,1036.75 L1372.68,1036.79 L1373.79,1036.84 L1374.89,1036.88 L1376.00,1036.92 L1377.10,1036.96 L1378.21,1037.00 L1379.31,1037.04 L1380.42,1037.08 L1381.52,1037.12 L1382.63,1037.16 L1383.73,1037.20 L1384.84,1037.23 L1385.94,1037.27 L1387.05,1037.31 L1388.15,1037.35 L1389.26,1037.38 L1390.36,1037.42 L1391.47,1037.46 L1392.57,1037.49 L1393.67,1037.53" fill="none" stroke="#f5a733" stroke-width="2.2"/>
<path d="M1063.30,1065.57 L1063.63,1065.51 L1063.96,1065.46 L1064.29,1065.40 L1064.62,1065.35 L1064.95,1065.29 L1065.28,1065.23 L1065.61,1065.18 L1065.94,1065.12 L1066.27,1065.06 L1066.60,1065.00 L1066.93,1064.94 L1067.26,1064.89 L1067.59,1064.83 L1067.93,1064.77 L1068.26,1064.71 L1068.59,1064.65 L1068.92,1064.59 L1069.25,1064.53 L1069.58,1064.46 L1069.91,1064.40 L1070.24,1064.34 L1070.57,1064.28 L1070.90,1064.22 L1071.23,1064.15 L1071.56,1064.09 L1071.89,1064.03 L1072.22,1063.96 L1072.55,1063.90 L1072.88,1063.83 L1073.21,1063.77 L1073.54,1063.70 L1073.87,1063.64 L1074.20,1063.57 L1074.53,1063.50 L1074.86,1063.44 L1075.19,1063.37 L1075.52,1063.30 L1075.85,1063.23 L1076.18,1063.17 L1076.51,1063.10 L1076.85,1063.03 L1077.18,1062.96 L1077.51,1062.89 L1077.84,1062.82 L1078.17,1062.75 L1078.50,1062.67 L1078.83,1062.60 L1079.16,1062.53 L1079.49,1062.46 L1079.82,1062.38 L1080.15,1062.31 L1080.48,1062.24 L1080.81,1062.16 L1081.14,1062.09 L1081.47,1062.01 L1081.80,1061.94 L1082.13,1061.86 L1082.46,1061.78 L1082.79,1061.71 L1083.12,1061.63 L1083.45,1061.55 L1083.78,1061.47 L1084.11,1061.39 L1084.44,1061.31 L1084.77,1061.23 L1085.10,1061.15 L1085.44,1061.07 L1085.77,1060.99 L1086.10,1060.90 L1086.43,1060.82 L1086.76,1060.74 L1087.09,1060.65 L1087.42,1060.57 L1087.75,1060.49 L1088.08,1060.40 L1088.41,1060.31 L1088.74,1060.23 L1089.07,1060.14 L1089.40,1060.05 L1089.73,1059.96 L1090.06,1059.88 L1090.39,1059.79 L1090.72,1059.70 L1091.05,1059.61 L1091.38,1059.51 L1091.71,1059.42 L1092.04,1059.33 L1092.37,1059.24 L1092.70,1059.14 L1093.03,1059.05 L1093.36,1058.95 L1093.69,1058.86 L1094.02,1058.76 L1094.36,1058.66 L1094.69,1058.57 L1095.02,1058.47 L1095.35,1058.37 L1095.68,1058.27 L1096.01,1058.17 L1096.34,1058.07 L1096.67,1057.97 L1097.00,1057.87 L1097.33,1057.76 L1097.66,1057.66 L1097.99,1057.55 L1098.32,1057.45 L1098.65,1057.34 L1098.98,1057.24 L1099.31,1057.13 L1099.64,1057.02 L1099.97,1056.91 L1100.30,1056.80 L1100.63,1056.69 L1100.96,1056.58 L1101.29,1056.47 L1101.62,1056.35 L1101.95,1056.24 L1102.28,1056.12 L1102.61,1056.01 L1102.94,1055.89 L1103.28,1055.78 L1103.61,1055.66 L1103.94,1055.54 L1104.27,1055.42 L1104.60,1055.30 L1104.93,1055.18 L1105.26,1055.05 L1105.59,1054.93 L1105.92,1054.80 L1106.25,1054.68 L1106.58,1054.55 L1106.91,1054.43 L1107.24,1054.30 L1107.57,1054.17 L1107.90,1054.04 L1108.23,1053.91 L1108.56,1053.77 L1108.89,1053.64 L1109.22,1053.50 L1109.55,1053.37 L1109.88,1053.23 L1110.21,1053.09 L1110.54,1052.96 L1110.87,1052.81 L1111.20,1052.67 L1111.53,1052.53 L1111.87,1052.39 L1112.20,1052.24 L1112.53,1052.10 L1112.86,1051.95 L1113.19,1051.80 L1113.52,1051.65 L1113.85,1051.50 L1114.18,1051.35 L1114.51,1051.19 L1114.84,1051.04 L1115.17,1050.88 L1115.50,1050.73 L1115.83,1050.57 L1116.16,1050.41 L1116.49,1050.24 L1116.82,1050.08 L1117.15,1049.92 L1117.48,1049.75 L1117.81,1049.58 L1118.14,1049.41 L1118.47,1049.24 L1118.80,1049.07 L1119.13,1048.90 L1119.46,1048.72 L1119.79,1048.55 L1120.12,1048.37 L1120.45,1048.19 L1120.79,1048.00 L1121.12,1047.82 L1121.45,1047.64 L1121.78,1047.45 L1122.11,1047.26 L1122.44,1047.07 L1122.77,1046.88 L1123.10,1046.68 L1123.43,1046.49 L1123.76,1046.29 L1124.09,1046.09 L1124.42,1045.89 L1124.75,1045.68 L1125.08,1045.47 L1125.41,1045.27 L1125.74,1045.06 L1126.07,1044.84 L1126.40,1044.63 L1126.73,1044.41 L1127.06,1044.19 L1127.39,1043.97 L1127.72,1043.75 L1128.05,1043.52 L1128.38,1043.29 L1128.71,1043.06 L1129.04,1042.83 L1129.38,1042.59 L1129.71,1042.35 L1130.04,1042.11 L1130.37,1041.87 L1130.70,1041.62 L1131.03,1041.37 L1131.36,1041.12 L1131.69,1040.87 L1132.02,1040.61 L1132.35,1040.35 L1132.68,1040.09 L1133.01,1039.82 L1133.34,1039.55 L1133.67,1039.28 L1134.00,1039.00 L1134.33,1038.72 L1134.66,1038.44 L1134.99,1038.16 L1135.32,1037.87 L1135.65,1037.58 L1135.98,1037.28 L1136.31,1036.98 L1136.64,1036.68 L1136.97,1036.37 L1137.30,1036.06 L1137.63,1035.75 L1137.96,1035.43 L1138.30,1035.11 L1138.63,1034.79 L1138.96,1034.46 L1139.29,1034.13 L1139.62,1033.79 L1139.95,1033.45 L1140.28,1033.10 L1140.61,1032.75 L1140.94,1032.39 L1141.27,1032.03 L1141.60,1031.67 L1141.93,1031.30 L1142.26,1030.93 L1142.59,1030.55 L1142.92,1030.17 L1143.25,1029.78 L1143.58,1029.38 L1143.91,1028.98 L1144.24,1028.58 L1144.57,1028.17 L1144.90,1027.75 L1145.23,1027.33 L1145.56,1026.90 L1145.89,1026.47 L1146.22,1026.03 L1146.55,1025.58 L1146.88,1025.13 L1147.22,1024.67 L1147.55,1024.20 L1147.88,1023.73 L1148.21,1023.25 L1148.54,1022.77 L1148.87,1022.27 L1149.20,1021.77 L1149.53,1021.26 L1149.86,1020.75 L1150.19,1020.22 L1150.52,1019.69 L1150.85,1019.15 L1151.18,1018.60 L1151.51,1018.04 L1151.84,1017.48 L1152.17,1016.90 L1152.50,1016.32 L1152.83,1015.72 L1153.16,1015.12 L1153.49,1014.50 L1153.82,1013.88 L1154.15,1013.24 L1154.48,1012.60 L1154.81,1011.94 L1155.14,1011.28 L1155.47,1010.60 L1155.80,1009.91 L1156.14,1009.20 L1156.47,1008.49 L1156.80,1007.76 L1157.13,1007.02 L1157.46,1006.27 L1157.79,1005.50 L1158.12,1004.72 L1158.45,1003.92 L1158.78,1003.11 L1159.11,1002.28 L1159.44,1001.44 L1159.77,1000.58 L1160.10,999.71 L1160.43,998.82 L1160.76,997.91 L1161.09,996.98 L1161.42,996.03 L1161.75,995.07 L1162.08,994.08 L1162.41,993.08 L1162.74,992.05 L1163.07,991.00 L1163.40,989.93 L1163.73,988.84 L1164.06,987.72 L1164.39,986.58 L1164.73,985.42 L1165.06,984.22 L1165.39,983.01 L1165.72,981.76 L1166.05,980.48 L1166.38,979.18 L1166.71,977.84 L1167.04,976.47 L1167.37,975.07 L1167.70,973.63 L1168.03,972.16 L1168.36,970.66 L1168.69,969.11 L1169.02,967.53 L1169.35,965.90 L1169.68,964.23 L1170.01,962.52 L1170.34,960.76 L1170.67,958.95 L1171.00,957.10 L1171.33,955.20 L1171.66,953.24 L1171.99,951.23 L1172.32,949.17 L1172.65,947.05 L1172.98,944.87 L1173.31,942.63 L1173.65,940.33 L1173.98,937.96 L1174.31,935.53 L1174.64,933.02 L1174.97,930.45 L1175.30,927.80 L1175.63,925.07 L1175.96,922.27 L1176.29,919.39 L1176.62,916.42 L1176.95,913.37 L1177.28,910.22 L1177.61,906.99 L1177.94,903.66 L1178.27,900.24 L1178.60,896.71 L1178.93,893.08 L1179.26,889.35 L1179.59,885.51 L1179.92,881.56 L1180.25,877.50 L1180.58,873.33 L1180.91,869.03 L1181.24,864.62 L1181.57,860.09 L1181.90,855.44 L1182.23,850.66 L1182.57,845.76 L1182.90,840.72 L1183.23,835.55 L1183.56,830.24 L1183.89,824.78 L1184.22,819.18 L1184.55,813.44 L1184.88,807.53 L1185.21,801.48 L1185.54,795.26 L1185.87,788.88 L1186.20,782.33 L1186.53,775.62 L1186.86,768.74 L1187.19,761.69 L1187.52,754.47 L1187.85,747.08 L1188.18,739.52 L1188.51,731.79 L1188.84,723.91 L1189.17,715.87 L1189.50,707.69 L1189.83,699.38 L1190.16,690.96 L1190.49,685.28 L1190.82,679.60 L1191.16,673.92 L1191.49,668.24 L1191.82,662.57 L1192.15,656.89 L1192.48,651.21 L1192.81,645.53 L1193.14,639.85 L1193.47,634.18 L1193.80,628.50 L1194.13,622.82 L1194.46,617.14 L1194.79,611.47 L1195.12,605.79 L1195.45,600.11 L1195.78,606.79 L1196.11,613.47 L1196.44,620.14 L1196.77,626.82 L1197.10,633.50 L1197.43,640.18 L1197.76,646.85 L1198.09,653.53 L1198.42,660.21 L1198.75,666.89 L1199.08,673.57 L1199.41,680.24 L1199.74,686.92 L1200.08,693.60 L1200.41,700.28 L1200.74,706.96 L1201.07,717.41 L1201.40,727.39 L1201.73,736.91 L1202.06,745.97 L1202.39,754.59 L1202.72,762.79 L1203.05,770.59 L1203.38,778.00 L1203.71,785.05 L1204.04,791.74 L1204.37,798.11 L1204.70,804.17 L1205.03,809.93 L1205.36,815.41 L1205.69,820.63 L1206.02,825.60 L1206.35,830.33 L1206.68,834.84 L1207.01,839.14 L1207.34,843.24 L1207.67,847.16 L1208.00,850.89 L1208.33,854.46 L1208.66,857.87 L1209.00,861.14 L1209.33,864.27 L1209.66,867.29 L1209.99,870.21 L1210.32,873.02 L1210.65,875.74 L1210.98,878.37 L1211.31,880.93 L1211.64,883.41 L1211.97,885.83 L1212.30,888.18 L1212.63,890.48 L1212.96,892.73 L1213.29,894.92 L1213.62,897.07 L1213.95,899.17 L1214.28,901.23 L1214.61,903.25 L1214.94,905.23 L1215.27,907.18 L1215.60,909.10 L1215.93,910.99 L1216.26,912.84 L1216.59,914.67 L1216.92,916.47 L1217.25,918.25 L1217.59,920.00 L1217.92,921.72 L1218.25,923.43 L1218.58,925.11 L1218.91,926.77 L1219.24,928.41 L1219.57,930.04 L1219.90,931.64 L1220.23,933.22 L1220.56,934.79 L1220.89,936.34 L1221.22,937.87 L1221.55,939.38 L1221.88,940.87 L1222.21,942.34 L1222.54,943.79 L1222.87,945.22 L1223.20,946.63 L1223.53,948.02 L1223.86,949.39 L1224.19,950.73 L1224.52,952.06 L1224.85,953.36 L1225.18,954.64 L1225.51,955.91 L1225.84,957.15 L1226.17,958.37 L1226.51,959.57 L1226.84,960.75 L1227.17,961.91 L1227.50,963.05 L1227.83,964.17 L1228.16,965.27 L1228.49,966.35 L1228.82,967.41 L1229.15,968.45 L1229.48,969.48 L1229.81,970.49 L1230.14,971.47 L1230.47,972.45 L1230.80,973.40 L1231.13,974.34 L1231.46,975.26 L1231.79,976.16 L1232.12,977.05 L1232.45,977.92 L1232.78,978.77 L1233.11,979.61 L1233.44,980.43 L1233.77,981.24 L1234.10,982.04 L1234.43,982.81 L1234.76,983.58 L1235.10,984.33 L1235.43,985.07 L1235.76,985.79 L1236.09,986.50 L1236.42,987.20 L1236.75,987.88 L1237.08,988.55 L1237.41,989.21 L1237.74,989.86 L1238.07,990.50 L1238.40,991.12 L1238.73,991.73 L1239.06,992.33 L1239.39,992.92 L1239.72,993.50 L1240.05,994.07 L1240.38,994.62 L1240.71,995.17 L1241.04,995.71 L1241.37,996.24 L1241.70,996.75 L1242.03,997.26 L1242.36,997.76 L1242.69,998.25 L1243.02,998.73 L1243.35,999.21 L1243.68,999.68 L1244.02,1000.14 L1244.35,1000.59 L1244.68,1001.03 L1245.01,1001.47 L1245.34,1001.91 L1245.67,1002.33 L1246.00,1002.76 L1246.33,1003.17 L1246.66,1003.58 L1246.99,1003.99 L1247.32,1004.39 L1247.65,1004.78 L1247.98,1005.17 L1248.31,1005.56 L1248.64,1005.94 L1248.97,1006.32 L1249.30,1006.69 L1249.63,1007.06 L1249.96,1007.43 L1250.29,1007.79 L1250.62,1008.15 L1250.95,1008.50 L1251.28,1008.85 L1251.61,1009.20 L1251.94,1009.55 L1252.27,1009.89 L1252.60,1010.23 L1252.94,1010.57 L1253.27,1010.90 L1253.60,1011.23 L1253.93,1011.56 L1254.26,1011.89 L1254.59,1012.21 L1254.92,1012.53 L1255.25,1012.85 L1255.58,1013.17 L1255.91,1013.49 L1256.24,1013.80 L1256.57,1014.11 L1256.90,1014.42 L1257.23,1014.73 L1257.56,1015.03 L1257.89,1015.34 L1258.22,1015.64 L1258.55,1015.94 L1258.88,1016.24 L1259.21,1016.54 L1259.54,1016.83 L1259.87,1017.13 L1260.20,1017.42 L1260.53,1017.71 L1260.86,1018.00 L1261.19,1018.29 L1261.52,1018.58 L1261.86,1018.86 L1262.19,1019.15 L1262.52,1019.43 L1262.85,1019.71 L1263.18,1019.99 L1263.51,1020.27 L1263.84,1020.54 L1264.17,1020.82 L1264.50,1021.09 L1264.83,1021.36 L1265.16,1021.63 L1265.49,1021.90 L1265.82,1022.17 L1266.15,1022.43 L1266.48,1022.69 L1266.81,1022.95 L1267.14,1023.21 L1267.47,1023.47 L1267.80,1023.72 L1268.13,1023.98 L1268.46,1024.23 L1268.79,1024.48 L1269.12,1024.72 L1269.45,1024.97 L1269.78,1025.21 L1270.11,1025.45 L1270.45,1025.69 L1270.78,1025.93 L1271.11,1026.17 L1271.44,1026.40 L1271.77,1026.63 L1272.10,1026.87 L1272.43,1027.09 L1272.76,1027.32 L1273.09,1027.55 L1273.42,1027.77 L1273.75,1027.99 L1274.08,1028.21 L1274.41,1028.43 L1274.74,1028.64 L1275.07,1028.85 L1275.40,1029.07 L1275.73,1029.28 L1276.06,1029.48 L1276.39,1029.69 L1276.72,1029.89 L1277.05,1030.10 L1277.38,1030.30 L1277.71,1030.50 L1278.04,1030.69 L1278.37,1030.89 L1278.70,1031.08 L1279.03,1031.27 L1279.37,1031.46 L1279.70,1031.65 L1280.03,1031.84 L1280.36,1032.02 L1280.69,1032.21 L1281.02,1032.39 L1281.35,1032.57 L1281.68,1032.75 L1282.01,1032.92 L1282.34,1033.10 L1282.67,1033.27 L1283.00,1033.44 L1283.33,1033.61 L1283.66,1033.78 L1283.99,1033.95 L1284.32,1034.12 L1284.65,1034.28 L1284.98,1034.44 L1285.31,1034.60 L1285.64,1034.76 L1285.97,1034.92 L1286.30,1035.08 L1286.63,1035.24 L1286.96,1035.39 L1287.29,1035.54 L1287.62,1035.69 L1287.95,1035.84 L1288.29,1035.99 L1288.62,1036.14 L1288.95,1036.28 L1289.28,1036.43 L1289.61,1036.57 L1289.94,1036.71 L1290.27,1036.86 L1290.60,1036.99 L1290.93,1037.13 L1291.26,1037.27 L1291.59,1037.41 L1291.92,1037.54 L1292.25,1037.67 L1292.58,1037.81 L1292.91,1037.94 L1293.24,1038.07 L1293.57,1038.19 L1293.90,1038.32 L1294.23,1038.45 L1294.56,1038.57 L1294.89,1038.70 L1295.22,1038.82 L1295.55,1038.94 L1295.88,1039.06 L1296.21,1039.18 L1296.54,1039.30 L1296.88,1039.42 L1297.21,1039.53 L1297.54,1039.65 L1297.87,1039.76 L1298.20,1039.87 L1298.53,1039.99 L1298.86,1040.10 L1299.19,1040.21 L1299.52,1040.32 L1299.85,1040.42 L1300.18,1040.53 L1300.51,1040.64 L1300.84,1040.74 L1301.17,1040.85 L1301.50,1040.95 L1301.83,1041.05 L1302.16,1041.15 L1302.49,1041.25 L1302.82,1041.35 L1303.15,1041.45 L1303.48,1041.55 L1303.81,1041.65 L1304.14,1041.74 L1304.47,1041.84 L1304.80,1041.93 L1305.13,1042.02 L1305.46,1042.12 L1305.80,1042.21 L1306.13,1042.30 L1306.46,1042.39 L1306.79,1042.48 L1307.12,1042.57 L1307.45,1042.65 L1307.78,1042.74 L1308.11,1042.83 L1308.44,1042.91 L1308.77,1042.99 L1309.10,1043.08 L1309.43,1043.16 L1309.76,1043.24 L1310.09,1043.32 L1310.42,1043.40 L1310.75,1043.48 L1311.08,1043.56 L1311.41,1043.64 L1311.74,1043.72 L1312.07,1043.80 L1312.40,1043.87 L1312.73,1043.95 L1313.06,1044.02 L1313.39,1044.10 L1313.72,1044.17 L1314.05,1044.24 L1314.38,1044.31 L1314.72,1044.38 L1315.05,1044.45 L1315.38,1044.52 L1315.71,1044.59 L1316.04,1044.66 L1316.37,1044.73 L1316.70,1044.80 L1317.03,1044.87 L1317.36,1044.93 L1317.69,1045.00 L1318.02,1045.06 L1318.35,1045.13 L1318.68,1045.19 L1319.01,1045.25 L1319.34,1045.32 L1319.67,1045.38 L1320.00,1045.44 L1320.33,1045.50 L1320.66,1045.56 L1320.99,1045.62 L1321.32,1045.68 L1321.65,1045.74 L1321.98,1045.80 L1322.31,1045.86 L1322.64,1045.92 L1322.97,1045.97 L1323.31,1046.03 L1323.64,1046.09 L1323.97,1046.14 L1324.30,1046.20 L1324.63,1046.25 L1324.96,1046.31 L1325.29,1046.36 L1325.62,1046.42 L1325.95,1046.47 L1326.28,1046.52 L1326.61,1046.58 L1326.94,1046.63 L1327.27,1046.68 L1327.60,1046.73 L1327.93,1046.78 L1328.26,1046.83 L1328.59,1046.88 L1328.92,1046.93 L1329.25,1046.98 L1329.58,1047.03 L1329.91,1047.08 L1330.24,1047.13 L1330.57,1047.18 L1330.90,1047.23 L1331.23,1047.27 L1331.56,1047.32 L1331.89,1047.37 L1332.23,1047.41 L1332.56,1047.46 L1332.89,1047.51 L1333.22,1047.55 L1333.55,1047.60 L1333.88,1047.64 L1334.21,1047.69 L1334.54,1047.73 L1334.87,1047.78 L1335.20,1047.82 L1335.53,1047.86 L1335.86,1047.91 L1336.19,1047.95 L1336.52,1047.99 L1336.85,1048.03 L1337.18,1048.08 L1337.51,1048.12 L1337.84,1048.16 L1338.17,1048.20 L1338.50,1048.24 L1338.83,1048.28 L1339.16,1048.32 L1339.49,1048.36 L1339.82,1048.40 L1340.15,1048.44 L1340.48,1048.48 L1340.82,1048.52 L1341.15,1048.56 L1341.48,1048.60 L1341.81,1048.64 L1342.14,1048.68 L1342.47,1048.72 L1342.80,1048.76 L1343.13,1048.79 L1343.46,1048.83 L1343.79,1048.87 L1344.12,1048.91 L1344.45,1048.94 L1344.78,1048.98 L1345.11,1049.02 L1345.44,1049.05 L1345.77,1049.09 L1346.10,1049.13 L1346.43,1049.16 L1346.76,1049.20 L1347.09,1049.23 L1347.42,1049.27 L1347.75,1049.30 L1348.08,1049.34 L1348.41,1049.37 L1348.74,1049.41 L1349.07,1049.44 L1349.40,1049.48 L1349.74,1049.51 L1350.07,1049.55 L1350.40,1049.58 L1350.73,1049.61 L1351.06,1049.65 L1351.39,1049.68 L1351.72,1049.71 L1352.05,1049.75 L1352.38,1049.78 L1352.71,1049.81 L1353.04,1049.84 L1353.37,1049.88 L1353.70,1049.91 L1354.03,1049.94 L1354.36,1049.97 L1354.69,1050.01 L1355.02,1050.04 L1355.35,1050.07 L1355.68,1050.10 L1356.01,1050.13 L1356.34,1050.16 L1356.67,1050.20 L1357.00,1050.23 L1357.33,1050.26 L1357.66,1050.29 L1357.99,1050.32 L1358.32,1050.35 L1358.66,1050.38 L1358.99,1050.41 L1359.32,1050.44 L1359.65,1050.47 L1359.98,1050.50 L1360.31,1050.53 L1360.64,1050.56 L1360.97,1050.59 L1361.30,1050.62 L1361.63,1050.65 L1361.96,1050.68 L1362.29,1050.71 L1362.62,1050.74 L1362.95,1050.77 L1363.28,1050.79 L1363.61,1050.82 L1363.94,1050.85 L1364.27,1050.88 L1364.60,1050.91 L1364.93,1050.94 L1365.26,1050.97 L1365.59,1050.99 L1365.92,1051.02 L1366.25,1051.05 L1366.58,1051.08 L1366.91,1051.11 L1367.24,1051.13 L1367.58,1051.16 L1367.91,1051.19 L1368.24,1051.22 L1368.57,1051.24 L1368.90,1051.27 L1369.23,1051.30 L1369.56,1051.33 L1369.89,1051.35 L1370.22,1051.38 L1370.55,1051.41 L1370.88,1051.44 L1371.21,1051.46 L1371.54,1051.49 L1371.87,1051.52 L1372.20,1051.54 L1372.53,1051.57 L1372.86,1051.60 L1373.19,1051.62 L1373.52,1051.65 L1373.85,1051.67 L1374.18,1051.70 L1374.51,1051.73 L1374.84,1051.75 L1375.17,1051.78 L1375.50,1051.81 L1375.83,1051.83 L1376.17,1051.86 L1376.50,1051.88 L1376.83,1051.91 L1377.16,1051.93 L1377.49,1051.96 L1377.82,1051.99 L1378.15,1052.01 L1378.48,1052.04 L1378.81,1052.06 L1379.14,1052.09 L1379.47,1052.11 L1379.80,1052.14 L1380.13,1052.16 L1380.46,1052.19 L1380.79,1052.21 L1381.12,1052.24 L1381.45,1052.26 L1381.78,1052.29 L1382.11,1052.31 L1382.44,1052.34 L1382.77,1052.36 L1383.10,1052.39 L1383.43,1052.41 L1383.76,1052.44 L1384.09,1052.46 L1384.42,1052.49 L1384.75,1052.51 L1385.09,1052.54 L1385.42,1052.56 L1385.75,1052.59 L1386.08,1052.61 L1386.41,1052.63 L1386.74,1052.66 L1387.07,1052.68 L1387.40,1052.71 L1387.73,1052.73 L1388.06,1052.75 L1388.39,1052.78 L1388.72,1052.80 L1389.05,1052.83 L1389.38,1052.85 L1389.71,1052.88 L1390.04,1052.90 L1390.37,1052.92 L1390.70,1052.95 L1391.03,1052.97 L1391.36,1052.99 L1391.69,1053.02 L1392.02,1053.04 L1392.35,1053.07 L1392.68,1053.09 L1393.01,1053.11 L1393.34,1053.14 L1393.67,1053.16" fill="none" stroke="#c1372a" stroke-width="2.3" stroke-linejoin="round"/>
<path d="M1063.30,923.65 L1063.63,924.49 L1063.96,925.33 L1064.29,926.16 L1064.62,926.98 L1064.95,927.80 L1065.28,928.61 L1065.61,929.41 L1065.94,930.21 L1066.27,931.00 L1066.60,931.79 L1066.93,932.57 L1067.26,933.34 L1067.59,934.11 L1067.93,934.87 L1068.26,935.62 L1068.59,936.37 L1068.92,937.11 L1069.25,937.85 L1069.58,938.58 L1069.91,939.31 L1070.24,940.03 L1070.57,940.74 L1070.90,941.45 L1071.23,942.15 L1071.56,942.85 L1071.89,943.54 L1072.22,944.22 L1072.55,944.90 L1072.88,945.58 L1073.21,946.24 L1073.54,946.91 L1073.87,947.56 L1074.20,948.22 L1074.53,948.86 L1074.86,949.51 L1075.19,950.14 L1075.52,950.77 L1075.85,951.40 L1076.18,952.02 L1076.51,952.64 L1076.85,953.25 L1077.18,953.85 L1077.51,954.45 L1077.84,955.05 L1078.17,955.64 L1078.50,956.22 L1078.83,956.81 L1079.16,957.38 L1079.49,957.95 L1079.82,958.52 L1080.15,959.08 L1080.48,959.64 L1080.81,960.19 L1081.14,960.73 L1081.47,961.28 L1081.80,961.81 L1082.13,962.35 L1082.46,962.88 L1082.79,963.40 L1083.12,963.92 L1083.45,964.43 L1083.78,964.94 L1084.11,965.45 L1084.44,965.95 L1084.77,966.45 L1085.10,966.94 L1085.44,967.43 L1085.77,967.91 L1086.10,968.39 L1086.43,968.87 L1086.76,969.34 L1087.09,969.81 L1087.42,970.27 L1087.75,970.73 L1088.08,971.18 L1088.41,971.63 L1088.74,972.08 L1089.07,972.52 L1089.40,972.96 L1089.73,973.39 L1090.06,973.82 L1090.39,974.24 L1090.72,974.67 L1091.05,975.08 L1091.38,975.50 L1091.71,975.91 L1092.04,976.31 L1092.37,976.71 L1092.70,977.11 L1093.03,977.50 L1093.36,977.89 L1093.69,978.28 L1094.02,978.66 L1094.36,979.04 L1094.69,979.42 L1095.02,979.79 L1095.35,980.15 L1095.68,980.52 L1096.01,980.88 L1096.34,981.23 L1096.67,981.58 L1097.00,981.93 L1097.33,982.28 L1097.66,982.62 L1097.99,982.96 L1098.32,983.29 L1098.65,983.62 L1098.98,983.95 L1099.31,984.27 L1099.64,984.59 L1099.97,984.90 L1100.30,985.22 L1100.63,985.53 L1100.96,985.83 L1101.29,986.13 L1101.62,986.43 L1101.95,986.73 L1102.28,987.02 L1102.61,987.30 L1102.94,987.59 L1103.28,987.87 L1103.61,988.15 L1103.94,988.42 L1104.27,988.69 L1104.60,988.96 L1104.93,989.22 L1105.26,989.48 L1105.59,989.74 L1105.92,989.99 L1106.25,990.24 L1106.58,990.49 L1106.91,990.73 L1107.24,990.97 L1107.57,991.21 L1107.90,991.44 L1108.23,991.67 L1108.56,991.90 L1108.89,992.12 L1109.22,992.34 L1109.55,992.56 L1109.88,992.77 L1110.21,992.98 L1110.54,993.19 L1110.87,993.39 L1111.20,993.59 L1111.53,993.78 L1111.87,993.98 L1112.20,994.17 L1112.53,994.35 L1112.86,994.54 L1113.19,994.72 L1113.52,994.89 L1113.85,995.07 L1114.18,995.24 L1114.51,995.40 L1114.84,995.56 L1115.17,995.72 L1115.50,995.88 L1115.83,996.03 L1116.16,996.18 L1116.49,996.33 L1116.82,996.47 L1117.15,996.61 L1117.48,996.75 L1117.81,996.88 L1118.14,997.01 L1118.47,997.14 L1118.80,997.26 L1119.13,997.38 L1119.46,997.49 L1119.79,997.61 L1120.12,997.72 L1120.45,997.82 L1120.79,997.92 L1121.12,998.02 L1121.45,998.12 L1121.78,998.21 L1122.11,998.30 L1122.44,998.38 L1122.77,998.46 L1123.10,998.54 L1123.43,998.61 L1123.76,998.68 L1124.09,998.75 L1124.42,998.81 L1124.75,998.87 L1125.08,998.93 L1125.41,998.98 L1125.74,999.03 L1126.07,999.07 L1126.40,999.12 L1126.73,999.15 L1127.06,999.19 L1127.39,999.22 L1127.72,999.24 L1128.05,999.27 L1128.38,999.28 L1128.71,999.30 L1129.04,999.31 L1129.38,999.32 L1129.71,999.32 L1130.04,999.32 L1130.37,999.31 L1130.70,999.30 L1131.03,999.29 L1131.36,999.27 L1131.69,999.25 L1132.02,999.23 L1132.35,999.20 L1132.68,999.16 L1133.01,999.12 L1133.34,999.08 L1133.67,999.03 L1134.00,998.98 L1134.33,998.93 L1134.66,998.87 L1134.99,998.80 L1135.32,998.73 L1135.65,998.66 L1135.98,998.58 L1136.31,998.50 L1136.64,998.41 L1136.97,998.32 L1137.30,998.22 L1137.63,998.12 L1137.96,998.01 L1138.30,997.90 L1138.63,997.78 L1138.96,997.66 L1139.29,997.53 L1139.62,997.40 L1139.95,997.26 L1140.28,997.12 L1140.61,996.97 L1140.94,996.82 L1141.27,996.66 L1141.60,996.50 L1141.93,996.33 L1142.26,996.15 L1142.59,995.97 L1142.92,995.78 L1143.25,995.59 L1143.58,995.39 L1143.91,995.19 L1144.24,994.98 L1144.57,994.76 L1144.90,994.53 L1145.23,994.31 L1145.56,994.07 L1145.89,993.83 L1146.22,993.58 L1146.55,993.32 L1146.88,993.06 L1147.22,992.79 L1147.55,992.52 L1147.88,992.23 L1148.21,991.94 L1148.54,991.65 L1148.87,991.34 L1149.20,991.03 L1149.53,990.71 L1149.86,990.39 L1150.19,990.05 L1150.52,989.71 L1150.85,989.36 L1151.18,989.00 L1151.51,988.64 L1151.84,988.26 L1152.17,987.88 L1152.50,987.49 L1152.83,987.09 L1153.16,986.69 L1153.49,986.27 L1153.82,985.85 L1154.15,985.41 L1154.48,984.97 L1154.81,984.52 L1155.14,984.06 L1155.47,983.59 L1155.80,983.11 L1156.14,982.62 L1156.47,982.13 L1156.80,981.62 L1157.13,981.10 L1157.46,980.57 L1157.79,980.04 L1158.12,979.49 L1158.45,978.93 L1158.78,978.35 L1159.11,977.77 L1159.44,977.17 L1159.77,976.56 L1160.10,975.93 L1160.43,975.29 L1160.76,974.63 L1161.09,973.95 L1161.42,973.25 L1161.75,972.54 L1162.08,971.81 L1162.41,971.05 L1162.74,970.27 L1163.07,969.47 L1163.40,968.65 L1163.73,967.80 L1164.06,966.92 L1164.39,966.01 L1164.73,965.07 L1165.06,964.10 L1165.39,963.09 L1165.72,962.05 L1166.05,960.97 L1166.38,959.85 L1166.71,958.69 L1167.04,957.48 L1167.37,956.23 L1167.70,954.92 L1168.03,953.56 L1168.36,952.14 L1168.69,950.66 L1169.02,949.12 L1169.35,947.51 L1169.68,945.82 L1170.01,944.07 L1170.34,942.24 L1170.67,940.34 L1171.00,938.38 L1171.33,936.36 L1171.66,934.28 L1171.99,932.14 L1172.32,929.95 L1172.65,927.69 L1172.98,925.36 L1173.31,922.97 L1173.65,920.51 L1173.98,917.99 L1174.31,915.39 L1174.64,912.71 L1174.97,909.96 L1175.30,907.13 L1175.63,904.21 L1175.96,901.21 L1176.29,898.13 L1176.62,894.96 L1176.95,891.70 L1177.28,888.34 L1177.61,884.89 L1177.94,881.34 L1178.27,877.69 L1178.60,873.94 L1178.93,870.08 L1179.26,866.12 L1179.59,862.06 L1179.92,857.88 L1180.25,853.60 L1180.58,849.20 L1180.91,844.69 L1181.24,840.07 L1181.57,835.32 L1181.90,830.46 L1182.23,825.46 L1182.57,820.34 L1182.90,815.08 L1183.23,809.68 L1183.56,804.14 L1183.89,798.46 L1184.22,792.62 L1184.55,786.63 L1184.88,780.49 L1185.21,774.18 L1185.54,767.70 L1185.87,761.06 L1186.20,754.24 L1186.53,747.25 L1186.86,740.08 L1187.19,732.74 L1187.52,725.21 L1187.85,717.49 L1188.18,709.60 L1188.51,701.52 L1188.84,693.27 L1189.17,684.84 L1189.50,676.24 L1189.83,667.49 L1190.16,658.59 L1190.49,651.79 L1190.82,644.99 L1191.16,638.19 L1191.49,631.39 L1191.82,624.59 L1192.15,617.79 L1192.48,610.99 L1192.81,604.19 L1193.14,597.39 L1193.47,590.59 L1193.80,583.79 L1194.13,576.99 L1194.46,570.19 L1194.79,563.39 L1195.12,556.59 L1195.45,549.79 L1195.78,558.06 L1196.11,566.33 L1196.44,574.61 L1196.77,582.88 L1197.10,591.15 L1197.43,599.43 L1197.76,607.70 L1198.09,615.97 L1198.42,624.24 L1198.75,632.52 L1199.08,640.79 L1199.41,649.06 L1199.74,657.34 L1200.08,665.61 L1200.41,673.88 L1200.74,682.15 L1201.07,689.04 L1201.40,695.83 L1201.73,702.52 L1202.06,709.11 L1202.39,715.60 L1202.72,721.98 L1203.05,728.26 L1203.38,734.43 L1203.71,740.50 L1204.04,746.47 L1204.37,752.34 L1204.70,758.10 L1205.03,763.76 L1205.36,769.31 L1205.69,774.77 L1206.02,780.12 L1206.35,785.38 L1206.68,790.53 L1207.01,795.57 L1207.34,800.49 L1207.67,805.29 L1208.00,809.97 L1208.33,814.52 L1208.66,818.94 L1209.00,823.24 L1209.33,827.41 L1209.66,831.46 L1209.99,835.38 L1210.32,839.18 L1210.65,842.87 L1210.98,846.44 L1211.31,849.90 L1211.64,853.24 L1211.97,856.48 L1212.30,859.63 L1212.63,862.67 L1212.96,865.63 L1213.29,868.50 L1213.62,871.28 L1213.95,873.99 L1214.28,876.62 L1214.61,879.18 L1214.94,881.67 L1215.27,884.09 L1215.60,886.45 L1215.93,888.75 L1216.26,890.99 L1216.59,893.17 L1216.92,895.30 L1217.25,897.38 L1217.59,899.40 L1217.92,901.38 L1218.25,903.31 L1218.58,905.19 L1218.91,907.03 L1219.24,908.83 L1219.57,910.59 L1219.90,912.31 L1220.23,914.00 L1220.56,915.64 L1220.89,917.25 L1221.22,918.83 L1221.55,920.37 L1221.88,921.89 L1222.21,923.37 L1222.54,924.82 L1222.87,926.24 L1223.20,927.63 L1223.53,929.00 L1223.86,930.34 L1224.19,931.65 L1224.52,932.94 L1224.85,934.21 L1225.18,935.45 L1225.51,936.67 L1225.84,937.87 L1226.17,939.04 L1226.51,940.19 L1226.84,941.33 L1227.17,942.44 L1227.50,943.54 L1227.83,944.61 L1228.16,945.67 L1228.49,946.71 L1228.82,947.73 L1229.15,948.74 L1229.48,949.73 L1229.81,950.70 L1230.14,951.66 L1230.47,952.60 L1230.80,953.52 L1231.13,954.44 L1231.46,955.33 L1231.79,956.22 L1232.12,957.09 L1232.45,957.95 L1232.78,958.79 L1233.11,959.62 L1233.44,960.44 L1233.77,961.25 L1234.10,962.04 L1234.43,962.83 L1234.76,963.60 L1235.10,964.36 L1235.43,965.11 L1235.76,965.85 L1236.09,966.58 L1236.42,967.30 L1236.75,968.01 L1237.08,968.71 L1237.41,969.40 L1237.74,970.08 L1238.07,970.75 L1238.40,971.41 L1238.73,972.06 L1239.06,972.70 L1239.39,973.33 L1239.72,973.96 L1240.05,974.58 L1240.38,975.18 L1240.71,975.78 L1241.04,976.38 L1241.37,976.96 L1241.70,977.54 L1242.03,978.10 L1242.36,978.66 L1242.69,979.22 L1243.02,979.76 L1243.35,980.30 L1243.68,980.83 L1244.02,981.36 L1244.35,981.88 L1244.68,982.39 L1245.01,982.89 L1245.34,983.39 L1245.67,983.88 L1246.00,984.37 L1246.33,984.85 L1246.66,985.32 L1246.99,985.79 L1247.32,986.25 L1247.65,986.71 L1247.98,987.16 L1248.31,987.60 L1248.64,988.04 L1248.97,988.47 L1249.30,988.90 L1249.63,989.33 L1249.96,989.74 L1250.29,990.16 L1250.62,990.56 L1250.95,990.97 L1251.28,991.36 L1251.61,991.76 L1251.94,992.15 L1252.27,992.53 L1252.60,992.91 L1252.94,993.28 L1253.27,993.65 L1253.60,994.02 L1253.93,994.38 L1254.26,994.74 L1254.59,995.09 L1254.92,995.44 L1255.25,995.79 L1255.58,996.13 L1255.91,996.47 L1256.24,996.80 L1256.57,997.13 L1256.90,997.45 L1257.23,997.78 L1257.56,998.09 L1257.89,998.41 L1258.22,998.72 L1258.55,999.03 L1258.88,999.33 L1259.21,999.63 L1259.54,999.93 L1259.87,1000.23 L1260.20,1000.52 L1260.53,1000.80 L1260.86,1001.09 L1261.19,1001.37 L1261.52,1001.65 L1261.86,1001.92 L1262.19,1002.20 L1262.52,1002.47 L1262.85,1002.73 L1263.18,1003.00 L1263.51,1003.26 L1263.84,1003.51 L1264.17,1003.77 L1264.50,1004.02 L1264.83,1004.27 L1265.16,1004.52 L1265.49,1004.76 L1265.82,1005.01 L1266.15,1005.24 L1266.48,1005.48 L1266.81,1005.72 L1267.14,1005.95 L1267.47,1006.18 L1267.80,1006.40 L1268.13,1006.63 L1268.46,1006.85 L1268.79,1007.07 L1269.12,1007.29 L1269.45,1007.50 L1269.78,1007.72 L1270.11,1007.93 L1270.45,1008.14 L1270.78,1008.34 L1271.11,1008.55 L1271.44,1008.75 L1271.77,1008.95 L1272.10,1009.15 L1272.43,1009.35 L1272.76,1009.54 L1273.09,1009.73 L1273.42,1009.93 L1273.75,1010.11 L1274.08,1010.30 L1274.41,1010.49 L1274.74,1010.67 L1275.07,1010.85 L1275.40,1011.03 L1275.73,1011.21 L1276.06,1011.38 L1276.39,1011.56 L1276.72,1011.73 L1277.05,1011.90 L1277.38,1012.07 L1277.71,1012.24 L1278.04,1012.40 L1278.37,1012.57 L1278.70,1012.73 L1279.03,1012.89 L1279.37,1013.05 L1279.70,1013.21 L1280.03,1013.36 L1280.36,1013.52 L1280.69,1013.67 L1281.02,1013.82 L1281.35,1013.97 L1281.68,1014.12 L1282.01,1014.27 L1282.34,1014.42 L1282.67,1014.56 L1283.00,1014.70 L1283.33,1014.85 L1283.66,1014.99 L1283.99,1015.13 L1284.32,1015.26 L1284.65,1015.40 L1284.98,1015.54 L1285.31,1015.67 L1285.64,1015.80 L1285.97,1015.93 L1286.30,1016.06 L1286.63,1016.19 L1286.96,1016.32 L1287.29,1016.45 L1287.62,1016.57 L1287.95,1016.70 L1288.29,1016.82 L1288.62,1016.94 L1288.95,1017.06 L1289.28,1017.18 L1289.61,1017.30 L1289.94,1017.42 L1290.27,1017.53 L1290.60,1017.65 L1290.93,1017.76 L1291.26,1017.87 L1291.59,1017.99 L1291.92,1018.10 L1292.25,1018.21 L1292.58,1018.32 L1292.91,1018.42 L1293.24,1018.53 L1293.57,1018.64 L1293.90,1018.74 L1294.23,1018.84 L1294.56,1018.95 L1294.89,1019.05 L1295.22,1019.15 L1295.55,1019.25 L1295.88,1019.35 L1296.21,1019.45 L1296.54,1019.54 L1296.88,1019.64 L1297.21,1019.73 L1297.54,1019.83 L1297.87,1019.92 L1298.20,1020.02 L1298.53,1020.11 L1298.86,1020.20 L1299.19,1020.29 L1299.52,1020.38 L1299.85,1020.47 L1300.18,1020.55 L1300.51,1020.64 L1300.84,1020.73 L1301.17,1020.81 L1301.50,1020.90 L1301.83,1020.98 L1302.16,1021.06 L1302.49,1021.14 L1302.82,1021.23 L1303.15,1021.31 L1303.48,1021.39 L1303.81,1021.46 L1304.14,1021.54 L1304.47,1021.62 L1304.80,1021.70 L1305.13,1021.77 L1305.46,1021.85 L1305.80,1021.92 L1306.13,1022.00 L1306.46,1022.07 L1306.79,1022.14 L1307.12,1022.21 L1307.45,1022.29 L1307.78,1022.36 L1308.11,1022.43 L1308.44,1022.49 L1308.77,1022.56 L1309.10,1022.63 L1309.43,1022.70 L1309.76,1022.76 L1310.09,1022.83 L1310.42,1022.90 L1310.75,1022.96 L1311.08,1023.02 L1311.41,1023.09 L1311.74,1023.15 L1312.07,1023.21 L1312.40,1023.27 L1312.73,1023.34 L1313.06,1023.40 L1313.39,1023.46 L1313.72,1023.51 L1314.05,1023.57 L1314.38,1023.63 L1314.72,1023.69 L1315.05,1023.75 L1315.38,1023.80 L1315.71,1023.86 L1316.04,1023.91 L1316.37,1023.97 L1316.70,1024.02 L1317.03,1024.08 L1317.36,1024.13 L1317.69,1024.18 L1318.02,1024.24 L1318.35,1024.29 L1318.68,1024.34 L1319.01,1024.39 L1319.34,1024.44 L1319.67,1024.49 L1320.00,1024.54 L1320.33,1024.59 L1320.66,1024.64 L1320.99,1024.69 L1321.32,1024.74 L1321.65,1024.79 L1321.98,1024.84 L1322.31,1024.88 L1322.64,1024.93 L1322.97,1024.98 L1323.31,1025.02 L1323.64,1025.07 L1323.97,1025.12 L1324.30,1025.16 L1324.63,1025.21 L1324.96,1025.25 L1325.29,1025.30 L1325.62,1025.34 L1325.95,1025.39 L1326.28,1025.43 L1326.61,1025.47 L1326.94,1025.52 L1327.27,1025.56 L1327.60,1025.60 L1327.93,1025.65 L1328.26,1025.69 L1328.59,1025.73 L1328.92,1025.77 L1329.25,1025.81 L1329.58,1025.86 L1329.91,1025.90 L1330.24,1025.94 L1330.57,1025.98 L1330.90,1026.02 L1331.23,1026.06 L1331.56,1026.10 L1331.89,1026.14 L1332.23,1026.18 L1332.56,1026.22 L1332.89,1026.26 L1333.22,1026.30 L1333.55,1026.34 L1333.88,1026.38 L1334.21,1026.42 L1334.54,1026.46 L1334.87,1026.50 L1335.20,1026.53 L1335.53,1026.57 L1335.86,1026.61 L1336.19,1026.65 L1336.52,1026.69 L1336.85,1026.73 L1337.18,1026.76 L1337.51,1026.80 L1337.84,1026.84 L1338.17,1026.88 L1338.50,1026.91 L1338.83,1026.95 L1339.16,1026.99 L1339.49,1027.03 L1339.82,1027.06 L1340.15,1027.10 L1340.48,1027.14 L1340.82,1027.17 L1341.15,1027.21 L1341.48,1027.25 L1341.81,1027.29 L1342.14,1027.32 L1342.47,1027.36 L1342.80,1027.40 L1343.13,1027.43 L1343.46,1027.47 L1343.79,1027.50 L1344.12,1027.54 L1344.45,1027.58 L1344.78,1027.61 L1345.11,1027.65 L1345.44,1027.69 L1345.77,1027.72 L1346.10,1027.76 L1346.43,1027.79 L1346.76,1027.83 L1347.09,1027.87 L1347.42,1027.90 L1347.75,1027.94 L1348.08,1027.97 L1348.41,1028.01 L1348.74,1028.05 L1349.07,1028.08 L1349.40,1028.12 L1349.74,1028.15 L1350.07,1028.19 L1350.40,1028.23 L1350.73,1028.26 L1351.06,1028.30 L1351.39,1028.33 L1351.72,1028.37 L1352.05,1028.41 L1352.38,1028.44 L1352.71,1028.48 L1353.04,1028.51 L1353.37,1028.55 L1353.70,1028.59 L1354.03,1028.62 L1354.36,1028.66 L1354.69,1028.69 L1355.02,1028.73 L1355.35,1028.77 L1355.68,1028.80 L1356.01,1028.84 L1356.34,1028.88 L1356.67,1028.91 L1357.00,1028.95 L1357.33,1028.98 L1357.66,1029.02 L1357.99,1029.06 L1358.32,1029.09 L1358.66,1029.13 L1358.99,1029.17 L1359.32,1029.20 L1359.65,1029.24 L1359.98,1029.28 L1360.31,1029.31 L1360.64,1029.35 L1360.97,1029.39 L1361.30,1029.42 L1361.63,1029.46 L1361.96,1029.50 L1362.29,1029.53 L1362.62,1029.57 L1362.95,1029.61 L1363.28,1029.64 L1363.61,1029.68 L1363.94,1029.72 L1364.27,1029.76 L1364.60,1029.79 L1364.93,1029.83 L1365.26,1029.87 L1365.59,1029.90 L1365.92,1029.94 L1366.25,1029.98 L1366.58,1030.02 L1366.91,1030.05 L1367.24,1030.09 L1367.58,1030.13 L1367.91,1030.17 L1368.24,1030.21 L1368.57,1030.24 L1368.90,1030.28 L1369.23,1030.32 L1369.56,1030.36 L1369.89,1030.40 L1370.22,1030.44 L1370.55,1030.47 L1370.88,1030.51 L1371.21,1030.55 L1371.54,1030.59 L1371.87,1030.63 L1372.20,1030.67 L1372.53,1030.71 L1372.86,1030.74 L1373.19,1030.78 L1373.52,1030.82 L1373.85,1030.86 L1374.18,1030.90 L1374.51,1030.94 L1374.84,1030.98 L1375.17,1031.02 L1375.50,1031.06 L1375.83,1031.10 L1376.17,1031.14 L1376.50,1031.18 L1376.83,1031.22 L1377.16,1031.26 L1377.49,1031.30 L1377.82,1031.34 L1378.15,1031.38 L1378.48,1031.42 L1378.81,1031.46 L1379.14,1031.50 L1379.47,1031.54 L1379.80,1031.58 L1380.13,1031.62 L1380.46,1031.66 L1380.79,1031.70 L1381.12,1031.74 L1381.45,1031.78 L1381.78,1031.82 L1382.11,1031.87 L1382.44,1031.91 L1382.77,1031.95 L1383.10,1031.99 L1383.43,1032.03 L1383.76,1032.07 L1384.09,1032.11 L1384.42,1032.16 L1384.75,1032.20 L1385.09,1032.24 L1385.42,1032.28 L1385.75,1032.32 L1386.08,1032.36 L1386.41,1032.41 L1386.74,1032.45 L1387.07,1032.49 L1387.40,1032.53 L1387.73,1032.58 L1388.06,1032.62 L1388.39,1032.66 L1388.72,1032.70 L1389.05,1032.75 L1389.38,1032.79 L1389.71,1032.83 L1390.04,1032.88 L1390.37,1032.92 L1390.70,1032.96 L1391.03,1033.01 L1391.36,1033.05 L1391.69,1033.09 L1392.02,1033.14 L1392.35,1033.18 L1392.68,1033.22 L1393.01,1033.27 L1393.34,1033.31 L1393.67,1033.36" fill="none" stroke="#e57a30" stroke-width="2.3" stroke-linejoin="round"/>
</g>
<rect x="1063.3" y="524.5" width="329.90" height="553.90" fill="none" stroke="#4a4a4d" stroke-width="1.4"/>
<path d="M1224,555.3 H1256.6" stroke="#f5a733" stroke-width="2"/>
<path d="M1224,602.9 H1256.6" stroke="#c1372a" stroke-width="3"/>
<path d="M1224,651.4 H1256.6" stroke="#e57a30" stroke-width="2"/>
<text x="1266.96" y="561.20" font-size="22.67" font-weight="normal" fill="#48484b" textLength="114.50" lengthAdjust="spacingAndGlyphs" id="t62">Field-driven</text>
<text x="1266.96" y="597.00" font-size="21.22" font-weight="normal" fill="#48484b" textLength="117.44" lengthAdjust="spacingAndGlyphs" id="t63">Mode-mode</text>
<text x="1267.64" y="623.00" font-size="20.14" font-weight="normal" fill="#48484b" textLength="84.53" lengthAdjust="spacingAndGlyphs" id="t64">coupling</text>
<text x="1267.95" y="658.30" font-size="21.80" font-weight="normal" fill="#48484b" textLength="47.80" lengthAdjust="spacingAndGlyphs" id="t65">Total</text>
</svg></body></html>
